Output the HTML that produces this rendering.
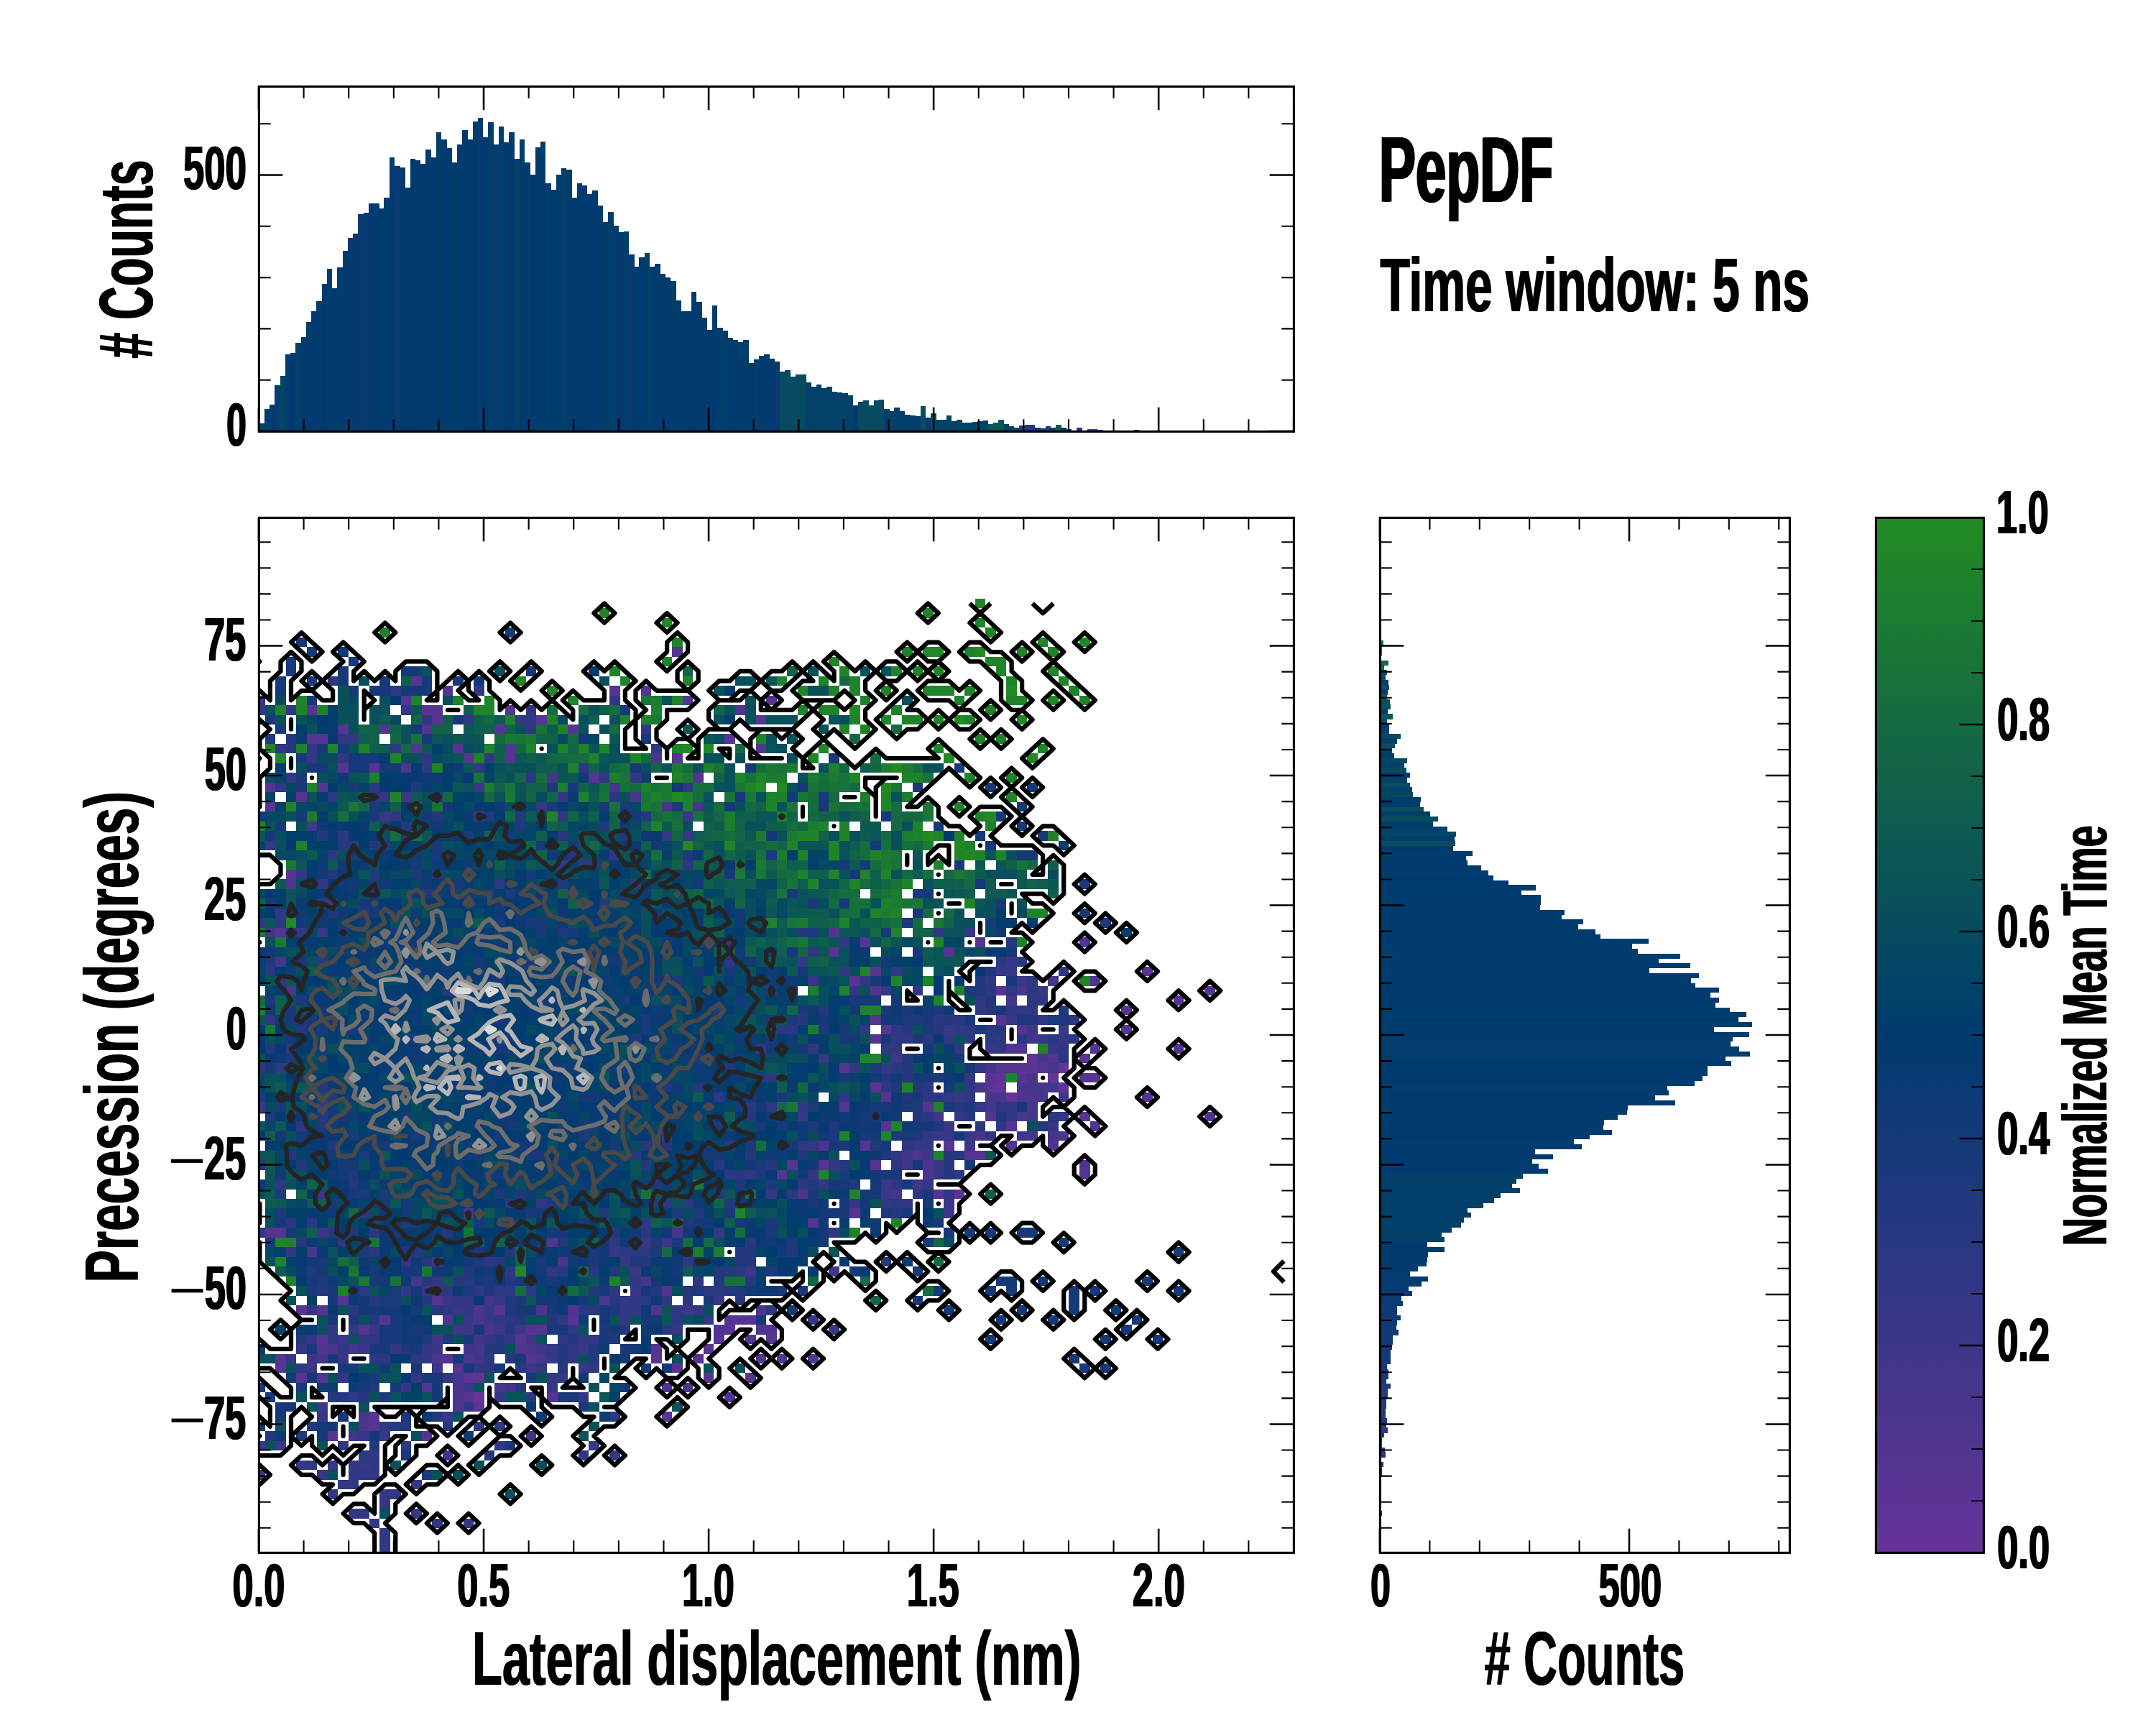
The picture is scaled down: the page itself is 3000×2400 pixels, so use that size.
<!DOCTYPE html><html><head><meta charset="utf-8"><title>PepDF</title><style>html,body{margin:0;padding:0;background:#fff}svg{display:block}</style></head><body><svg width="3000" height="2400" viewBox="0 0 3000 2400" font-family="Liberation Sans, sans-serif" font-weight="bold" fill="#000">
<rect width="3000" height="2400" fill="#fff"/>
<defs>
<clipPath id="cm"><rect x="360" y="720" width="1440" height="1440"/></clipPath>
<clipPath id="ct"><rect x="360" y="120" width="1440" height="480"/></clipPath>
<clipPath id="cr"><rect x="1920" y="720" width="570" height="1440"/></clipPath>
<linearGradient id="cbg" x1="0" y1="1" x2="0" y2="0"><stop offset="0" stop-color="#663399"/><stop offset="0.5" stop-color="#003b6f"/><stop offset="1" stop-color="#228b22"/></linearGradient>
</defs>
<g clip-path="url(#cm)"><g transform="translate(354.135,832.865) scale(14.53,13.47)" shape-rendering="crispEdges" stroke-width="1" fill="none">
<path stroke="#663399" d="M77 48.5h1M76 49.5h1M21 82.5h1"/>
<path stroke="#623397" d="M74 47.5h1M71 50.5h1M77 50.5h1M72 51.5h1M21 80.5h1"/>
<path stroke="#5d3495" d="M73 48.5h2M71 49.5h1M70 50.5h1M67 61.5h1M20 80.5h1"/>
<path stroke="#593494" d="M45 14.5h1M73 49.5h1M79 49.5h1M43 77.5h1M21 83.5h1M39 84.5h1"/>
<path stroke="#553492" d="M15 8.5h1M34 9.5h1M37 9.5h1M14 10.5h1M49 10.5h1M5 11.5h1M16 11.5h2M24 11.5h1M17 12.5h1M27 12.5h1M48 12.5h1M8 13.5h1M12 13.5h1M16 13.5h1M23 13.5h1M30 13.5h1M5 14.5h2M15 15.5h1M19 15.5h1M24 15.5h1M20 16.5h1M24 16.5h1M40 16.5h1M8 17.5h1M11 17.5h1M32 18.5h1M42 18.5h1M1 19.5h1M6 19.5h1M4 20.5h1M1 21.5h1M3 28.5h1M2 34.5h1M55 34.5h1M58 35.5h1M69 35.5h1M79 35.5h1M55 36.5h1M66 36.5h1M59 38.5h1M85 38.5h1M57 39.5h1M59 40.5h1M71 40.5h1M91 40.5h1M88 41.5h1M83 42.5h1M59 43.5h1M71 43.5h1M60 44.5h1M73 44.5h1M83 44.5h1M59 45.5h1M80 46.5h1M79 47.5h1M56 48.5h1M71 48.5h2M75 48.5h1M70 49.5h1M80 49.5h1M59 50.5h1M60 51.5h1M85 51.5h1M56 52.5h1M64 52.5h1M70 53.5h1M79 53.5h1M60 54.5h1M72 54.5h1M58 56.5h1M66 56.5h1M68 57.5h2M51 58.5h1M54 58.5h1M59 58.5h1M50 59.5h1M79 59.5h1M65 61.5h1M57 63.5h1M53 64.5h1M1 65.5h2M8 72.5h1M17 72.5h1M4 73.5h1M6 73.5h1M23 73.5h1M12 74.5h1M30 74.5h1M45 74.5h3M10 75.5h1M26 75.5h2M45 75.5h1M6 76.5h1M25 76.5h1M44 76.5h1M47 76.5h1M49 76.5h1M38 77.5h1M2 78.5h1M26 78.5h1M38 78.5h1M42 78.5h1M48 78.5h1M50 78.5h1M53 78.5h1M2 79.5h1M19 79.5h1M40 79.5h1M4 80.5h1M6 80.5h1M43 80.5h1M47 80.5h1M16 81.5h1M20 82.5h1M28 82.5h1M11 84.5h1M11 85.5h1M7 86.5h1M16 86.5h1"/>
<path stroke="#503590" d="M40 5.5h1M18 9.5h1M41 10.5h1M46 11.5h1M48 15.5h1M80 39.5h1M72 46.5h2M88 46.5h1M76 47.5h1M73 51.5h1M91 53.5h1M80 54.5h1M72 56.5h1M76 56.5h1M79 58.5h1M28 66.5h1M39 71.5h1M30 73.5h1M48 73.5h1M18 74.5h1M44 75.5h1M48 75.5h2M6 77.5h1M18 78.5h1M39 81.5h1M41 81.5h1M45 82.5h1"/>
<path stroke="#4c358e" d="M38 16.5h1M14 17.5h1M3 29.5h1M3 40.5h1M74 51.5h1M77 55.5h1M54 56.5h1M63 57.5h1M64 58.5h1M64 59.5h1M52 61.5h1M20 63.5h1M33 72.5h1M21 73.5h1M27 73.5h1M38 73.5h1M25 77.5h1M17 78.5h1M20 78.5h1M19 83.5h1M10 85.5h1"/>
<path stroke="#48358c" d="M39 21.5h1M73 40.5h1M75 47.5h1M74 49.5h1M73 50.5h1M75 50.5h1M70 51.5h2M73 53.5h1M29 68.5h1M21 74.5h1M22 75.5h1M7 77.5h1M26 77.5h1M27 78.5h1M19 81.5h1M23 81.5h1M19 82.5h1M10 84.5h1"/>
<path stroke="#43368b" d="M28 18.5h1M34 19.5h1M36 20.5h1M42 21.5h1M5 23.5h1M2 37.5h1M76 39.5h1M72 41.5h1M70 48.5h1M76 48.5h1M69 50.5h1M74 50.5h1M76 50.5h1M75 51.5h1M70 52.5h1M74 52.5h1M74 53.5h1M69 55.5h1M74 55.5h1M76 55.5h1M61 61.5h1M40 65.5h1M5 67.5h1M55 69.5h1M15 70.5h1M37 70.5h1M22 72.5h1M9 77.5h1M21 77.5h1M6 78.5h1M19 80.5h1"/>
<path stroke="#3f3689" d="M14 20.5h1M1 34.5h1M74 44.5h1M74 45.5h1M61 47.5h1M65 53.5h1M39 55.5h1M73 55.5h1M62 57.5h1M62 58.5h1M63 60.5h1M66 63.5h1M17 68.5h1M41 73.5h1M19 75.5h2M25 75.5h1M17 76.5h1M21 76.5h1M26 76.5h1M20 77.5h1M27 77.5h1M5 78.5h1M21 78.5h1M20 81.5h1M24 81.5h1M6 83.5h1M9 86.5h1M18 88.5h1"/>
<path stroke="#3b3687" d="M21 19.5h1M21 22.5h1M41 22.5h1M7 31.5h1M73 39.5h1M72 43.5h1M75 45.5h1M77 51.5h1M52 53.5h1M66 54.5h1M68 56.5h1M64 57.5h1M65 58.5h1M60 60.5h1M60 61.5h1M6 65.5h1M39 66.5h1M36 69.5h1M47 69.5h1M18 72.5h1M20 74.5h1M22 74.5h1M23 75.5h1M8 76.5h1M10 77.5h1M17 77.5h1M5 79.5h1M17 79.5h1M26 79.5h1M31 79.5h1M18 84.5h1M26 86.5h1M2 87.5h1"/>
<path stroke="#363785" d="M27 21.5h1M12 22.5h1M39 24.5h1M41 24.5h1M29 27.5h1M6 34.5h1M52 37.5h1M72 37.5h1M71 38.5h2M53 39.5h1M75 40.5h1M66 44.5h1M77 44.5h1M77 45.5h1M48 46.5h1M70 46.5h1M76 46.5h1M54 47.5h1M67 51.5h1M0 52.5h1M69 52.5h1M65 55.5h2M68 55.5h1M63 56.5h2M65 59.5h1M6 61.5h1M49 61.5h1M66 62.5h1M44 65.5h1M37 66.5h1M34 67.5h1M35 68.5h1M16 71.5h2M36 71.5h1M23 72.5h1M44 72.5h1M19 73.5h1M22 73.5h1M11 75.5h1M55 75.5h1M31 77.5h1M8 78.5h1M28 78.5h1M28 81.5h1M6 84.5h1M10 86.5h1M12 86.5h1M0 87.5h1M32 87.5h1M4 89.5h1M7 89.5h1M10 89.5h1M0 90.5h1M12 92.5h1M15 94.5h1M12 98.5h1"/>
<path stroke="#323784" d="M21 9.5h1M0 10.5h1M34 10.5h1M0 11.5h1M3 11.5h1M14 11.5h1M26 11.5h1M16 12.5h1M20 12.5h1M25 12.5h2M26 13.5h1M37 13.5h1M8 14.5h2M5 15.5h1M13 15.5h1M38 15.5h1M5 16.5h1M8 16.5h1M16 16.5h1M22 16.5h1M16 17.5h1M21 17.5h1M3 18.5h1M33 18.5h1M36 18.5h1M2 19.5h1M41 19.5h1M12 20.5h1M29 20.5h1M13 22.5h1M1 25.5h1M34 26.5h1M4 28.5h1M6 29.5h1M36 29.5h1M2 32.5h1M0 33.5h1M65 34.5h1M68 34.5h1M56 35.5h1M53 36.5h1M56 38.5h1M61 38.5h1M77 38.5h1M2 39.5h1M58 39.5h1M57 40.5h1M60 40.5h1M63 40.5h1M72 40.5h1M69 41.5h1M69 42.5h1M72 42.5h2M1 43.5h1M75 43.5h1M58 44.5h1M67 44.5h1M62 45.5h1M66 45.5h1M53 46.5h1M60 46.5h2M71 46.5h1M2 48.5h1M57 48.5h1M60 48.5h1M69 48.5h1M68 49.5h1M60 50.5h1M56 51.5h1M66 51.5h1M68 51.5h1M6 52.5h1M52 52.5h1M71 52.5h2M67 53.5h1M72 53.5h1M77 53.5h1M76 54.5h1M64 55.5h1M70 55.5h1M53 56.5h1M61 57.5h1M55 58.5h1M47 59.5h1M53 59.5h1M2 60.5h1M52 60.5h1M54 60.5h1M61 60.5h1M64 60.5h1M66 61.5h1M27 62.5h1M57 62.5h1M60 62.5h1M62 62.5h1M37 64.5h1M0 65.5h1M55 65.5h1M3 67.5h1M14 68.5h1M41 68.5h1M28 69.5h1M17 70.5h1M36 70.5h1M14 71.5h1M20 72.5h1M35 72.5h1M5 73.5h1M20 73.5h1M35 73.5h2M42 73.5h1M49 73.5h1M23 74.5h1M29 74.5h1M35 74.5h1M43 74.5h1M53 74.5h1M7 75.5h1M9 75.5h1M30 75.5h1M40 75.5h1M5 76.5h1M7 76.5h1M22 76.5h1M24 76.5h1M29 76.5h1M31 76.5h2M4 77.5h1M8 77.5h1M13 77.5h1M16 77.5h1M28 77.5h1M3 78.5h1M16 78.5h1M30 78.5h1M4 79.5h1M21 79.5h1M27 79.5h1M32 79.5h1M8 80.5h1M15 80.5h1M18 80.5h1M28 80.5h2M14 81.5h1M23 82.5h1M31 82.5h1M20 83.5h1M12 85.5h1M21 85.5h1M23 85.5h1M8 87.5h1M23 87.5h1M11 88.5h1M31 88.5h1M34 88.5h1M5 89.5h1M9 89.5h1M6 90.5h1M9 90.5h3M8 91.5h2M15 91.5h1M7 92.5h1M13 92.5h1M12 93.5h1M9 94.5h2M11 95.5h1M17 95.5h1M20 95.5h1M12 96.5h1M12 97.5h1M12 99.5h1"/>
<path stroke="#2e3782" d="M7 8.5h1M13 9.5h1M2 15.5h1M31 17.5h1M26 18.5h1M11 19.5h1M7 20.5h1M29 22.5h1M8 24.5h1M7 26.5h1M31 27.5h2M41 27.5h1M6 31.5h1M2 33.5h1M3 34.5h2M45 35.5h1M6 37.5h1M73 37.5h1M70 39.5h1M74 39.5h1M74 40.5h1M74 41.5h2M74 42.5h1M61 44.5h1M68 44.5h1M61 45.5h1M68 45.5h1M71 45.5h1M3 46.5h1M67 46.5h1M77 46.5h1M0 48.5h1M68 50.5h1M44 51.5h1M64 51.5h1M4 54.5h1M69 54.5h1M52 56.5h1M62 56.5h1M67 59.5h1M63 61.5h1M24 62.5h1M61 62.5h1M3 64.5h1M11 65.5h1M34 66.5h1M35 67.5h1M22 68.5h1M24 69.5h1M42 70.5h1M18 71.5h1M21 71.5h1M23 71.5h1M26 71.5h1M34 71.5h1M43 71.5h2M19 72.5h1M36 72.5h1M39 72.5h1M18 73.5h1M40 73.5h1M10 76.5h2M30 77.5h1M12 78.5h1M22 79.5h1M9 82.5h1M14 87.5h1M10 88.5h1M11 89.5h1"/>
<path stroke="#293880" d="M34 20.5h1M29 24.5h1M9 25.5h1M23 29.5h1M45 37.5h1M71 37.5h1M1 38.5h1M70 40.5h1M65 43.5h1M67 43.5h1M78 43.5h1M50 44.5h2M70 44.5h1M64 45.5h1M70 45.5h1M73 45.5h1M76 45.5h1M78 45.5h1M77 47.5h1M61 48.5h1M49 49.5h1M64 50.5h1M65 51.5h1M47 52.5h1M49 52.5h1M64 53.5h1M76 53.5h1M71 54.5h1M45 56.5h1M36 57.5h1M44 58.5h1M61 58.5h1M45 59.5h2M51 61.5h1M39 62.5h1M41 62.5h1M10 63.5h1M5 64.5h1M7 65.5h1M37 65.5h1M8 66.5h1M47 66.5h1M11 67.5h1M36 67.5h2M23 68.5h1M29 69.5h1M46 69.5h1M20 70.5h1M10 71.5h1M24 71.5h1M37 72.5h1M41 72.5h1M9 73.5h1M31 73.5h2M24 74.5h1M40 74.5h1M11 78.5h1M15 78.5h1M22 78.5h1M25 79.5h1M26 82.5h1M34 84.5h1M13 85.5h1"/>
<path stroke="#25387e" d="M3 14.5h1M3 15.5h1M11 20.5h1M25 22.5h1M37 22.5h1M14 23.5h1M33 23.5h1M6 24.5h1M8 25.5h1M11 25.5h2M30 26.5h1M11 28.5h1M17 28.5h1M29 29.5h1M16 30.5h1M22 30.5h1M35 30.5h1M33 31.5h1M10 32.5h1M52 34.5h1M72 35.5h1M18 40.5h1M49 40.5h1M54 42.5h1M70 42.5h1M52 43.5h1M66 43.5h1M4 44.5h1M62 44.5h1M65 44.5h1M60 49.5h1M62 49.5h1M6 50.5h1M63 50.5h1M67 52.5h1M6 53.5h1M47 53.5h1M68 53.5h1M75 54.5h1M37 56.5h1M39 56.5h1M3 57.5h1M47 57.5h1M66 57.5h2M37 58.5h1M49 58.5h1M56 58.5h1M66 58.5h1M66 59.5h1M44 61.5h1M38 62.5h1M61 63.5h1M18 65.5h1M34 65.5h1M4 66.5h1M15 67.5h1M46 67.5h1M16 68.5h1M60 68.5h1M32 69.5h1M44 69.5h2M16 70.5h1M19 70.5h1M24 70.5h1M44 70.5h1M47 70.5h1M6 71.5h1M41 71.5h1M45 71.5h1M11 72.5h1M16 72.5h1M34 72.5h1M46 72.5h1M17 73.5h1M11 74.5h1M24 75.5h1M39 75.5h1M23 76.5h1M30 76.5h1M22 77.5h2M29 77.5h1M24 78.5h1M29 78.5h1M32 78.5h1M25 81.5h1M7 82.5h2M10 82.5h1M14 85.5h1M18 85.5h1M22 88.5h1"/>
<path stroke="#21387c" d="M1 14.5h1M28 19.5h1M17 22.5h1M22 22.5h1M25 23.5h1M14 24.5h1M35 24.5h1M18 26.5h1M7 28.5h1M1 37.5h1M70 38.5h1M69 40.5h1M4 41.5h1M70 41.5h1M44 42.5h1M77 42.5h1M74 43.5h1M71 44.5h1M36 45.5h1M1 46.5h1M62 47.5h1M59 48.5h1M62 48.5h1M48 49.5h1M42 50.5h1M0 51.5h1M63 53.5h1M71 53.5h1M6 54.5h1M63 55.5h1M7 56.5h1M59 56.5h1M52 57.5h1M0 58.5h1M4 58.5h1M9 60.5h1M53 60.5h1M57 60.5h1M45 62.5h1M33 63.5h1M42 63.5h1M60 63.5h1M11 64.5h1M24 64.5h1M41 64.5h1M9 65.5h1M10 66.5h1M29 66.5h1M38 66.5h1M24 67.5h1M51 67.5h1M36 68.5h2M46 68.5h2M5 69.5h1M20 69.5h1M6 70.5h1M32 71.5h1M38 71.5h1M42 71.5h1M24 72.5h1M24 73.5h1M34 73.5h1M25 74.5h1M28 74.5h1M35 75.5h1M4 76.5h1M18 76.5h1M34 76.5h1M14 77.5h1M32 77.5h1M29 79.5h1M0 81.5h1M11 81.5h1M12 82.5h1M17 84.5h1M5 85.5h1M1 86.5h1M11 87.5h1"/>
<path stroke="#1c397b" d="M9 19.5h1M15 19.5h1M30 19.5h1M11 21.5h1M28 21.5h1M35 21.5h1M40 21.5h1M35 22.5h1M20 24.5h1M27 25.5h1M41 26.5h1M49 26.5h1M15 28.5h1M11 29.5h1M11 30.5h1M24 30.5h1M7 32.5h1M23 33.5h1M81 33.5h1M8 34.5h1M23 34.5h1M29 34.5h1M53 34.5h1M43 35.5h1M32 39.5h1M40 39.5h1M69 39.5h1M68 40.5h1M1 41.5h1M52 42.5h1M65 42.5h1M4 43.5h1M51 43.5h1M62 43.5h2M73 43.5h1M76 43.5h2M6 44.5h1M54 44.5h1M64 44.5h1M69 44.5h1M15 45.5h1M63 45.5h1M3 47.5h1M42 47.5h1M35 48.5h1M45 48.5h1M65 49.5h1M39 50.5h1M61 50.5h1M7 51.5h1M62 51.5h1M2 52.5h1M53 52.5h1M63 52.5h1M68 52.5h1M1 53.5h1M44 54.5h1M53 54.5h1M55 54.5h1M65 54.5h1M9 55.5h1M31 55.5h1M55 55.5h1M61 55.5h1M47 56.5h1M56 56.5h1M10 57.5h1M60 57.5h1M28 58.5h1M48 58.5h1M9 59.5h1M48 59.5h1M56 59.5h1M38 60.5h1M46 60.5h1M49 60.5h1M2 61.5h1M10 61.5h1M12 61.5h1M23 61.5h1M25 61.5h1M25 62.5h1M28 62.5h1M2 63.5h1M40 63.5h1M45 63.5h1M14 64.5h1M51 66.5h1M10 67.5h1M14 67.5h1M38 67.5h1M47 67.5h1M21 68.5h1M32 68.5h1M34 69.5h1M49 69.5h1M22 70.5h1M5 71.5h1M13 71.5h1M20 71.5h1M22 71.5h1M46 71.5h1M12 72.5h2M25 72.5h1M43 72.5h1M9 74.5h1M33 75.5h1M16 76.5h1M11 80.5h1M29 82.5h2M14 84.5h1M4 86.5h1"/>
<path stroke="#183979" d="M24 3.5h1M4 4.5h1M5 5.5h1M3 6.5h1M9 6.5h1M3 7.5h1M8 7.5h1M15 7.5h1M26 7.5h1M2 8.5h1M5 8.5h1M8 8.5h1M12 8.5h1M16 8.5h1M19 8.5h1M9 9.5h1M11 9.5h2M14 9.5h3M5 10.5h1M35 11.5h1M1 12.5h1M19 12.5h1M2 13.5h1M15 13.5h1M16 14.5h1M37 14.5h1M6 15.5h1M8 15.5h1M4 16.5h1M9 16.5h3M55 16.5h1M5 17.5h2M9 17.5h2M12 17.5h1M36 17.5h1M47 17.5h1M67 17.5h1M4 18.5h1M4 19.5h1M52 19.5h1M63 19.5h1M70 19.5h1M17 20.5h1M46 20.5h1M51 20.5h1M54 20.5h1M33 21.5h1M54 21.5h1M0 22.5h1M4 22.5h1M11 22.5h1M16 22.5h1M36 22.5h1M60 22.5h1M71 22.5h1M2 23.5h1M73 23.5h1M1 24.5h1M75 24.5h1M17 25.5h1M30 25.5h1M59 25.5h1M70 25.5h1M17 26.5h1M15 27.5h1M56 27.5h1M58 27.5h1M67 27.5h1M26 28.5h1M45 28.5h1M57 28.5h1M19 29.5h1M42 29.5h1M69 29.5h1M79 29.5h1M17 30.5h1M51 30.5h1M63 30.5h2M1 31.5h1M10 31.5h1M53 31.5h1M56 31.5h1M71 31.5h1M63 32.5h1M79 32.5h1M26 33.5h2M62 33.5h1M70 33.5h1M27 34.5h1M30 34.5h1M60 34.5h1M39 35.5h1M49 36.5h1M51 36.5h1M63 36.5h1M72 36.5h1M4 37.5h1M26 37.5h1M35 37.5h1M60 37.5h1M11 38.5h1M15 38.5h1M45 38.5h1M59 39.5h1M72 39.5h1M19 41.5h1M35 41.5h1M46 41.5h1M57 41.5h3M3 42.5h1M47 42.5h1M60 42.5h1M62 42.5h1M64 42.5h1M71 42.5h1M3 43.5h1M5 43.5h1M37 43.5h1M54 43.5h1M64 43.5h1M68 43.5h1M9 44.5h1M37 44.5h1M56 44.5h1M49 45.5h1M56 45.5h2M60 45.5h1M40 46.5h1M52 46.5h1M64 46.5h1M6 47.5h1M1 48.5h1M29 48.5h1M68 48.5h1M56 49.5h1M61 49.5h1M63 49.5h2M66 50.5h1M50 51.5h1M63 51.5h1M46 52.5h1M59 52.5h2M62 52.5h1M66 52.5h1M73 52.5h1M14 53.5h1M59 53.5h1M31 54.5h2M48 54.5h1M50 54.5h1M63 54.5h2M4 55.5h1M15 55.5h1M58 55.5h1M62 55.5h1M67 55.5h1M11 56.5h1M55 56.5h1M60 56.5h1M26 57.5h2M43 57.5h1M8 58.5h1M63 58.5h1M14 59.5h1M22 59.5h1M25 59.5h1M60 59.5h2M55 60.5h2M62 60.5h1M9 61.5h1M53 61.5h1M59 61.5h1M64 61.5h1M7 62.5h1M11 62.5h2M14 62.5h1M53 62.5h1M56 62.5h1M26 63.5h2M54 63.5h3M62 63.5h1M2 64.5h1M13 64.5h1M21 64.5h1M31 64.5h1M49 64.5h1M65 64.5h1M3 65.5h1M28 65.5h2M49 65.5h1M54 65.5h1M66 65.5h1M68 65.5h1M73 65.5h1M1 66.5h1M40 66.5h1M64 66.5h1M77 66.5h1M21 67.5h1M32 67.5h1M88 67.5h1M6 68.5h1M27 68.5h1M6 69.5h1M11 69.5h1M14 69.5h2M22 69.5h1M57 69.5h1M63 69.5h1M5 70.5h1M11 70.5h1M21 70.5h1M25 70.5h1M28 70.5h1M71 70.5h1M75 70.5h1M85 70.5h1M7 71.5h1M15 71.5h1M29 71.5h1M33 71.5h1M37 71.5h1M50 71.5h1M52 71.5h1M65 71.5h1M78 71.5h1M80 71.5h1M88 71.5h1M7 72.5h1M63 72.5h1M78 72.5h1M11 73.5h1M15 73.5h1M25 73.5h1M28 73.5h1M33 73.5h1M51 73.5h1M66 73.5h1M78 73.5h1M7 74.5h1M13 74.5h1M48 74.5h1M71 74.5h1M76 74.5h1M84 74.5h1M12 75.5h2M15 75.5h1M21 75.5h1M28 75.5h2M83 75.5h1M12 76.5h2M20 76.5h1M33 76.5h1M81 76.5h1M86 76.5h1M5 77.5h1M11 77.5h2M15 77.5h1M35 77.5h1M7 78.5h1M19 78.5h1M25 78.5h1M8 79.5h2M15 79.5h1M20 79.5h1M37 79.5h1M79 79.5h1M16 80.5h2M26 80.5h1M4 81.5h1M10 81.5h1M13 81.5h1M1 82.5h1M2 83.5h2M31 83.5h1M8 84.5h1M11 86.5h1M24 87.5h1M14 88.5h1M16 90.5h1"/>
<path stroke="#143977" d="M8 5.5h1M14 7.5h1M21 8.5h1M2 9.5h1M31 14.5h1M13 17.5h1M37 18.5h1M74 19.5h1M18 21.5h1M45 21.5h1M73 21.5h1M17 23.5h1M65 23.5h1M24 24.5h1M49 24.5h1M69 24.5h1M34 25.5h1M38 25.5h1M9 26.5h1M15 26.5h1M73 26.5h2M8 27.5h1M20 27.5h1M6 28.5h1M40 28.5h1M9 29.5h1M16 29.5h1M20 30.5h1M11 31.5h1M23 31.5h1M11 32.5h1M38 32.5h1M4 33.5h1M13 34.5h1M14 35.5h1M19 35.5h1M1 36.5h1M8 36.5h1M46 36.5h1M7 37.5h1M12 37.5h1M21 37.5h1M34 37.5h1M25 38.5h1M28 38.5h1M31 38.5h1M42 38.5h1M52 38.5h1M23 39.5h1M38 39.5h1M37 40.5h1M13 41.5h1M37 41.5h1M61 41.5h1M57 42.5h1M23 43.5h1M49 43.5h1M61 43.5h1M3 45.5h1M10 45.5h1M23 45.5h1M51 45.5h1M22 46.5h3M38 46.5h1M49 46.5h1M11 47.5h1M16 47.5h1M18 47.5h1M45 47.5h2M67 47.5h1M42 48.5h1M59 49.5h1M13 50.5h1M2 51.5h1M31 51.5h2M47 51.5h1M7 52.5h1M48 52.5h1M7 53.5h3M40 53.5h1M49 53.5h1M58 53.5h1M11 54.5h1M24 54.5h1M29 54.5h1M2 55.5h1M23 55.5h1M59 55.5h1M12 56.5h1M25 56.5h1M34 56.5h1M43 56.5h1M51 56.5h1M7 57.5h2M21 57.5h1M44 57.5h1M9 58.5h1M12 58.5h1M24 58.5h1M47 58.5h1M53 58.5h1M68 58.5h1M2 59.5h1M8 59.5h1M52 59.5h1M59 59.5h1M0 60.5h1M37 60.5h1M59 60.5h1M58 61.5h1M30 62.5h1M42 62.5h1M46 62.5h1M58 62.5h1M64 62.5h1M14 63.5h1M15 64.5h1M42 64.5h2M46 64.5h1M54 64.5h1M13 65.5h1M36 65.5h1M70 65.5h1M74 65.5h1M27 66.5h1M33 66.5h1M35 66.5h1M54 66.5h1M29 67.5h2M33 67.5h1M50 67.5h1M5 68.5h1M20 68.5h1M30 68.5h1M42 68.5h1M27 69.5h1M40 69.5h1M12 70.5h1M38 70.5h1M72 70.5h1M47 71.5h1M70 71.5h1M72 71.5h1M10 72.5h1M27 72.5h2M31 72.5h1M10 73.5h1M12 73.5h2M26 73.5h1M73 73.5h1M82 73.5h1M31 74.5h1M33 74.5h1M37 74.5h2M34 75.5h1M70 76.5h1M36 77.5h1M35 78.5h1M78 78.5h1M12 79.5h1M23 79.5h1M39 79.5h1M81 79.5h1M3 80.5h1M5 80.5h1M17 81.5h1M35 81.5h1M17 82.5h1M2 84.5h1M33 84.5h1M6 85.5h2M6 86.5h1"/>
<path stroke="#0f3a75" d="M19 17.5h1M8 18.5h1M16 18.5h2M31 18.5h1M40 19.5h1M23 21.5h1M6 23.5h1M35 23.5h1M18 24.5h1M35 25.5h1M12 26.5h1M28 26.5h1M42 26.5h1M6 27.5h1M17 27.5h1M8 29.5h1M12 29.5h1M18 29.5h1M15 30.5h1M18 30.5h1M30 30.5h1M37 30.5h1M27 31.5h1M4 32.5h1M8 32.5h1M13 32.5h1M15 32.5h1M23 32.5h1M25 32.5h1M46 32.5h1M6 33.5h1M10 33.5h1M14 33.5h1M29 33.5h1M32 33.5h1M46 33.5h1M71 34.5h1M8 35.5h1M15 35.5h1M21 35.5h1M23 35.5h1M0 37.5h1M18 37.5h1M32 37.5h2M47 37.5h1M3 38.5h1M16 38.5h1M18 38.5h1M21 38.5h1M49 38.5h1M30 39.5h1M33 39.5h1M39 39.5h1M49 39.5h1M51 39.5h1M16 40.5h1M34 40.5h1M27 41.5h2M1 42.5h1M6 42.5h2M13 42.5h1M20 42.5h1M38 42.5h1M53 42.5h1M61 42.5h1M7 43.5h1M10 43.5h1M15 43.5h1M44 43.5h1M60 43.5h1M27 45.5h1M38 45.5h1M46 45.5h2M6 46.5h1M21 46.5h1M50 46.5h1M66 46.5h1M2 47.5h1M15 47.5h1M31 47.5h1M41 47.5h1M30 48.5h1M34 48.5h1M22 49.5h1M43 49.5h1M66 49.5h1M19 50.5h1M22 50.5h1M38 50.5h1M40 50.5h1M22 51.5h1M29 51.5h1M37 51.5h1M45 51.5h2M61 51.5h1M29 52.5h1M33 52.5h1M61 52.5h1M17 53.5h3M23 53.5h1M33 53.5h1M42 53.5h1M56 53.5h1M61 53.5h1M7 54.5h1M17 54.5h1M35 54.5h1M52 54.5h1M58 54.5h1M62 54.5h1M6 55.5h1M16 55.5h1M52 55.5h1M54 55.5h1M17 56.5h1M20 56.5h1M26 56.5h1M5 57.5h1M20 57.5h1M25 57.5h1M41 57.5h1M49 57.5h2M15 58.5h1M19 58.5h1M34 58.5h1M7 59.5h1M23 59.5h1M10 60.5h1M29 60.5h1M31 60.5h1M36 60.5h1M39 60.5h1M21 61.5h1M26 61.5h1M28 61.5h1M33 61.5h1M35 61.5h1M56 61.5h1M54 62.5h1M7 63.5h1M58 63.5h1M59 64.5h1M17 65.5h1M39 65.5h1M41 65.5h1M5 66.5h1M25 66.5h1M49 66.5h1M10 68.5h1M12 68.5h1M15 68.5h1M33 68.5h1M40 68.5h1M17 69.5h2M21 69.5h1M7 70.5h1M14 70.5h1M23 70.5h1M26 70.5h2M29 70.5h1M33 70.5h1M9 71.5h1M38 72.5h1M37 73.5h1M14 74.5h1M5 75.5h1M14 75.5h1M16 75.5h1M37 75.5h1M14 76.5h2M33 77.5h1M10 80.5h1M6 81.5h2M9 81.5h1M2 86.5h1M20 86.5h1"/>
<path stroke="#0b3a73" d="M4 14.5h1M15 18.5h1M16 19.5h1M30 20.5h1M25 21.5h1M20 22.5h1M8 23.5h1M10 23.5h1M5 24.5h1M7 24.5h1M37 24.5h1M36 25.5h1M33 26.5h1M10 27.5h1M14 27.5h1M45 27.5h1M8 28.5h1M16 28.5h1M17 29.5h1M32 29.5h1M6 30.5h1M9 30.5h1M25 30.5h1M4 31.5h1M19 31.5h1M39 31.5h1M6 32.5h1M7 33.5h1M25 33.5h1M34 33.5h1M72 33.5h1M15 34.5h1M21 34.5h1M4 35.5h1M12 35.5h1M31 36.5h1M39 36.5h1M10 37.5h1M24 37.5h1M14 38.5h1M18 39.5h1M20 39.5h1M22 39.5h1M28 39.5h1M42 39.5h1M45 39.5h1M50 39.5h1M2 40.5h1M29 40.5h1M31 40.5h1M38 40.5h1M46 40.5h1M20 41.5h3M31 41.5h1M10 42.5h1M15 42.5h1M23 42.5h1M26 42.5h1M32 42.5h1M37 42.5h1M39 42.5h1M63 42.5h1M66 42.5h1M8 43.5h1M35 43.5h2M38 43.5h1M29 44.5h2M33 44.5h1M24 45.5h1M40 45.5h1M43 45.5h1M65 45.5h1M14 46.5h2M31 46.5h2M42 46.5h1M1 47.5h1M10 47.5h1M13 47.5h2M37 47.5h1M63 47.5h1M12 48.5h1M24 48.5h1M28 48.5h1M39 48.5h1M43 48.5h1M5 49.5h1M7 49.5h1M16 49.5h1M28 49.5h1M42 49.5h1M46 49.5h1M67 49.5h1M7 50.5h1M17 50.5h2M24 50.5h1M36 50.5h1M44 50.5h1M51 50.5h1M53 50.5h1M9 51.5h1M11 51.5h1M20 51.5h2M26 51.5h1M35 51.5h1M48 51.5h1M58 51.5h1M12 52.5h1M22 52.5h1M24 52.5h1M55 52.5h1M58 52.5h1M24 53.5h1M54 53.5h2M8 54.5h1M23 54.5h1M51 54.5h1M57 54.5h1M59 54.5h1M7 55.5h1M19 55.5h1M30 55.5h1M45 55.5h1M10 56.5h1M13 56.5h4M24 57.5h1M32 57.5h1M40 57.5h1M54 57.5h1M59 57.5h1M27 58.5h1M29 58.5h2M45 58.5h1M11 59.5h1M21 59.5h1M24 59.5h1M26 59.5h1M31 59.5h1M34 59.5h1M40 59.5h1M49 59.5h1M8 60.5h1M12 60.5h1M18 60.5h1M50 61.5h1M9 62.5h1M20 62.5h1M22 62.5h1M37 62.5h1M51 62.5h2M12 63.5h1M43 63.5h1M12 64.5h1M16 64.5h1M47 64.5h1M64 64.5h1M8 65.5h1M14 65.5h1M12 66.5h2M16 66.5h1M36 66.5h1M48 66.5h1M53 66.5h1M28 67.5h1M31 68.5h1M38 68.5h2M62 68.5h1M4 69.5h1M12 69.5h1M37 69.5h1M39 69.5h1M58 69.5h1M40 70.5h1M19 71.5h1M48 71.5h2M9 72.5h1M15 72.5h1M29 72.5h1M29 73.5h1M38 75.5h1M37 76.5h1M14 78.5h1M31 80.5h1"/>
<path stroke="#073a72" d="M6 12.5h1M7 13.5h1M7 14.5h1M14 18.5h1M20 18.5h1M12 19.5h1M14 19.5h1M21 21.5h1M29 21.5h1M13 23.5h1M21 23.5h1M9 24.5h1M19 24.5h1M38 24.5h1M3 25.5h1M14 25.5h1M13 26.5h1M24 26.5h1M18 27.5h1M34 27.5h1M20 29.5h1M1 30.5h1M8 30.5h1M27 30.5h1M33 30.5h1M13 31.5h1M21 31.5h1M24 31.5h1M29 31.5h1M24 32.5h1M29 32.5h1M32 32.5h1M44 32.5h2M18 33.5h2M38 33.5h1M42 33.5h1M74 33.5h1M16 34.5h1M36 34.5h1M38 34.5h1M40 34.5h1M5 35.5h1M13 35.5h1M24 35.5h1M30 35.5h1M40 35.5h1M0 36.5h1M10 36.5h2M14 36.5h1M17 36.5h1M21 36.5h1M29 36.5h1M34 36.5h1M37 36.5h1M57 36.5h2M70 36.5h1M14 37.5h2M30 37.5h2M38 37.5h1M41 37.5h1M7 38.5h3M13 38.5h1M17 38.5h1M34 38.5h1M36 38.5h1M69 38.5h1M14 39.5h2M21 39.5h1M36 39.5h1M6 40.5h1M11 40.5h1M19 40.5h1M51 40.5h1M65 40.5h1M5 41.5h2M12 41.5h1M14 41.5h1M41 41.5h1M43 41.5h2M56 41.5h1M12 42.5h1M27 42.5h1M33 42.5h1M42 42.5h1M45 42.5h1M6 43.5h1M11 43.5h1M18 43.5h1M20 43.5h1M24 43.5h1M39 43.5h1M55 43.5h1M5 44.5h1M7 44.5h2M12 44.5h1M15 44.5h1M0 45.5h1M4 45.5h2M7 45.5h1M11 45.5h1M16 45.5h1M22 45.5h1M29 45.5h1M37 45.5h1M2 46.5h1M16 46.5h1M18 46.5h1M20 46.5h1M36 46.5h1M12 47.5h1M23 47.5h1M28 47.5h1M11 48.5h1M22 48.5h2M52 48.5h1M55 48.5h1M6 49.5h1M10 49.5h2M13 49.5h1M17 49.5h1M29 49.5h1M45 49.5h1M51 49.5h1M12 50.5h1M20 50.5h2M25 50.5h1M27 50.5h2M34 50.5h2M37 50.5h1M5 51.5h1M8 51.5h1M16 51.5h1M24 51.5h1M33 51.5h1M38 51.5h1M20 52.5h1M27 52.5h1M31 52.5h2M34 52.5h1M38 52.5h1M40 52.5h1M43 52.5h1M4 53.5h1M10 53.5h1M12 53.5h1M21 53.5h1M25 53.5h1M30 53.5h1M32 53.5h1M34 53.5h1M36 53.5h1M39 53.5h1M44 53.5h1M57 53.5h1M60 53.5h1M21 54.5h1M28 54.5h1M33 54.5h2M54 54.5h1M56 54.5h1M0 55.5h1M12 55.5h1M14 55.5h1M22 55.5h1M33 55.5h1M37 55.5h1M47 55.5h1M5 56.5h2M8 56.5h1M22 56.5h3M30 56.5h2M50 56.5h1M14 57.5h2M18 57.5h1M37 57.5h1M42 57.5h1M46 57.5h1M57 57.5h2M11 58.5h1M16 58.5h1M58 58.5h1M5 59.5h1M17 59.5h2M20 59.5h1M27 59.5h1M29 59.5h1M38 59.5h1M15 60.5h1M23 60.5h1M32 60.5h1M47 60.5h1M8 61.5h1M46 61.5h1M23 62.5h1M36 62.5h1M5 63.5h1M18 63.5h1M24 63.5h2M28 63.5h1M52 63.5h1M12 65.5h1M23 65.5h1M47 65.5h2M59 65.5h1M14 66.5h1M22 66.5h1M26 66.5h1M46 66.5h1M50 66.5h1M6 67.5h1M12 67.5h1M17 67.5h1M22 67.5h1M27 67.5h1M40 67.5h1M52 67.5h1M4 68.5h1M13 68.5h1M18 68.5h1M51 68.5h2M10 69.5h1M13 69.5h1M26 69.5h1M50 69.5h1M4 70.5h1M39 70.5h1M28 71.5h1M21 72.5h1M7 73.5h1M15 74.5h1M13 78.5h1M34 78.5h1M14 80.5h1M16 84.5h1M27 84.5h1M0 85.5h1"/>
<path stroke="#023b70" d="M32 7.5h1M13 10.5h1M45 12.5h1M6 13.5h1M2 17.5h1M12 18.5h1M14 21.5h1M22 21.5h1M23 22.5h1M7 23.5h1M9 23.5h1M10 24.5h2M28 24.5h1M66 24.5h1M20 25.5h1M77 25.5h1M12 27.5h2M19 27.5h1M5 28.5h1M25 28.5h1M27 28.5h1M7 29.5h1M24 29.5h2M7 30.5h1M32 30.5h1M12 31.5h1M16 31.5h2M25 31.5h2M32 31.5h1M1 32.5h1M9 32.5h1M12 32.5h1M20 32.5h1M11 33.5h1M24 33.5h1M11 34.5h1M34 34.5h1M39 34.5h1M48 34.5h1M16 35.5h1M22 35.5h1M31 35.5h1M12 36.5h1M19 36.5h1M26 36.5h1M30 36.5h1M40 36.5h1M42 36.5h1M71 36.5h1M8 37.5h1M27 37.5h1M29 37.5h1M37 37.5h1M43 37.5h1M63 37.5h1M10 38.5h1M26 38.5h1M43 38.5h1M48 38.5h1M5 39.5h2M10 39.5h1M19 39.5h1M24 39.5h3M31 39.5h1M35 39.5h1M47 39.5h1M65 39.5h1M67 39.5h1M13 40.5h1M15 40.5h1M20 40.5h1M23 40.5h1M27 40.5h1M40 40.5h1M7 41.5h1M9 41.5h1M17 41.5h1M30 41.5h1M36 41.5h1M9 42.5h1M14 42.5h1M17 42.5h1M21 42.5h2M25 42.5h1M29 42.5h1M25 43.5h1M28 43.5h1M30 43.5h2M41 43.5h1M0 44.5h1M2 44.5h1M13 44.5h1M23 44.5h1M25 44.5h1M35 44.5h1M39 44.5h1M55 44.5h1M9 45.5h1M21 45.5h1M25 45.5h2M30 45.5h3M42 45.5h1M50 45.5h1M53 45.5h1M0 46.5h1M5 46.5h1M12 46.5h1M25 46.5h1M41 46.5h1M7 47.5h1M19 47.5h1M25 47.5h1M43 47.5h1M7 48.5h2M14 48.5h1M19 48.5h1M21 48.5h1M32 48.5h1M53 48.5h1M3 49.5h1M9 49.5h1M19 49.5h1M23 49.5h3M30 49.5h2M34 49.5h2M55 49.5h1M14 50.5h1M23 50.5h1M29 50.5h1M31 50.5h1M47 50.5h1M25 51.5h1M28 51.5h1M34 51.5h1M36 51.5h1M43 51.5h1M5 52.5h1M36 52.5h1M39 52.5h1M57 52.5h1M2 53.5h1M38 53.5h1M46 53.5h1M48 53.5h1M3 54.5h1M13 54.5h1M19 54.5h1M39 54.5h1M43 54.5h1M8 55.5h1M21 55.5h1M27 55.5h1M36 55.5h1M40 55.5h1M46 55.5h1M48 55.5h2M1 56.5h1M9 56.5h1M27 56.5h1M9 57.5h1M13 57.5h1M28 57.5h1M33 57.5h1M39 57.5h1M3 58.5h1M13 58.5h1M17 58.5h1M20 58.5h1M6 59.5h1M10 59.5h1M16 59.5h1M32 59.5h1M35 59.5h1M41 59.5h1M44 59.5h1M57 59.5h1M7 60.5h1M16 60.5h1M20 60.5h2M28 60.5h1M43 60.5h1M5 61.5h1M15 61.5h2M20 61.5h1M29 61.5h1M48 61.5h1M19 62.5h1M21 62.5h1M31 62.5h1M33 62.5h1M35 62.5h1M47 62.5h1M21 63.5h1M39 63.5h1M64 63.5h1M23 64.5h1M27 64.5h1M29 64.5h1M44 64.5h1M16 65.5h1M22 65.5h1M27 65.5h1M33 65.5h1M43 65.5h1M53 65.5h1M18 66.5h2M45 66.5h1M19 67.5h2M23 67.5h1M31 67.5h1M49 67.5h1M44 68.5h1M50 68.5h1M30 69.5h1M53 69.5h1M14 73.5h1M37 77.5h1M9 80.5h1M26 83.5h1"/>
<path stroke="#013d6d" d="M45 9.5h1M7 11.5h1M7 12.5h1M4 13.5h1M12 16.5h1M15 17.5h1M18 17.5h1M13 18.5h1M18 18.5h1M7 19.5h1M13 19.5h1M18 19.5h1M6 20.5h1M19 21.5h1M6 22.5h1M33 22.5h1M20 23.5h1M4 24.5h1M6 25.5h2M10 25.5h1M22 25.5h1M25 25.5h1M51 26.5h1M5 27.5h1M9 27.5h1M22 27.5h1M47 27.5h1M9 28.5h1M35 28.5h1M5 29.5h1M13 29.5h2M34 29.5h1M37 29.5h1M40 29.5h1M2 30.5h1M5 30.5h1M23 30.5h1M18 31.5h1M22 31.5h1M22 32.5h1M26 32.5h1M30 32.5h2M41 32.5h2M9 33.5h1M12 33.5h1M16 33.5h2M36 33.5h1M39 33.5h1M71 33.5h1M7 34.5h1M14 34.5h1M17 34.5h1M20 34.5h1M22 34.5h1M25 34.5h1M31 34.5h1M33 34.5h1M35 34.5h1M46 34.5h1M83 34.5h1M7 35.5h1M28 35.5h1M36 35.5h1M57 35.5h1M9 36.5h1M13 36.5h1M27 36.5h2M32 36.5h1M43 36.5h1M9 37.5h1M19 37.5h1M25 37.5h1M44 37.5h1M2 38.5h1M19 38.5h1M27 38.5h1M0 39.5h1M11 39.5h1M17 39.5h1M29 39.5h1M52 39.5h1M60 39.5h1M4 40.5h1M12 40.5h1M14 40.5h1M24 40.5h1M26 40.5h1M33 40.5h1M43 40.5h1M15 41.5h1M24 41.5h1M55 41.5h1M11 42.5h1M19 42.5h1M43 42.5h1M55 42.5h1M22 43.5h1M26 43.5h2M29 43.5h1M42 43.5h2M11 44.5h1M16 44.5h1M18 44.5h3M24 44.5h1M32 44.5h1M41 44.5h1M52 44.5h1M17 45.5h1M19 45.5h1M41 45.5h1M4 46.5h1M26 46.5h1M43 46.5h2M54 46.5h1M58 46.5h1M17 47.5h1M21 47.5h1M26 47.5h1M32 47.5h2M39 47.5h2M44 47.5h1M64 47.5h1M13 48.5h1M17 48.5h1M20 48.5h1M27 48.5h1M31 48.5h1M36 48.5h1M38 48.5h1M44 48.5h1M64 48.5h1M4 49.5h1M18 49.5h1M26 49.5h2M58 49.5h1M9 50.5h2M16 50.5h1M45 50.5h1M48 50.5h1M3 51.5h2M10 51.5h1M27 51.5h1M39 51.5h1M17 52.5h1M19 52.5h1M23 52.5h1M25 52.5h1M28 52.5h1M41 52.5h1M20 53.5h1M29 53.5h1M50 53.5h1M53 53.5h1M14 54.5h1M37 54.5h1M49 54.5h1M5 55.5h1M10 55.5h2M17 55.5h2M24 55.5h2M41 55.5h1M50 55.5h1M57 55.5h1M18 56.5h1M29 56.5h1M38 56.5h1M40 56.5h3M57 56.5h1M11 57.5h1M16 57.5h2M23 57.5h1M30 57.5h1M7 58.5h1M18 58.5h1M26 58.5h1M32 58.5h1M52 58.5h1M33 59.5h1M58 59.5h1M27 60.5h1M34 60.5h1M41 60.5h1M44 60.5h1M51 60.5h1M18 61.5h1M30 61.5h1M6 63.5h1M51 63.5h1M53 63.5h1M4 64.5h1M6 64.5h1M8 64.5h1M51 64.5h2M10 65.5h1M21 65.5h1M25 65.5h1M30 65.5h3M42 65.5h1M45 65.5h1M15 66.5h1M42 66.5h1M52 66.5h1M41 67.5h1M19 68.5h1M28 68.5h1M34 68.5h1M43 68.5h1M56 68.5h1M33 69.5h1M51 69.5h1M30 70.5h1M48 70.5h1M30 72.5h1M16 74.5h1M15 81.5h1"/>
<path stroke="#02406a" d="M17 15.5h1M22 17.5h1M1 20.5h1M3 20.5h1M20 20.5h1M2 21.5h1M31 21.5h1M14 22.5h1M19 22.5h1M22 23.5h1M27 23.5h1M3 24.5h1M17 24.5h1M21 24.5h1M5 25.5h1M15 25.5h1M24 25.5h1M28 25.5h1M11 26.5h1M29 26.5h1M39 26.5h1M35 27.5h2M53 27.5h1M12 28.5h1M21 28.5h2M34 28.5h1M38 28.5h1M22 29.5h1M28 29.5h1M30 29.5h2M2 31.5h1M5 31.5h1M8 31.5h1M36 31.5h1M45 31.5h1M0 32.5h1M5 32.5h1M34 32.5h1M48 32.5h1M71 32.5h1M15 33.5h1M9 34.5h2M24 34.5h1M26 34.5h1M28 34.5h1M45 34.5h1M3 35.5h1M6 35.5h1M9 35.5h1M17 35.5h2M20 35.5h1M27 35.5h1M32 35.5h2M44 35.5h1M46 35.5h1M5 36.5h1M20 36.5h1M24 36.5h1M33 36.5h1M35 36.5h2M38 36.5h1M3 37.5h1M13 37.5h1M16 37.5h2M22 37.5h1M36 37.5h1M46 37.5h1M57 37.5h2M61 37.5h2M20 38.5h1M22 38.5h3M37 38.5h2M50 38.5h1M4 39.5h1M8 39.5h1M34 39.5h1M37 39.5h1M17 40.5h1M21 40.5h1M28 40.5h1M30 40.5h1M35 40.5h2M42 40.5h1M50 40.5h1M18 41.5h1M23 41.5h1M25 41.5h1M32 41.5h1M34 41.5h1M49 41.5h3M24 42.5h1M28 42.5h1M34 42.5h2M13 43.5h2M19 43.5h1M34 43.5h1M53 43.5h1M21 44.5h2M34 44.5h1M36 44.5h1M38 44.5h1M44 44.5h1M46 44.5h1M14 45.5h1M20 45.5h1M33 45.5h3M48 45.5h1M54 45.5h1M9 46.5h2M13 46.5h1M27 46.5h1M34 46.5h1M46 46.5h2M20 47.5h1M29 47.5h1M36 47.5h1M48 47.5h1M53 47.5h1M16 48.5h1M46 48.5h1M51 48.5h1M20 49.5h1M36 49.5h1M39 49.5h1M52 49.5h1M8 50.5h1M11 50.5h1M30 50.5h1M32 50.5h1M43 50.5h1M49 50.5h1M1 51.5h1M13 51.5h2M49 51.5h1M11 52.5h1M14 52.5h1M16 52.5h1M18 52.5h1M26 52.5h1M42 52.5h1M44 52.5h1M54 52.5h1M11 53.5h1M13 53.5h1M27 53.5h1M10 54.5h1M12 54.5h1M20 54.5h1M22 54.5h1M27 54.5h1M30 54.5h1M40 54.5h1M20 55.5h1M26 55.5h1M28 55.5h1M38 55.5h1M44 55.5h1M2 56.5h1M4 56.5h1M33 56.5h1M35 56.5h1M46 56.5h1M38 57.5h1M51 57.5h1M14 58.5h1M21 58.5h1M25 58.5h1M33 58.5h1M40 58.5h4M4 60.5h1M33 60.5h1M11 61.5h1M22 61.5h1M42 61.5h1M55 61.5h1M26 62.5h1M43 62.5h1M48 62.5h2M3 63.5h2M13 63.5h1M19 63.5h1M29 63.5h1M36 63.5h1M10 64.5h1M30 64.5h1M32 64.5h1M56 64.5h1M58 64.5h1M15 65.5h1M19 65.5h1M35 65.5h1M51 65.5h1M7 66.5h1M2 67.5h1M4 67.5h1M8 67.5h1M3 68.5h1M26 68.5h1M8 69.5h1M23 69.5h1M48 69.5h1M5 72.5h1M2 75.5h1M4 75.5h1M0 77.5h1M34 82.5h1"/>
<path stroke="#044467" d="M5 12.5h1M32 14.5h1M2 18.5h1M22 18.5h1M10 19.5h1M17 19.5h1M19 20.5h1M21 20.5h1M5 21.5h1M7 21.5h1M12 21.5h1M10 22.5h1M16 23.5h1M18 23.5h1M23 23.5h2M31 23.5h1M25 24.5h1M0 25.5h1M21 25.5h1M23 25.5h1M39 25.5h1M6 26.5h1M10 26.5h1M19 26.5h2M26 26.5h1M53 26.5h2M21 27.5h1M25 27.5h1M30 27.5h1M37 27.5h1M20 28.5h1M32 28.5h1M42 28.5h1M10 29.5h1M28 30.5h1M43 30.5h1M35 31.5h1M48 31.5h1M36 32.5h1M5 33.5h1M8 33.5h1M28 33.5h1M33 33.5h1M40 33.5h2M12 34.5h1M18 34.5h1M41 34.5h1M11 35.5h1M25 35.5h1M29 35.5h1M35 35.5h1M67 35.5h1M18 36.5h1M25 36.5h1M61 36.5h1M20 37.5h1M28 37.5h1M32 38.5h1M41 38.5h1M9 39.5h1M12 39.5h1M27 39.5h1M41 39.5h1M1 40.5h1M10 40.5h1M25 40.5h1M39 40.5h1M44 40.5h1M55 40.5h1M61 40.5h1M10 41.5h1M16 41.5h1M26 41.5h1M29 41.5h1M45 41.5h1M64 41.5h1M36 42.5h1M50 42.5h1M2 43.5h1M12 43.5h1M17 43.5h1M21 43.5h1M56 43.5h1M58 43.5h1M27 44.5h2M31 44.5h1M42 44.5h2M45 44.5h1M12 45.5h2M28 45.5h1M39 45.5h1M45 45.5h1M8 46.5h1M11 46.5h1M19 46.5h1M29 46.5h1M33 46.5h1M39 46.5h1M51 46.5h1M4 47.5h1M9 47.5h1M22 47.5h1M24 47.5h1M47 47.5h1M55 47.5h3M66 47.5h1M15 48.5h1M25 48.5h2M41 48.5h1M66 48.5h1M8 49.5h1M15 49.5h1M21 49.5h1M41 49.5h1M57 49.5h1M0 50.5h1M15 50.5h1M33 50.5h1M58 50.5h1M15 51.5h1M17 51.5h1M19 51.5h1M23 51.5h1M40 51.5h2M13 52.5h1M21 52.5h1M30 52.5h1M35 52.5h1M45 52.5h1M22 53.5h1M31 53.5h1M41 53.5h1M5 54.5h1M15 54.5h1M25 54.5h1M41 54.5h1M29 55.5h1M32 55.5h1M34 55.5h1M43 55.5h1M19 56.5h1M21 56.5h1M32 56.5h1M49 56.5h1M4 57.5h1M6 57.5h1M45 57.5h1M48 57.5h1M2 58.5h1M5 58.5h1M35 58.5h1M38 58.5h1M46 58.5h1M13 59.5h1M19 59.5h1M30 59.5h1M14 60.5h1M17 60.5h1M22 60.5h1M24 60.5h1M26 60.5h1M35 60.5h1M45 60.5h1M48 60.5h1M7 61.5h1M13 61.5h1M24 61.5h1M31 61.5h1M39 61.5h1M10 62.5h1M29 62.5h1M8 63.5h1M30 63.5h1M34 64.5h1M48 64.5h1M38 65.5h1M9 66.5h1M30 66.5h1M1 67.5h1M43 67.5h1M48 67.5h1M11 68.5h1M49 68.5h1M43 69.5h1M27 71.5h1M14 82.5h2"/>
<path stroke="#054764" d="M17 16.5h1M19 18.5h1M3 19.5h1M8 19.5h1M4 21.5h1M20 21.5h1M26 21.5h1M36 21.5h1M1 22.5h1M15 22.5h1M18 22.5h1M26 23.5h1M30 23.5h1M26 24.5h1M13 25.5h1M19 25.5h1M3 26.5h1M16 26.5h1M22 26.5h2M25 26.5h1M55 27.5h1M13 28.5h1M19 28.5h1M24 28.5h1M28 28.5h1M31 28.5h1M39 28.5h1M41 28.5h1M15 29.5h1M21 29.5h1M26 29.5h1M35 29.5h1M38 29.5h1M41 29.5h1M49 29.5h1M0 30.5h1M19 30.5h1M21 30.5h1M26 30.5h1M34 30.5h1M44 30.5h1M47 30.5h1M14 31.5h1M20 31.5h1M28 31.5h1M37 31.5h1M50 31.5h1M17 32.5h3M21 32.5h1M27 32.5h1M33 32.5h1M40 32.5h1M50 32.5h1M35 33.5h1M5 34.5h1M47 34.5h1M70 34.5h1M26 35.5h1M34 35.5h1M37 35.5h1M41 35.5h1M66 35.5h1M2 36.5h1M23 36.5h1M41 36.5h1M68 36.5h1M11 37.5h1M0 38.5h1M6 38.5h1M33 38.5h1M46 38.5h1M60 38.5h1M63 38.5h1M13 39.5h1M16 39.5h1M44 39.5h1M46 39.5h1M48 39.5h1M54 39.5h1M62 39.5h2M5 40.5h1M8 40.5h1M22 40.5h1M45 40.5h1M48 40.5h1M8 41.5h1M11 41.5h1M33 41.5h1M40 41.5h1M42 41.5h1M47 41.5h1M16 42.5h1M18 42.5h1M30 42.5h2M40 42.5h1M46 42.5h1M16 43.5h1M32 43.5h2M45 43.5h1M10 44.5h1M17 44.5h1M26 44.5h1M47 44.5h1M2 45.5h1M6 45.5h1M8 45.5h1M17 46.5h1M28 46.5h1M57 46.5h1M8 47.5h1M30 47.5h1M34 47.5h2M65 47.5h1M5 48.5h2M37 48.5h1M40 48.5h1M12 49.5h1M32 49.5h1M37 49.5h1M40 49.5h1M44 49.5h1M47 49.5h1M3 50.5h1M41 50.5h1M46 50.5h1M54 50.5h1M12 51.5h1M18 51.5h1M30 51.5h1M53 51.5h1M57 51.5h1M9 52.5h1M37 52.5h1M16 53.5h1M37 53.5h1M43 53.5h1M51 53.5h1M1 54.5h1M9 54.5h1M26 54.5h1M38 54.5h1M3 56.5h1M44 56.5h1M2 57.5h1M22 57.5h1M29 57.5h1M31 57.5h1M34 57.5h1M53 57.5h1M6 58.5h1M31 58.5h1M50 58.5h1M28 59.5h1M37 59.5h1M39 59.5h1M43 59.5h1M19 60.5h1M30 60.5h1M40 60.5h1M17 61.5h1M41 61.5h1M43 61.5h1M4 62.5h1M8 62.5h1M15 62.5h2M32 62.5h1M15 63.5h1M23 63.5h1M38 63.5h1M50 63.5h1M9 64.5h1M17 64.5h1M25 64.5h1M35 64.5h2M6 66.5h1M9 67.5h1M13 67.5h1M16 67.5h1M18 67.5h1M24 68.5h1M45 68.5h1M38 69.5h1M42 69.5h1M8 70.5h1M12 71.5h1M33 80.5h1M34 81.5h1"/>
<path stroke="#074a60" d="M2 10.5h1M9 10.5h1M13 12.5h1M29 12.5h1M29 14.5h1M18 15.5h1M20 15.5h1M6 16.5h2M1 18.5h1M7 18.5h1M27 20.5h1M6 21.5h1M16 21.5h1M30 21.5h1M2 22.5h1M12 23.5h1M15 23.5h1M32 23.5h1M36 23.5h1M30 24.5h1M16 25.5h1M2 26.5h1M14 26.5h1M31 26.5h1M37 26.5h1M16 27.5h1M24 27.5h1M54 27.5h1M14 28.5h1M36 28.5h1M76 28.5h1M48 29.5h1M4 30.5h1M13 30.5h1M31 30.5h1M36 30.5h1M48 30.5h1M9 31.5h1M41 31.5h1M54 31.5h1M3 32.5h1M35 32.5h1M73 32.5h1M20 33.5h1M22 33.5h1M31 33.5h1M45 33.5h1M38 35.5h1M42 35.5h1M62 35.5h1M4 36.5h1M6 36.5h2M15 36.5h1M22 36.5h1M60 36.5h1M29 38.5h1M35 38.5h1M62 38.5h1M55 39.5h1M32 40.5h1M41 40.5h1M48 41.5h1M5 42.5h1M9 43.5h1M46 43.5h1M48 43.5h1M3 44.5h1M14 44.5h1M57 44.5h1M18 45.5h1M37 46.5h1M45 46.5h1M5 47.5h1M49 47.5h2M4 48.5h1M9 48.5h2M33 48.5h1M48 48.5h1M0 49.5h1M54 49.5h1M26 50.5h1M51 51.5h1M55 51.5h1M1 52.5h1M5 53.5h1M15 53.5h1M35 53.5h1M42 54.5h1M47 54.5h1M53 55.5h1M36 56.5h1M19 57.5h1M22 58.5h2M39 58.5h1M15 59.5h1M50 60.5h1M27 61.5h1M3 62.5h1M17 63.5h1M41 63.5h1M22 64.5h1M50 64.5h1M4 65.5h1M24 65.5h1M56 65.5h1M24 66.5h1M66 66.5h1M26 67.5h1M53 67.5h1M7 68.5h1M3 69.5h1M31 70.5h1M32 72.5h1M42 74.5h1"/>
<path stroke="#084e5d" d="M18 10.5h1M8 11.5h2M47 11.5h1M9 13.5h1M44 14.5h1M34 15.5h1M50 15.5h1M51 16.5h1M4 17.5h1M26 17.5h1M33 17.5h1M37 17.5h1M42 17.5h1M6 18.5h1M16 20.5h1M35 20.5h1M3 22.5h1M31 22.5h1M19 23.5h1M41 23.5h1M47 23.5h1M2 24.5h1M12 24.5h1M32 24.5h1M36 24.5h1M2 25.5h1M18 25.5h1M4 26.5h1M8 26.5h1M21 26.5h1M32 26.5h1M36 26.5h1M44 26.5h1M11 27.5h1M33 27.5h1M39 27.5h1M18 28.5h1M23 28.5h1M29 28.5h1M43 28.5h1M47 28.5h1M71 28.5h1M4 29.5h1M27 29.5h1M39 30.5h2M40 31.5h1M47 31.5h1M70 31.5h1M47 32.5h1M69 32.5h1M13 33.5h1M37 33.5h1M44 33.5h1M48 33.5h1M68 33.5h1M19 34.5h1M37 34.5h1M42 34.5h1M51 34.5h1M1 35.5h1M10 35.5h1M16 36.5h1M5 37.5h1M39 37.5h2M48 37.5h1M4 38.5h1M39 38.5h1M57 38.5h1M66 38.5h1M7 39.5h1M9 40.5h1M54 40.5h1M38 41.5h2M52 41.5h1M54 41.5h1M8 42.5h1M41 42.5h1M48 42.5h1M40 43.5h1M40 44.5h1M48 44.5h1M44 45.5h1M55 45.5h1M7 46.5h1M35 46.5h1M55 46.5h1M27 47.5h1M38 47.5h1M51 47.5h2M3 48.5h1M47 48.5h1M50 48.5h1M54 48.5h1M14 49.5h1M57 50.5h1M8 52.5h1M15 52.5h1M3 53.5h1M26 53.5h1M28 53.5h1M45 54.5h2M3 55.5h1M13 55.5h1M35 55.5h1M42 55.5h1M51 55.5h1M28 56.5h1M10 58.5h1M3 60.5h1M11 60.5h1M25 60.5h1M32 61.5h1M50 62.5h1M1 63.5h1M11 63.5h1M32 63.5h1M34 63.5h1M37 63.5h1M44 63.5h1M48 63.5h1M1 64.5h1M19 64.5h1M52 65.5h1M31 66.5h1M44 66.5h1M7 69.5h1M40 71.5h1M14 72.5h1M43 73.5h1M41 74.5h1M46 79.5h1M12 94.5h1"/>
<path stroke="#09515a" d="M16 7.5h1M23 7.5h1M53 7.5h1M58 7.5h1M60 7.5h1M10 8.5h1M33 8.5h1M46 8.5h2M8 9.5h1M44 9.5h1M53 9.5h2M8 10.5h1M12 10.5h1M39 10.5h1M47 10.5h1M62 10.5h1M1 11.5h1M11 11.5h2M32 11.5h1M45 11.5h1M2 12.5h1M4 12.5h1M8 12.5h2M11 12.5h1M31 12.5h1M34 12.5h1M44 12.5h1M47 12.5h1M49 12.5h3M55 12.5h2M5 13.5h1M14 13.5h1M25 13.5h1M31 13.5h1M33 13.5h1M54 13.5h1M14 14.5h1M18 14.5h1M20 14.5h1M49 14.5h1M51 14.5h1M9 15.5h1M21 15.5h1M28 15.5h1M49 15.5h1M14 16.5h2M18 16.5h1M34 16.5h2M43 16.5h2M46 16.5h1M7 17.5h1M23 17.5h1M25 17.5h1M29 17.5h1M39 17.5h1M45 17.5h1M54 17.5h1M64 17.5h2M9 18.5h1M24 18.5h1M45 18.5h1M52 18.5h1M20 19.5h1M44 19.5h2M51 19.5h1M5 20.5h1M9 20.5h1M23 20.5h1M25 20.5h1M43 20.5h1M48 20.5h1M61 20.5h1M24 21.5h1M32 21.5h1M46 21.5h1M50 21.5h1M7 22.5h1M9 22.5h1M27 22.5h1M56 22.5h1M4 23.5h1M48 23.5h1M62 23.5h1M23 24.5h1M33 24.5h2M50 24.5h1M55 24.5h1M57 24.5h1M61 24.5h1M33 25.5h1M40 25.5h1M44 25.5h1M56 25.5h1M61 25.5h1M47 26.5h1M56 26.5h1M70 26.5h1M72 26.5h1M27 27.5h1M44 27.5h1M63 27.5h1M30 28.5h1M33 28.5h1M56 28.5h1M61 28.5h1M70 28.5h1M72 28.5h1M54 29.5h2M64 29.5h1M10 30.5h1M14 30.5h1M52 30.5h1M15 31.5h1M52 31.5h1M59 31.5h1M64 31.5h1M73 31.5h1M14 32.5h1M16 32.5h1M28 32.5h1M37 32.5h1M39 32.5h1M55 32.5h1M58 32.5h1M67 32.5h1M70 32.5h1M30 33.5h1M47 33.5h1M67 33.5h1M32 34.5h1M43 34.5h1M49 34.5h1M54 34.5h1M58 34.5h1M66 34.5h2M59 35.5h1M63 35.5h1M3 36.5h1M48 36.5h1M56 36.5h1M67 36.5h1M69 36.5h1M42 37.5h1M51 37.5h1M55 37.5h2M59 37.5h1M12 38.5h1M30 38.5h1M40 38.5h1M44 38.5h1M53 38.5h1M65 38.5h1M1 39.5h1M56 39.5h1M47 40.5h1M58 40.5h1M3 41.5h1M68 41.5h1M56 42.5h1M57 43.5h1M63 44.5h1M1 45.5h1M52 45.5h1M58 45.5h1M67 45.5h1M30 46.5h1M56 46.5h1M65 46.5h1M0 47.5h1M60 47.5h1M18 48.5h1M58 48.5h1M63 48.5h1M67 48.5h1M1 49.5h2M1 50.5h1M55 50.5h1M67 50.5h1M52 51.5h1M59 51.5h1M4 52.5h1M10 52.5h1M16 54.5h1M18 54.5h1M74 54.5h1M55 57.5h1M36 58.5h1M57 58.5h1M4 59.5h1M12 59.5h1M36 59.5h1M42 59.5h1M51 59.5h1M55 59.5h1M1 60.5h1M13 60.5h1M0 61.5h1M14 61.5h1M19 61.5h1M54 61.5h1M17 62.5h2M34 62.5h1M40 62.5h1M59 62.5h1M31 63.5h1M49 63.5h1M65 63.5h1M18 64.5h1M26 65.5h1M50 65.5h1M17 66.5h1M7 67.5h1M1 68.5h1M19 69.5h1M35 69.5h1M4 71.5h1M11 71.5h1M3 72.5h1M8 73.5h1M16 73.5h1M6 74.5h1M10 74.5h1M19 74.5h1M26 74.5h2M34 74.5h1M36 74.5h1M6 75.5h1M17 75.5h2M31 75.5h1M9 76.5h1M19 76.5h1M27 76.5h1M40 76.5h1M24 77.5h1M0 78.5h2M31 78.5h1M40 78.5h1M3 79.5h1M10 79.5h2M13 79.5h1M34 79.5h1M43 79.5h1M7 80.5h1M12 80.5h2M22 80.5h1M27 80.5h1M21 81.5h1M32 81.5h1M4 82.5h1M11 82.5h1M13 82.5h1M16 82.5h1M24 82.5h2M5 83.5h1M10 83.5h1M32 83.5h1M40 83.5h1M19 84.5h1M2 85.5h1M9 85.5h1M32 85.5h1M15 86.5h1M1 87.5h1M6 87.5h1M13 89.5h1M21 89.5h1M27 89.5h1M7 90.5h1M17 90.5h1M19 90.5h1M24 92.5h1"/>
<path stroke="#0b5556" d="M49 8.5h1M15 11.5h1M41 13.5h1M17 14.5h1M21 14.5h1M43 14.5h1M32 15.5h1M19 16.5h1M33 16.5h1M20 17.5h1M24 17.5h1M10 18.5h1M29 18.5h1M19 19.5h1M25 19.5h1M32 19.5h1M8 20.5h1M43 21.5h1M48 22.5h2M1 23.5h1M16 24.5h1M59 24.5h1M43 25.5h1M52 25.5h3M35 26.5h1M4 27.5h1M71 27.5h1M10 28.5h1M33 29.5h1M44 29.5h1M3 30.5h1M12 30.5h1M49 30.5h1M66 30.5h1M72 30.5h1M3 31.5h1M38 31.5h1M44 31.5h1M51 31.5h1M65 31.5h1M69 31.5h1M43 32.5h1M49 32.5h1M1 33.5h1M57 33.5h1M56 34.5h2M55 35.5h1M61 35.5h1M54 36.5h1M65 36.5h1M23 37.5h1M50 37.5h1M65 37.5h3M47 38.5h1M54 38.5h1M3 39.5h1M7 40.5h1M4 42.5h1M0 43.5h1M47 43.5h1M50 43.5h1M49 48.5h1M33 49.5h1M53 49.5h1M56 50.5h1M6 51.5h1M3 52.5h1M0 54.5h1M36 54.5h1M0 57.5h2M35 57.5h1M1 59.5h1M3 59.5h1M34 61.5h1M36 61.5h1M40 61.5h1M45 61.5h1M13 62.5h1M35 63.5h1M7 64.5h1M26 64.5h1M28 64.5h1M39 64.5h1M55 67.5h1M9 70.5h1M32 70.5h1M26 72.5h1M39 73.5h1M39 74.5h1M31 86.5h1"/>
<path stroke="#0c5853" d="M20 13.5h1M19 14.5h1M34 14.5h1M16 15.5h1M25 16.5h1M27 16.5h1M23 18.5h1M30 18.5h1M8 21.5h1M39 23.5h1M58 23.5h2M0 24.5h1M31 24.5h1M47 24.5h1M31 25.5h1M5 26.5h1M40 26.5h1M63 26.5h1M7 27.5h1M38 27.5h1M57 27.5h1M69 27.5h1M39 29.5h1M73 29.5h1M76 29.5h1M38 30.5h1M45 30.5h1M53 30.5h1M67 30.5h1M31 31.5h1M34 31.5h1M51 32.5h2M21 33.5h1M50 34.5h1M47 35.5h1M49 35.5h1M64 37.5h1M51 38.5h1M55 38.5h1M43 39.5h1M53 41.5h1M49 42.5h1M38 49.5h1M50 49.5h1M4 50.5h2M2 54.5h1M12 57.5h1M70 57.5h1M1 58.5h1M6 60.5h1M1 61.5h1M38 61.5h1M2 62.5h1M16 63.5h1M22 63.5h1M21 66.5h1M2 69.5h1M41 69.5h1M18 70.5h1M35 70.5h1M31 71.5h1M33 82.5h1"/>
<path stroke="#0e5b50" d="M20 11.5h1M12 12.5h1M23 12.5h1M28 13.5h1M10 14.5h1M12 15.5h1M27 17.5h1M58 17.5h1M15 20.5h1M32 20.5h1M26 22.5h1M43 22.5h1M57 22.5h1M29 23.5h1M44 23.5h1M42 24.5h1M58 24.5h1M57 25.5h1M46 26.5h1M26 27.5h1M28 27.5h1M43 27.5h1M51 27.5h1M44 28.5h1M49 28.5h1M63 28.5h1M69 28.5h1M73 28.5h1M2 29.5h1M45 29.5h2M52 29.5h1M66 29.5h1M70 29.5h1M75 29.5h1M54 30.5h1M68 30.5h1M70 30.5h2M42 31.5h1M49 31.5h1M53 32.5h2M50 33.5h1M53 35.5h1M64 36.5h1M5 38.5h1M49 44.5h1M2 50.5h1M50 50.5h1M42 51.5h1M1 62.5h1M5 62.5h1M47 63.5h1M20 64.5h1M33 64.5h1"/>
<path stroke="#0f5f4d" d="M14 8.5h1M33 11.5h1M18 12.5h1M21 12.5h1M32 12.5h1M21 13.5h2M11 15.5h1M23 15.5h1M23 16.5h1M26 16.5h1M28 17.5h1M13 21.5h1M32 22.5h1M46 22.5h2M11 23.5h1M49 23.5h2M27 24.5h1M29 25.5h1M37 25.5h1M46 25.5h1M23 27.5h1M76 27.5h1M53 28.5h2M59 28.5h1M43 29.5h1M47 29.5h1M59 29.5h1M65 29.5h1M67 29.5h1M41 30.5h1M46 30.5h1M76 30.5h1M0 31.5h1M30 31.5h1M43 33.5h1M53 33.5h2M59 33.5h1M44 34.5h1M48 35.5h1M54 35.5h1M50 36.5h1M49 37.5h1M53 37.5h1M2 41.5h1M2 42.5h1M45 53.5h1M1 55.5h1M70 61.5h1M6 62.5h1M38 64.5h1M45 64.5h1M5 65.5h1M20 66.5h1M32 66.5h1M9 68.5h1"/>
<path stroke="#116249" d="M41 7.5h1M51 7.5h1M44 11.5h1M10 13.5h2M13 13.5h1M17 13.5h2M24 13.5h1M11 14.5h1M27 14.5h2M32 17.5h1M44 18.5h1M23 19.5h1M26 19.5h2M31 19.5h1M10 20.5h1M48 21.5h1M34 22.5h1M51 22.5h1M54 22.5h2M58 22.5h1M28 23.5h1M34 23.5h1M37 23.5h1M43 23.5h1M46 23.5h1M22 24.5h1M43 24.5h1M54 24.5h1M42 25.5h1M47 25.5h2M50 25.5h1M27 26.5h1M57 26.5h1M40 27.5h1M49 27.5h1M52 27.5h1M72 27.5h1M50 29.5h1M74 29.5h1M29 30.5h1M58 33.5h1M66 33.5h1M63 34.5h2M50 35.5h1M44 36.5h1M47 36.5h1M54 37.5h1M5 60.5h1M4 61.5h1M23 66.5h1"/>
<path stroke="#126646" d="M15 12.5h1M13 14.5h1M25 15.5h1M30 15.5h1M28 16.5h1M38 17.5h1M56 17.5h1M59 17.5h1M25 18.5h1M26 20.5h1M28 20.5h1M10 21.5h1M15 21.5h1M30 22.5h1M44 22.5h1M62 22.5h1M52 23.5h1M40 24.5h1M44 24.5h1M46 24.5h1M26 25.5h1M32 25.5h1M43 26.5h1M45 26.5h1M42 27.5h1M56 29.5h1M42 30.5h1M55 30.5h1M43 31.5h1M46 31.5h1M55 33.5h1M60 35.5h1M45 36.5h1M52 36.5h1M51 42.5h1M44 62.5h1M25 67.5h1M25 68.5h1M53 70.5h1M59 72.5h1"/>
<path stroke="#146943" d="M56 8.5h1M22 12.5h1M61 13.5h1M57 14.5h1M14 15.5h1M46 15.5h1M29 16.5h1M37 16.5h1M59 16.5h1M34 17.5h1M18 20.5h1M22 20.5h1M55 20.5h1M47 21.5h1M56 21.5h1M24 22.5h1M38 22.5h1M53 22.5h1M61 22.5h1M63 22.5h1M61 23.5h1M60 24.5h1M63 25.5h1M74 27.5h1M50 28.5h1M62 28.5h1M66 28.5h1M60 29.5h1M68 29.5h1M66 32.5h1M60 33.5h1M59 34.5h1M0 41.5h1M52 50.5h1M50 52.5h1M9 63.5h1M40 64.5h1M65 66.5h1M39 67.5h1M65 68.5h1M58 70.5h1"/>
<path stroke="#156c3f" d="M28 11.5h1M31 11.5h1M34 11.5h1M34 13.5h1M23 14.5h1M30 14.5h1M30 16.5h2M41 17.5h1M48 17.5h1M63 17.5h1M27 18.5h1M36 19.5h1M54 19.5h1M57 19.5h1M42 20.5h1M53 20.5h1M44 21.5h1M53 21.5h1M57 21.5h1M61 21.5h1M40 22.5h1M51 23.5h1M13 24.5h1M45 24.5h1M49 25.5h1M58 25.5h1M58 26.5h1M59 27.5h1M51 28.5h1M68 28.5h1M58 29.5h1M56 30.5h2M59 30.5h1M55 31.5h1M56 32.5h1M64 32.5h1M63 33.5h1M51 35.5h1M48 56.5h1M46 65.5h1M41 66.5h1M43 66.5h1M8 68.5h1M31 69.5h1M25 71.5h1M30 71.5h1M64 71.5h1"/>
<path stroke="#16703c" d="M35 17.5h1M54 18.5h1M64 18.5h1M33 19.5h1M35 19.5h1M42 19.5h2M58 21.5h1M8 22.5h1M40 23.5h1M60 25.5h1M62 25.5h1M38 26.5h1M48 26.5h1M46 27.5h1M50 27.5h1M37 28.5h1M64 28.5h1M57 31.5h2M57 32.5h1M61 33.5h1M47 61.5h1M45 70.5h1"/>
<path stroke="#187339" d="M27 13.5h1M15 14.5h1M44 17.5h1M50 17.5h1M21 18.5h1M35 18.5h1M47 18.5h1M56 18.5h1M24 19.5h1M38 19.5h1M53 19.5h1M55 19.5h2M33 20.5h1M45 20.5h1M17 21.5h1M34 21.5h1M38 21.5h1M55 21.5h1M39 22.5h1M42 22.5h1M15 24.5h1M61 27.5h1M73 27.5h1M51 29.5h1M61 29.5h1M50 30.5h1M60 30.5h1M62 31.5h1M51 33.5h1M37 61.5h1M20 65.5h1M13 70.5h1M46 70.5h1"/>
<path stroke="#197736" d="M37 10.5h1M25 14.5h1M49 17.5h1M46 19.5h1M61 19.5h1M37 20.5h1M47 20.5h1M52 20.5h1M9 21.5h1M51 21.5h1M64 21.5h1M64 22.5h1M61 26.5h1M48 28.5h1M67 28.5h1M65 33.5h1M52 35.5h1M1 44.5h1M51 52.5h1M11 66.5h1M9 69.5h1M16 69.5h1"/>
<path stroke="#1b7a32" d="M38 12.5h1M24 14.5h1M26 14.5h1M40 17.5h1M51 17.5h1M41 18.5h1M49 18.5h1M53 18.5h1M55 18.5h1M39 19.5h1M24 20.5h1M39 20.5h1M37 21.5h1M48 24.5h1M51 24.5h1M60 26.5h1M3 27.5h1M48 27.5h1M60 27.5h1M46 28.5h1M63 31.5h1M52 33.5h1M0 34.5h1M2 35.5h1M53 44.5h1M42 60.5h1M10 70.5h1"/>
<path stroke="#1c7d2f" d="M38 10.5h1M60 17.5h1M62 17.5h1M34 18.5h1M50 18.5h1M22 19.5h1M29 19.5h1M50 20.5h1M58 20.5h1M62 20.5h1M5 22.5h1M45 22.5h1M45 23.5h1M53 23.5h1M62 24.5h1M64 25.5h1M50 26.5h1M61 30.5h1M61 31.5h1M60 32.5h1M53 40.5h1M42 67.5h1M44 67.5h1"/>
<path stroke="#1e812c" d="M12 3.5h1M75 4.5h1M62 5.5h1M63 7.5h1M40 10.5h1M38 11.5h1M37 12.5h1M29 15.5h1M32 16.5h1M17 17.5h1M30 17.5h1M43 17.5h1M55 17.5h1M11 18.5h1M37 19.5h1M38 20.5h1M41 20.5h1M49 20.5h1M41 21.5h1M38 23.5h1M4 25.5h1M68 25.5h1M52 28.5h1M60 31.5h1M49 33.5h1M0 42.5h1M46 63.5h1M8 71.5h1"/>
<path stroke="#1f8429" d="M69 0.5h1M33 1.5h1M64 1.5h1M69 2.5h1M70 3.5h1M40 4.5h1M68 5.5h1M73 5.5h1M76 5.5h1M39 6.5h1M55 6.5h1M70 6.5h2M34 7.5h1M56 7.5h1M61 7.5h1M65 7.5h1M71 7.5h1M76 7.5h1M35 8.5h1M41 8.5h1M50 8.5h1M54 8.5h1M57 8.5h1M72 8.5h1M77 8.5h1M28 9.5h1M55 9.5h1M57 9.5h1M60 9.5h1M64 9.5h3M68 9.5h1M78 9.5h1M4 10.5h1M15 10.5h1M19 10.5h1M22 10.5h1M30 10.5h1M58 10.5h1M67 10.5h1M72 10.5h2M79 10.5h1M2 11.5h1M4 11.5h1M6 11.5h1M21 11.5h2M52 11.5h1M54 11.5h2M61 11.5h1M70 11.5h1M24 12.5h1M28 12.5h1M35 12.5h1M57 12.5h1M60 12.5h1M62 12.5h2M65 12.5h1M68 12.5h1M29 13.5h1M58 13.5h1M48 14.5h1M69 14.5h1M71 14.5h1M1 15.5h1M4 15.5h1M7 15.5h1M10 15.5h1M22 15.5h1M26 15.5h1M31 15.5h1M33 15.5h1M40 15.5h1M65 15.5h1M2 16.5h1M13 16.5h1M21 16.5h1M36 16.5h1M53 16.5h1M40 18.5h1M46 18.5h1M48 18.5h1M57 18.5h1M62 18.5h2M68 18.5h1M72 18.5h1M5 19.5h1M47 19.5h1M13 20.5h1M31 20.5h1M60 20.5h1M72 20.5h1M3 21.5h1M49 21.5h1M60 21.5h1M67 21.5h1M28 22.5h1M50 22.5h1M69 22.5h1M0 23.5h1M54 23.5h1M56 23.5h1M63 23.5h1M70 23.5h1M52 24.5h2M56 24.5h1M63 24.5h1M65 24.5h1M67 24.5h1M76 24.5h1M45 25.5h1M51 25.5h1M55 25.5h1M52 26.5h1M55 26.5h1M59 26.5h1M67 26.5h1M69 26.5h1M71 26.5h1M65 27.5h1M55 28.5h1M58 28.5h1M60 28.5h1M53 29.5h1M57 29.5h1M62 29.5h1M68 31.5h1M59 32.5h1M61 32.5h1M74 32.5h2M56 33.5h1M61 34.5h1M65 35.5h1M73 35.5h1M58 38.5h1M61 39.5h1M64 39.5h1M79 39.5h1M56 40.5h1M67 40.5h1M65 41.5h1M58 42.5h2M75 46.5h1M58 47.5h2M72 49.5h1M62 50.5h1M65 52.5h1M61 54.5h1M56 55.5h1M60 55.5h1M65 57.5h1M54 59.5h1M57 61.5h1M61 64.5h1M57 65.5h1M2 66.5h2M2 68.5h1M3 70.5h1M34 70.5h1"/>
<path stroke="#218825" d="M39 2.5h1M79 4.5h1M64 5.5h2M69 5.5h1M25 8.5h1M52 9.5h1M72 9.5h1M76 10.5h1M57 11.5h1M67 12.5h1M73 12.5h1M56 13.5h1M41 15.5h1M43 15.5h1M54 15.5h1M75 15.5h1M66 16.5h1M74 16.5h1M61 17.5h1M70 22.5h1M41 25.5h1M67 25.5h1M68 26.5h1M3 33.5h1M25 69.5h1"/>
<path stroke="#228b22" d="M48 19.5h1M50 19.5h1M60 19.5h1M40 20.5h1M64 24.5h1"/>
</g>
<g fill="none" stroke-width="6.25" stroke-linejoin="round" stroke-linecap="butt">
<path stroke="#000000" d="M826.4 853.1L840.9 839.6L855.4 853.1L840.9 866.5ZM1276.8 853.1L1291.3 839.6L1305.8 853.1L1291.3 866.5ZM1378.5 839.6L1364.0 853.1L1349.4 839.6M913.5 866.5L928.1 853.1L942.6 866.5L928.1 880.0ZM1349.4 866.5L1364.0 853.1L1378.5 866.5L1378.5 866.5L1393.0 880.0L1378.5 893.5L1364.0 880.0L1364.0 880.0ZM521.2 880.0L535.8 866.5L550.3 880.0L535.8 893.5ZM695.6 880.0L710.1 866.5L724.6 880.0L710.1 893.5ZM405.0 893.5L419.5 880.0L434.0 893.5L434.0 893.5L448.6 906.9L434.0 920.4L419.5 906.9L419.5 906.9ZM928.1 893.5L942.6 880.0L957.1 893.5L957.1 906.9L942.6 920.4L942.6 920.4L928.1 933.9L913.5 920.4L928.1 907.0L928.1 906.9ZM1436.6 893.5L1451.2 880.0L1465.7 893.5L1465.7 893.5L1480.2 906.9L1465.7 920.4L1451.2 906.9L1451.2 906.9ZM1494.7 893.5L1509.3 880.0L1523.8 893.5L1509.3 906.9ZM1247.7 906.9L1262.3 893.5L1276.8 906.9L1262.3 920.4ZM1276.8 906.9L1291.3 893.5L1305.8 893.5L1320.4 906.9L1305.8 920.4L1291.3 920.4ZM1334.9 906.9L1349.4 893.5L1364.0 893.5L1378.5 906.9L1378.5 907.0L1393.0 907.0L1407.6 920.4L1407.6 933.9L1407.6 933.9L1422.1 947.4L1422.1 960.8L1422.1 960.8L1436.6 974.3L1422.1 987.8L1407.6 987.8L1393.0 974.3L1393.0 960.8L1393.0 947.4L1393.0 947.4L1378.5 933.9L1378.5 933.9L1364.0 920.4L1364.0 920.4L1349.4 920.4ZM1407.6 906.9L1422.1 893.5L1436.6 906.9L1422.1 920.4ZM346.9 907.0L361.4 920.4L346.9 933.9M1146.0 920.4L1160.5 907.0L1175.1 920.4L1175.1 920.4L1189.6 933.9L1189.6 933.9L1189.6 933.9L1204.1 920.4L1218.7 933.9L1204.1 947.4L1204.1 947.4L1204.1 960.8L1204.1 960.8L1218.7 974.3L1204.1 987.8L1204.1 987.8L1204.1 1001.2L1204.1 1001.2L1218.7 1014.7L1204.1 1028.2L1204.1 1028.2L1189.6 1041.6L1175.1 1028.2L1175.1 1028.2L1160.6 1014.7L1160.5 1014.7L1160.5 1014.7L1146.0 1028.2L1131.5 1014.7L1146.0 1001.2L1146.0 1001.2L1146.0 1001.2L1131.5 987.8L1146.0 974.3L1160.5 974.3L1175.1 987.8L1175.1 987.8L1175.1 987.8L1189.6 974.3L1189.6 974.3L1189.6 974.3L1175.1 960.8L1175.1 960.8L1175.1 960.8L1160.5 974.3L1146.0 974.3L1131.5 974.3L1117.0 974.3L1102.4 960.8L1117.0 947.4L1131.5 947.4L1131.5 947.4L1131.5 947.4L1117.0 933.9L1131.5 920.4L1146.0 933.9L1146.0 933.9L1160.5 947.4L1160.5 947.4L1160.6 947.4L1160.6 933.9L1160.5 933.9ZM681.1 933.9L695.6 920.4L710.1 933.9L695.6 947.4ZM724.7 933.9L739.2 920.4L753.7 933.9L739.2 947.4L739.2 947.4L724.6 960.8L710.1 947.4L724.6 933.9ZM942.6 933.9L957.1 920.4L971.7 933.9L971.7 947.4L957.1 960.8L942.6 947.4ZM1087.9 933.9L1102.4 920.4L1117.0 933.9L1102.4 947.4L1102.4 947.4L1087.9 960.8L1073.4 960.8L1058.8 947.4L1073.4 933.9L1087.9 933.9ZM1218.7 933.9L1233.2 920.4L1247.7 920.4L1262.3 933.9L1247.7 947.4L1233.2 947.4ZM1262.3 933.9L1276.8 920.4L1291.3 933.9L1276.8 947.4ZM1291.3 933.9L1305.8 920.4L1320.4 933.9L1305.8 947.4ZM1451.2 933.9L1465.7 920.4L1480.2 933.9L1480.2 933.9L1494.7 947.4L1494.7 947.4L1509.3 960.8L1509.3 960.8L1523.8 974.3L1509.3 987.8L1494.7 974.3L1494.7 974.3L1480.2 960.8L1480.2 960.8L1465.7 947.4L1465.7 947.4ZM419.5 947.4L434.0 933.9L448.6 947.4L434.0 960.8ZM855.4 947.4L855.4 947.4L855.4 947.4L855.4 947.4ZM1015.3 947.4L1029.8 933.9L1044.3 933.9L1058.8 947.4L1044.3 960.8L1029.8 960.8L1029.8 960.8L1015.2 974.3L1000.7 974.3L986.2 960.8L1000.7 947.4L1015.2 947.4ZM506.7 960.8L506.7 960.8L506.7 974.3L506.7 987.8L506.7 1001.2L506.7 1001.2L506.7 1001.2L506.7 987.8L521.2 974.3L521.2 974.3L521.2 974.3L506.7 960.8ZM753.7 960.8L768.2 947.4L782.8 960.8L768.2 974.3ZM1218.7 960.8L1233.2 947.4L1247.7 960.8L1233.2 974.3ZM1276.8 960.8L1291.3 947.4L1305.8 947.4L1320.4 947.4L1334.9 960.8L1334.9 960.8L1334.9 960.8L1349.4 947.4L1364.0 960.8L1349.4 974.3L1349.4 974.3L1334.9 987.8L1320.4 974.3L1320.4 974.3L1305.8 974.3L1291.3 974.3ZM1029.8 974.3L1044.3 960.8L1058.8 974.3L1058.8 987.8L1058.8 987.8L1073.4 987.8L1087.9 987.8L1102.4 987.8L1102.4 987.8L1117.0 974.3L1131.5 987.8L1117.0 1001.2L1117.0 1001.2L1102.4 1014.7L1087.9 1014.7L1073.4 1014.7L1058.8 1014.7L1044.3 1014.7L1029.8 1001.2L1029.8 1001.2L1029.8 1001.2L1015.2 1014.7L1000.7 1014.7L986.2 1001.2L986.2 987.8L1000.7 974.3L1015.2 974.3L1029.8 974.3ZM1058.8 974.3L1073.4 960.8L1087.9 974.3L1073.4 987.8ZM1247.7 974.3L1262.3 960.8L1276.8 974.3L1262.3 987.8L1262.3 987.8L1262.3 987.8L1276.8 987.8L1291.3 1001.2L1276.8 1014.7L1262.3 1014.7L1262.3 1014.7L1247.7 1028.2L1233.2 1014.7L1233.2 1014.7L1218.7 1001.2L1233.2 987.8L1233.2 987.8L1247.7 974.3ZM1451.2 974.3L1465.7 960.8L1480.2 974.3L1465.7 987.8ZM346.9 974.3L346.9 974.3L361.4 960.8L375.9 974.3L375.9 974.3L375.9 974.3L375.9 960.8L375.9 947.4L390.5 933.9L390.5 933.9L390.5 920.4L405.0 907.0L419.5 920.4L419.5 933.9L405.0 947.4L405.0 947.4L405.0 960.8L405.0 974.3L405.0 974.3L405.0 974.3L419.5 960.8L434.0 960.8L448.6 974.3L448.6 974.3L463.1 974.3L463.1 974.3L463.1 960.8L463.1 960.8L448.6 947.4L463.1 933.9L463.1 933.9L477.6 920.4L477.6 920.4L477.6 920.4L463.1 906.9L477.6 893.5L492.2 906.9L492.2 907.0L506.7 920.4L492.2 933.9L492.2 933.9L492.2 947.4L492.2 947.4L492.2 947.4L506.7 933.9L521.2 947.4L521.2 947.4L521.2 947.4L535.8 933.9L550.3 947.4L550.3 947.4L550.3 947.4L550.3 933.9L564.8 920.4L579.3 920.4L593.9 920.4L608.4 933.9L608.4 947.4L608.4 960.8L593.9 974.3L593.9 974.3L593.9 974.3L608.4 974.3L608.4 974.3L608.4 960.8L622.9 947.4L622.9 947.4L637.5 933.9L652.0 947.4L637.5 960.8L637.5 960.8L637.5 960.8L652.0 974.3L652.0 974.3L666.5 974.3L666.5 974.3L666.5 974.3L652.0 960.8L652.0 947.4L666.5 933.9L681.1 947.4L681.1 960.8L681.1 960.8L695.6 974.3L695.6 987.8L695.6 987.8L695.6 987.8L710.1 974.3L724.6 987.8L724.6 987.8L724.7 987.8L739.2 974.3L753.7 987.8L753.7 987.8L753.7 987.8L768.2 974.3L782.8 987.8L782.8 987.8L797.3 1001.2L797.3 1001.2L797.3 1001.2L797.3 987.8L797.3 987.8L782.8 974.3L797.3 960.8L811.8 974.3L811.8 974.3L826.4 974.3L840.9 974.3L840.9 974.3L840.9 960.8L840.9 960.8L826.4 947.4L826.4 947.4L811.8 933.9L826.4 920.4L840.9 933.9L840.9 933.9L840.9 933.9L855.4 920.4L869.9 933.9L869.9 933.9L884.5 947.4L869.9 960.8L869.9 960.8L869.9 974.3L869.9 974.3L884.5 987.8L884.5 1001.2L869.9 1014.7L869.9 1014.7L869.9 1028.2L869.9 1041.7L869.9 1041.7L884.5 1041.7L899.0 1041.7L899.0 1041.7L899.0 1041.6L884.5 1028.2L884.5 1014.7L884.5 1001.2L899.0 987.8L899.0 987.8L899.0 987.8L884.5 974.3L884.5 960.8L899.0 947.4L913.5 960.8L913.5 960.8L928.1 960.8L942.6 960.8L957.1 960.8L971.7 974.3L957.1 987.8L942.6 987.8L928.1 987.8L928.1 987.8L928.1 1001.2L913.5 1014.7L913.5 1014.7L913.5 1028.2L913.5 1028.2L928.1 1041.7L928.1 1055.1L928.1 1055.1L928.1 1055.1L928.1 1041.7L942.6 1028.2L957.1 1028.2L971.7 1041.7L957.1 1055.1L957.1 1055.1L957.1 1055.1L971.7 1055.1L971.7 1055.1L971.7 1041.7L971.7 1028.2L986.2 1014.7L1000.7 1014.7L1015.2 1014.7L1029.8 1028.2L1029.8 1028.2L1044.3 1041.7L1044.3 1055.1L1044.3 1055.1L1058.8 1055.1L1073.4 1055.1L1087.9 1055.1L1087.9 1055.1L1087.9 1055.1L1073.4 1055.1L1058.8 1055.1L1044.3 1041.7L1044.3 1028.2L1058.8 1014.7L1073.4 1014.7L1087.9 1028.2L1087.9 1028.2L1087.9 1028.2L1102.4 1014.7L1117.0 1028.2L1102.4 1041.6L1102.4 1041.7L1102.4 1041.7L1117.0 1055.1L1117.0 1068.6L1117.0 1068.6L1131.5 1068.6L1131.5 1068.6L1131.5 1068.6L1117.0 1055.1L1131.5 1041.7L1131.5 1041.7L1146.0 1028.2L1160.5 1041.7L1160.5 1041.7L1175.1 1055.1L1175.1 1055.1L1189.6 1068.6L1189.6 1068.6L1189.6 1068.6L1204.1 1055.1L1204.1 1055.1L1218.7 1041.7L1233.2 1055.1L1233.2 1055.1L1247.7 1055.1L1262.3 1055.1L1276.8 1055.1L1291.3 1055.1L1305.8 1055.1L1305.9 1055.1L1305.8 1055.1L1291.3 1041.7L1305.8 1028.2L1320.4 1041.7L1320.4 1041.7L1334.9 1055.1L1334.9 1055.1L1349.4 1068.6L1349.4 1068.6L1364.0 1082.1L1349.4 1095.5L1334.9 1082.1L1334.9 1082.1L1320.4 1068.6L1320.4 1068.6L1320.4 1068.6L1305.8 1082.1L1305.8 1082.1L1291.3 1095.5L1291.3 1095.5L1276.8 1109.0L1276.8 1109.0L1262.3 1122.5L1262.3 1122.5L1262.3 1122.5L1276.8 1122.5L1276.8 1122.5L1291.3 1109.0L1305.8 1122.5L1305.8 1135.9L1305.8 1135.9L1320.4 1149.4L1320.4 1149.4L1334.9 1149.4L1349.4 1162.9L1349.4 1162.9L1349.4 1162.9L1364.0 1149.4L1364.0 1149.4L1364.0 1149.4L1349.4 1135.9L1364.0 1122.5L1378.5 1122.5L1393.0 1122.5L1407.6 1135.9L1393.0 1149.4L1393.0 1149.4L1378.5 1162.9L1378.5 1162.9L1378.5 1162.9L1393.0 1176.3L1393.0 1176.4L1407.6 1176.4L1422.1 1176.4L1436.6 1176.4L1451.1 1189.8L1451.1 1203.3L1436.6 1216.8L1436.6 1216.8L1436.6 1216.8L1451.2 1216.8L1451.2 1216.8L1451.2 1203.3L1465.7 1189.8L1480.2 1203.3L1480.2 1216.8L1480.2 1230.2L1480.2 1243.7L1465.7 1257.2L1451.2 1243.7L1451.2 1243.7L1436.6 1243.7L1422.1 1243.7L1422.1 1243.7L1422.1 1243.7L1436.6 1257.2L1436.6 1257.2L1451.2 1257.2L1465.7 1270.6L1451.2 1284.1L1451.1 1284.1L1436.6 1297.6L1422.1 1284.1L1422.1 1284.1L1422.1 1284.1L1407.6 1297.6L1407.6 1297.6L1407.6 1297.6L1422.1 1297.6L1436.6 1311.0L1422.1 1324.5L1422.1 1324.5L1422.1 1324.5L1436.6 1338.0L1422.1 1351.5L1422.1 1351.5L1422.1 1351.5L1436.6 1351.5L1451.1 1364.9L1451.2 1364.9L1451.2 1364.9L1465.7 1351.5L1465.7 1351.5L1480.2 1338.0L1494.7 1351.5L1480.2 1364.9L1480.2 1364.9L1465.7 1378.4L1465.7 1378.4L1465.7 1391.9L1451.2 1405.3L1451.1 1405.3L1451.2 1405.3L1465.7 1405.3L1465.7 1405.3L1480.2 1391.9L1494.7 1405.3L1494.7 1405.3L1509.3 1418.8L1494.7 1432.3L1494.7 1432.3L1494.7 1432.3L1509.3 1445.7L1494.7 1459.2L1494.7 1459.2L1494.7 1472.7L1494.7 1486.2L1480.2 1499.6L1480.2 1499.6L1480.2 1499.6L1494.7 1513.1L1494.7 1526.6L1480.2 1540.0L1465.7 1526.6L1465.7 1526.6L1465.7 1526.6L1451.2 1540.0L1451.1 1540.0L1451.1 1553.5L1451.2 1553.5L1451.2 1553.5L1465.7 1540.0L1480.2 1540.0L1494.7 1553.5L1480.2 1567.0L1480.2 1567.0L1480.2 1567.0L1494.7 1580.4L1480.2 1593.9L1480.2 1593.9L1465.7 1607.4L1451.2 1593.9L1451.2 1580.4L1451.2 1580.4L1451.1 1580.4L1436.6 1593.9L1422.1 1593.9L1422.1 1593.9L1407.6 1607.4L1393.0 1593.9L1407.6 1580.5L1407.6 1580.5L1407.6 1580.4L1393.0 1580.4L1393.0 1580.5L1378.5 1593.9L1364.0 1593.9L1364.0 1593.9L1364.0 1593.9L1378.5 1593.9L1393.0 1607.4L1378.5 1620.9L1364.0 1620.9L1364.0 1620.9L1349.4 1634.3L1349.4 1634.3L1334.9 1647.8L1320.4 1647.8L1305.8 1647.8L1305.8 1647.8L1305.8 1647.8L1320.4 1647.8L1334.9 1647.8L1349.4 1661.3L1334.9 1674.7L1334.9 1674.7L1334.9 1688.2L1320.4 1701.7L1320.4 1701.7L1320.4 1701.7L1334.9 1715.2L1334.9 1728.6L1320.4 1742.1L1305.8 1742.1L1291.3 1742.1L1276.8 1728.6L1291.3 1715.2L1305.8 1715.2L1305.9 1715.2L1305.8 1715.1L1291.3 1715.1L1276.8 1701.7L1276.8 1688.2L1276.8 1674.7L1276.8 1674.7L1276.8 1674.7L1276.8 1688.2L1262.3 1701.7L1262.3 1701.7L1247.7 1715.1L1233.2 1701.7L1233.2 1701.7L1233.2 1701.7L1233.2 1715.2L1218.7 1728.6L1204.1 1715.2L1204.1 1715.1L1204.1 1715.2L1189.6 1728.6L1175.1 1728.6L1160.5 1728.6L1160.5 1728.6L1160.5 1728.6L1175.1 1742.1L1175.1 1742.1L1189.6 1755.6L1189.6 1755.6L1204.1 1755.6L1218.7 1769.0L1218.7 1782.5L1204.1 1796.0L1189.6 1782.5L1189.6 1782.5L1175.1 1769.0L1175.1 1769.0L1175.1 1769.0L1160.5 1782.5L1146.0 1769.0L1160.5 1755.6L1160.6 1755.6L1160.5 1755.6L1146.0 1742.1L1146.0 1742.1L1146.0 1742.1L1131.5 1755.6L1131.5 1755.6L1131.5 1755.6L1146.0 1769.0L1146.0 1782.5L1131.5 1796.0L1131.5 1796.0L1117.0 1809.4L1102.4 1796.0L1117.0 1782.5L1117.0 1782.5L1117.0 1769.0L1117.0 1769.0L1117.0 1769.0L1102.4 1782.5L1087.9 1782.5L1073.4 1782.5L1073.4 1782.5L1073.4 1782.5L1087.9 1782.5L1102.4 1796.0L1087.9 1809.4L1073.4 1809.4L1058.8 1809.4L1044.3 1809.4L1044.3 1809.4L1029.8 1822.9L1015.3 1809.4L1015.2 1809.4L1015.2 1809.4L1000.7 1822.9L1000.7 1822.9L1000.7 1836.4L1000.7 1836.4L1000.7 1836.4L1015.2 1822.9L1029.8 1822.9L1044.3 1822.9L1044.3 1822.9L1058.8 1809.4L1073.4 1809.4L1087.9 1822.9L1073.4 1836.4L1073.4 1836.4L1073.4 1836.4L1087.9 1849.8L1087.9 1863.3L1073.4 1876.8L1058.8 1863.3L1058.8 1863.3L1058.8 1863.3L1044.3 1876.8L1029.8 1863.3L1044.3 1849.9L1044.3 1849.8L1044.3 1849.8L1029.8 1849.8L1029.8 1849.8L1015.2 1863.3L1015.2 1863.3L1000.7 1876.8L1000.7 1876.8L986.2 1890.3L986.2 1890.3L986.2 1890.3L1000.7 1903.7L1000.7 1917.2L986.2 1930.7L971.7 1917.2L971.7 1903.7L971.7 1903.7L957.1 1890.3L971.7 1876.8L971.7 1876.8L986.2 1863.3L986.2 1863.3L986.2 1849.8L986.2 1849.8L971.7 1849.8L957.1 1849.8L957.1 1849.8L957.1 1863.3L942.6 1876.8L928.1 1863.3L928.1 1863.3L913.5 1863.3L913.5 1863.3L913.5 1863.3L928.1 1876.8L928.1 1890.3L928.1 1890.3L928.1 1890.3L942.6 1876.8L957.1 1890.3L957.1 1903.7L942.6 1917.2L928.1 1917.2L913.5 1903.7L913.5 1903.7L913.5 1903.7L899.0 1917.2L884.5 1903.7L899.0 1890.3L899.0 1890.3L899.0 1890.3L884.5 1890.3L884.5 1890.3L869.9 1903.7L869.9 1903.7L855.4 1917.2L855.4 1917.2L855.4 1917.2L869.9 1917.2L884.5 1930.7L869.9 1944.1L869.9 1944.1L855.4 1957.6L840.9 1957.6L840.9 1957.6L840.9 1957.6L855.4 1957.6L869.9 1971.1L855.4 1984.5L840.9 1984.5L840.9 1984.6L826.4 1998.0L826.4 1998.0L826.4 1998.0L840.9 2011.5L826.4 2025.0L826.4 2025.0L811.8 2038.4L797.3 2025.0L811.8 2011.5L811.8 2011.5L811.8 2011.5L797.3 1998.0L811.8 1984.6L811.8 1984.6L826.4 1971.1L826.4 1971.1L826.4 1971.1L811.8 1971.1L797.3 1957.6L797.3 1957.6L782.8 1957.6L768.2 1957.6L753.7 1944.1L753.7 1930.7L753.7 1930.7L739.2 1930.7L739.2 1930.7L739.2 1930.7L753.7 1944.1L753.7 1957.6L753.7 1957.6L768.2 1971.1L753.7 1984.5L739.2 1971.1L739.2 1971.1L724.7 1957.6L724.6 1957.6L710.1 1957.6L695.6 1957.6L681.1 1944.1L681.1 1930.7L681.1 1930.7L681.1 1930.7L681.1 1944.1L681.1 1957.6L666.5 1971.1L652.0 1971.1L652.0 1971.1L637.5 1984.5L637.5 1984.6L622.9 1998.0L608.4 1984.6L608.4 1984.5L593.9 1984.5L579.4 1971.1L593.9 1957.6L608.4 1957.6L622.9 1957.6L622.9 1957.6L622.9 1944.1L622.9 1930.7L622.9 1930.7L622.9 1930.7L622.9 1944.1L608.4 1957.6L593.9 1957.6L579.3 1957.6L564.8 1957.6L550.3 1957.6L535.8 1957.6L521.2 1957.6L521.2 1957.6L521.2 1957.6L535.8 1971.1L535.8 1971.1L550.3 1971.1L550.3 1971.1L564.8 1957.6L579.3 1971.1L579.3 1984.6L579.3 1984.6L593.9 1984.6L608.4 1998.0L593.9 2011.5L579.3 2011.5L579.3 2011.5L579.3 2025.0L564.8 2038.4L564.8 2038.4L550.3 2051.9L535.8 2038.4L550.3 2025.0L550.3 2025.0L550.3 2011.5L564.8 1998.0L564.8 1998.0L564.8 1998.0L550.3 1998.0L550.3 1998.0L535.8 2011.5L535.8 2011.5L535.8 2025.0L535.8 2038.4L535.8 2051.9L521.2 2065.4L506.7 2065.4L506.7 2065.4L492.2 2078.8L477.6 2078.8L477.6 2078.8L463.1 2092.3L448.6 2078.8L463.1 2065.4L463.1 2065.4L463.1 2065.4L448.6 2065.4L434.1 2051.9L434.0 2051.9L419.5 2051.9L405.0 2038.4L419.5 2025.0L434.0 2025.0L448.6 2038.4L448.6 2038.4L448.6 2038.4L463.1 2025.0L477.6 2038.4L477.6 2051.9L477.6 2051.9L477.6 2051.9L477.6 2038.4L492.2 2025.0L492.2 2025.0L506.7 2011.5L506.7 2011.5L506.7 2011.5L492.2 2011.5L492.2 2011.5L477.6 2025.0L463.1 2011.5L463.1 2011.5L463.1 2011.5L448.6 2025.0L434.1 2011.5L434.1 1998.0L434.0 1998.0L434.0 1998.0L419.5 2011.5L405.0 1998.0L419.5 1984.6L419.5 1984.6L434.0 1971.1L434.1 1971.1L434.0 1971.1L419.5 1957.6L419.5 1957.6L419.5 1957.6L405.0 1971.1L405.0 1971.1L405.0 1984.6L405.0 1998.0L405.0 2011.5L390.5 2025.0L375.9 2025.0L361.4 2025.0L346.9 2011.5L361.4 1998.0L361.4 1998.0L361.4 1998.0L346.9 1984.6L361.4 1971.1L375.9 1984.6L375.9 1984.6L375.9 1984.6L375.9 1971.1L375.9 1957.6L375.9 1957.6L361.4 1944.1L361.4 1944.1L361.4 1944.1L346.9 1957.6M550.3 987.8L550.3 987.8L550.3 987.8L550.3 987.8ZM622.9 987.8L622.9 987.8L622.9 987.8L637.5 987.8L637.5 987.8L637.5 987.8ZM1364.0 987.8L1378.5 974.3L1393.0 987.8L1378.5 1001.2ZM405.0 1001.2L405.0 1001.2L405.0 1014.7L405.0 1014.7L405.0 1014.7L405.0 1001.2ZM564.8 1001.2L564.8 1001.2L564.8 1001.2L564.8 1001.2ZM840.9 1001.2L840.9 1001.2L840.9 1001.2L840.9 1001.2ZM1247.7 1001.2L1247.7 1001.2L1247.7 1001.2L1247.7 1001.2ZM1291.3 1001.2L1305.8 987.8L1320.4 1001.2L1305.8 1014.7ZM1320.4 1001.2L1334.9 987.8L1349.4 987.8L1364.0 1001.2L1349.4 1014.7L1334.9 1014.7ZM1407.6 1001.2L1422.1 987.8L1436.6 1001.2L1422.1 1014.7ZM637.5 1014.7L637.5 1014.7L637.5 1014.7L637.5 1014.7ZM826.4 1014.7L826.4 1014.7L826.4 1014.7L826.4 1014.7ZM942.6 1014.7L957.1 1001.2L971.7 1014.7L957.1 1028.2ZM1189.6 1014.7L1189.6 1014.7L1189.6 1014.7L1189.6 1014.7ZM390.5 1028.2L390.5 1028.2L390.5 1028.2L390.5 1028.2ZM535.8 1028.2L535.8 1028.2L535.8 1028.2L535.8 1028.2ZM681.1 1028.2L681.1 1028.2L681.1 1028.2L681.1 1028.2ZM840.9 1028.2L840.9 1028.2L840.9 1028.2L840.9 1028.2ZM1349.4 1028.2L1364.0 1014.7L1378.5 1028.2L1364.0 1041.6ZM1378.5 1028.2L1393.0 1014.7L1407.6 1028.2L1393.0 1041.6ZM753.7 1041.6L753.7 1041.7L753.7 1041.7L753.7 1041.7ZM1000.7 1041.6L1000.7 1041.7L1000.7 1041.7L1015.2 1055.1L1015.2 1055.1L1015.3 1055.1L1015.3 1041.7L1015.2 1041.6ZM1436.6 1041.7L1451.2 1028.2L1465.7 1041.7L1451.2 1055.1L1451.1 1055.1L1436.6 1068.6L1422.1 1055.1L1436.6 1041.7ZM346.9 1041.7L361.4 1055.1L346.9 1068.6M405.0 1055.1L405.0 1055.1L405.0 1068.6L405.0 1068.6L405.0 1068.6L405.0 1055.1ZM1146.0 1055.1L1146.0 1055.1L1146.0 1055.1L1146.0 1055.1ZM1029.8 1068.6L1029.8 1068.6L1029.8 1068.6L1029.8 1068.6ZM434.0 1082.1L434.0 1082.1L434.0 1082.1L434.1 1082.1ZM913.5 1082.1L913.5 1082.1L913.5 1082.1L928.1 1082.1L928.1 1082.1L928.1 1082.1ZM986.2 1082.1L986.2 1082.1L986.2 1082.1L986.2 1082.1ZM1102.4 1082.1L1102.4 1082.1L1102.4 1082.1L1102.4 1082.1ZM1204.1 1082.1L1204.1 1082.1L1204.1 1095.5L1204.1 1095.5L1218.7 1109.0L1218.7 1122.5L1218.7 1135.9L1218.7 1135.9L1218.7 1135.9L1218.7 1122.5L1218.7 1109.0L1218.7 1095.5L1233.2 1082.1L1247.7 1082.1L1247.7 1082.1L1247.7 1082.1L1233.2 1082.1L1218.7 1082.1ZM1393.0 1082.1L1407.6 1068.6L1422.1 1082.1L1407.6 1095.5ZM1073.4 1095.5L1073.4 1095.5L1073.4 1095.5L1073.4 1095.5ZM1262.3 1095.5L1262.3 1095.5L1262.3 1095.5L1262.3 1095.5ZM1364.0 1095.5L1378.5 1082.1L1393.0 1095.5L1378.5 1109.0ZM1422.1 1095.5L1436.6 1082.1L1451.1 1095.5L1436.6 1109.0ZM390.5 1109.0L390.5 1109.0L390.5 1109.0L390.5 1109.0ZM1000.7 1109.0L1000.7 1109.0L1000.7 1109.0L1000.7 1109.0ZM1175.1 1109.0L1175.1 1109.0L1175.1 1109.0L1189.6 1109.0L1189.6 1109.0L1189.6 1109.0ZM1393.0 1109.0L1407.6 1095.5L1422.1 1109.0L1422.1 1109.0L1436.6 1122.5L1422.1 1135.9L1407.6 1122.5L1407.6 1122.5ZM1117.0 1122.5L1117.0 1122.5L1117.0 1135.9L1117.0 1135.9L1117.0 1135.9L1117.0 1122.5ZM1320.4 1122.5L1334.9 1109.0L1349.4 1122.5L1334.9 1135.9ZM346.9 1122.5L361.4 1122.5L361.4 1122.5L361.4 1109.0L361.4 1095.5L361.4 1082.1L375.9 1068.6L375.9 1068.6L375.9 1055.1L375.9 1055.1L361.4 1041.7L361.4 1028.2L375.9 1014.7L375.9 1014.7L375.9 1014.7L361.4 1001.2L361.4 1001.2L346.9 1001.2M405.0 1149.4L405.0 1149.4L405.0 1149.4L405.0 1149.4ZM971.7 1149.4L971.7 1149.4L971.7 1149.4L971.7 1149.4ZM1160.5 1149.4L1160.5 1149.4L1160.5 1149.4L1160.6 1149.4ZM1189.6 1149.4L1189.6 1149.4L1189.6 1149.4L1189.6 1149.4ZM1233.2 1149.4L1233.2 1149.4L1233.2 1149.4L1233.2 1149.4ZM1291.3 1149.4L1291.3 1149.4L1291.3 1149.4L1291.3 1149.4ZM1407.6 1149.4L1422.1 1135.9L1436.6 1149.4L1422.1 1162.9ZM1436.6 1162.9L1451.2 1149.4L1465.7 1149.4L1480.2 1162.9L1480.2 1162.9L1494.7 1176.3L1480.2 1189.8L1465.7 1176.3L1465.7 1176.3L1451.2 1176.3ZM1305.8 1176.3L1305.8 1176.4L1291.3 1189.8L1291.3 1189.8L1291.3 1203.3L1291.3 1203.3L1291.3 1203.3L1305.8 1189.8L1320.4 1203.3L1320.4 1203.3L1320.4 1203.3L1320.4 1189.8L1320.4 1176.3L1320.4 1176.3ZM1364.0 1176.3L1364.0 1176.3L1364.0 1176.4L1364.0 1176.3ZM1262.3 1189.8L1262.3 1189.8L1262.3 1203.3L1262.3 1203.3L1262.3 1203.3L1262.3 1189.8ZM1349.4 1203.3L1349.4 1203.3L1349.4 1203.3L1349.4 1203.3ZM1378.5 1203.3L1378.5 1203.3L1378.5 1203.3L1378.5 1203.3ZM1305.8 1216.8L1305.8 1216.8L1305.8 1216.8L1305.9 1216.8ZM1276.8 1230.2L1276.8 1230.2L1276.8 1230.2L1276.8 1230.2ZM1393.0 1230.2L1393.0 1230.2L1393.0 1230.2L1407.6 1230.2L1407.6 1230.2L1407.6 1230.2ZM1494.7 1230.2L1509.3 1216.8L1523.8 1230.2L1509.3 1243.7ZM1204.1 1243.7L1204.1 1243.7L1204.1 1243.7L1204.1 1243.7ZM1262.3 1243.7L1262.3 1243.7L1262.3 1243.7L1262.3 1243.7ZM1305.8 1243.7L1305.8 1243.7L1305.8 1243.7L1305.9 1243.7ZM1364.0 1243.7L1364.0 1243.7L1364.0 1243.7L1364.0 1243.7ZM1320.4 1257.2L1320.4 1257.2L1320.4 1257.2L1334.9 1257.2L1334.9 1257.2L1334.9 1257.2ZM1407.6 1257.2L1407.6 1257.2L1407.6 1270.6L1407.6 1270.6L1407.6 1270.6L1407.6 1257.2ZM346.9 1257.2L346.9 1257.2L346.9 1243.7L361.4 1230.2L375.9 1230.2L375.9 1230.2L390.5 1216.8L390.5 1216.8L390.5 1203.3L390.5 1203.3L375.9 1189.8L375.9 1189.8L361.4 1189.8L346.9 1176.4L346.9 1176.3M1262.3 1270.6L1262.3 1270.6L1262.3 1270.6L1262.3 1270.6ZM1305.8 1270.6L1305.8 1270.6L1305.8 1270.6L1305.9 1270.6ZM1349.4 1270.6L1349.4 1270.6L1349.4 1270.6L1349.4 1270.6ZM1494.7 1270.6L1509.3 1257.2L1523.8 1270.6L1509.3 1284.1ZM1291.3 1284.1L1291.3 1284.1L1291.3 1284.1L1291.3 1284.1ZM1364.0 1284.1L1364.0 1284.1L1364.0 1297.6L1364.0 1297.6L1364.0 1297.6L1364.0 1284.1ZM1523.8 1284.1L1538.3 1270.6L1552.9 1284.1L1538.3 1297.6ZM1262.3 1297.6L1262.3 1297.6L1262.3 1297.6L1262.3 1297.6ZM1552.9 1297.6L1567.4 1284.1L1581.9 1297.6L1567.4 1311.0ZM346.9 1297.6L346.9 1297.6ZM361.4 1311.0L361.4 1311.1L361.4 1311.1L361.4 1311.0ZM1291.3 1311.0L1291.3 1311.1L1291.3 1311.1L1291.3 1311.1ZM1349.4 1311.0L1349.4 1311.0L1349.4 1311.1L1349.4 1311.1ZM1378.5 1311.0L1378.5 1311.1L1378.5 1311.1L1393.0 1311.1L1393.0 1311.1L1393.0 1311.0ZM1494.7 1311.0L1509.3 1297.6L1523.8 1311.0L1509.3 1324.5ZM1218.7 1324.5L1218.7 1324.5L1218.7 1324.5L1218.7 1324.5ZM1262.3 1324.5L1262.3 1324.5L1262.3 1324.5L1262.3 1324.5ZM1349.4 1338.0L1349.4 1338.0L1334.9 1351.5L1334.9 1351.5L1334.9 1351.5L1349.4 1364.9L1349.4 1364.9L1349.4 1364.9L1349.4 1351.5L1364.0 1338.0L1378.5 1338.0L1378.5 1338.0L1378.5 1338.0L1364.0 1338.0ZM1291.3 1351.5L1291.3 1351.5L1291.3 1351.5L1291.3 1351.5ZM1581.9 1351.5L1596.4 1338.0L1611.0 1351.5L1596.4 1364.9ZM1320.4 1364.9L1320.4 1364.9L1320.4 1378.4L1320.4 1391.9L1320.4 1391.9L1334.9 1405.3L1334.9 1405.3L1349.4 1405.3L1349.4 1405.3L1349.4 1405.3L1334.9 1391.9L1334.9 1391.9L1320.4 1378.4L1320.4 1364.9ZM1393.0 1364.9L1393.0 1364.9L1393.0 1364.9L1393.0 1364.9ZM1494.7 1364.9L1509.3 1351.5L1523.8 1351.5L1538.3 1364.9L1523.8 1378.4L1509.3 1378.4ZM346.9 1364.9L346.9 1364.9ZM361.4 1378.4L361.4 1378.4L361.4 1378.4L361.4 1378.4ZM1117.0 1378.4L1117.0 1378.4L1117.0 1378.4L1117.0 1378.4ZM1262.3 1378.4L1262.3 1378.4L1262.3 1391.9L1262.3 1391.9L1276.8 1391.9L1276.8 1391.9L1276.8 1391.9L1262.3 1378.4ZM1291.3 1378.4L1291.3 1378.4L1291.3 1378.4L1291.3 1378.4ZM1669.1 1378.4L1683.6 1364.9L1698.2 1378.4L1683.6 1391.9ZM1233.2 1391.9L1233.2 1391.9L1233.2 1391.9L1233.2 1391.9ZM1393.0 1391.9L1393.0 1391.9L1393.0 1391.9L1393.0 1391.9ZM1422.1 1391.9L1422.1 1391.9L1422.1 1391.9L1422.1 1391.9ZM1625.5 1391.9L1640.0 1378.4L1654.6 1391.9L1640.0 1405.3ZM1552.9 1405.3L1567.4 1391.9L1581.9 1405.3L1567.4 1418.8ZM346.9 1405.3L346.9 1405.3ZM1364.0 1418.8L1364.0 1418.8L1364.0 1418.8L1378.5 1418.8L1378.5 1418.8L1378.5 1418.8ZM1218.7 1432.3L1218.7 1432.3L1218.7 1432.3L1218.7 1432.3ZM1407.6 1432.3L1407.6 1432.3L1407.6 1445.7L1407.6 1445.8L1407.6 1445.7L1407.6 1432.3ZM1451.2 1432.3L1451.1 1432.3L1451.2 1432.3L1465.7 1432.3L1465.7 1432.3L1465.7 1432.3ZM1552.9 1432.3L1567.4 1418.8L1581.9 1432.3L1567.4 1445.7ZM1364.0 1445.7L1364.0 1445.7L1349.4 1459.2L1349.4 1459.2L1349.4 1472.7L1349.4 1472.7L1364.0 1472.7L1378.5 1472.7L1393.0 1472.7L1407.6 1472.7L1422.1 1472.7L1422.1 1472.7L1422.1 1472.7L1407.6 1472.7L1393.0 1472.7L1378.5 1472.7L1364.0 1459.2L1364.0 1445.8ZM1218.7 1459.2L1218.7 1459.2L1218.7 1459.2L1218.7 1459.2ZM1262.3 1459.2L1262.3 1459.2L1262.3 1459.2L1276.8 1459.2L1276.8 1459.2L1276.8 1459.2ZM1436.6 1459.2L1436.6 1459.2L1436.6 1459.2L1436.6 1459.2ZM1509.3 1459.2L1523.8 1445.8L1538.3 1459.2L1523.8 1472.7L1523.8 1472.7L1509.3 1486.2L1494.7 1472.7L1509.3 1459.2ZM1625.5 1459.2L1640.0 1445.8L1654.6 1459.2L1640.0 1472.7ZM1305.8 1486.2L1305.8 1486.2L1305.8 1486.2L1305.9 1486.2ZM1364.0 1499.6L1364.0 1499.6L1364.0 1499.6L1364.0 1499.6ZM1451.2 1499.6L1451.1 1499.6L1451.2 1499.6L1451.2 1499.6ZM1494.7 1499.6L1509.3 1486.2L1523.8 1486.2L1538.3 1499.6L1523.8 1513.1L1509.3 1513.1ZM346.9 1499.6L346.9 1499.6ZM1305.8 1513.1L1305.8 1513.1L1305.8 1513.1L1305.9 1513.1ZM1407.6 1513.1L1407.6 1513.1L1407.6 1513.1L1407.6 1513.1ZM1146.0 1526.6L1146.0 1526.6L1146.0 1526.6L1146.0 1526.6ZM1364.0 1526.6L1364.0 1526.6L1364.0 1526.6L1364.0 1526.6ZM1581.9 1526.6L1596.4 1513.1L1611.0 1526.6L1596.4 1540.0ZM361.4 1553.5L361.4 1553.5L361.4 1553.5L361.4 1553.5ZM1262.3 1553.5L1262.3 1553.5L1262.3 1553.5L1262.3 1553.5ZM1320.4 1553.5L1320.4 1553.5L1320.4 1553.5L1320.4 1553.5ZM1364.0 1553.5L1364.0 1553.5L1364.0 1553.5L1364.0 1553.5ZM1494.7 1553.5L1509.3 1540.0L1523.8 1553.5L1523.8 1553.5L1538.3 1567.0L1523.8 1580.4L1509.3 1567.0L1509.3 1567.0ZM1669.1 1553.5L1683.6 1540.0L1698.2 1553.5L1683.6 1567.0ZM1334.9 1567.0L1334.9 1567.0L1334.9 1567.0L1349.4 1567.0L1349.4 1567.0L1349.4 1567.0ZM1378.5 1567.0L1378.5 1567.0L1378.5 1567.0L1378.5 1567.0ZM1422.1 1567.0L1422.1 1567.0L1422.1 1567.0L1422.1 1567.0ZM346.9 1567.0L346.9 1567.0ZM361.4 1593.9L361.4 1593.9L361.4 1593.9L361.4 1593.9ZM1247.7 1593.9L1247.7 1593.9L1247.7 1593.9L1247.7 1593.9ZM1305.8 1593.9L1305.8 1593.9L1305.8 1593.9L1305.9 1593.9ZM1334.9 1593.9L1334.9 1593.9L1334.9 1593.9L1334.9 1593.9ZM1175.1 1607.4L1175.1 1607.4L1175.1 1607.4L1175.1 1607.4ZM1233.2 1620.9L1233.2 1620.9L1233.2 1620.9L1233.2 1620.9ZM1334.9 1620.9L1334.9 1620.9L1334.9 1620.9L1334.9 1620.9ZM1494.7 1620.9L1509.3 1607.4L1523.8 1620.9L1523.8 1634.3L1509.3 1647.8L1494.7 1634.3ZM346.9 1620.9L346.9 1620.9L346.9 1607.4L346.9 1607.4M361.4 1634.3L361.4 1634.3L361.4 1634.3L361.4 1634.3ZM1262.3 1634.3L1262.3 1634.3L1262.3 1634.3L1276.8 1634.3L1276.8 1634.3L1276.8 1634.3ZM1204.1 1647.8L1204.1 1647.8L1204.1 1647.8L1204.1 1647.8ZM346.9 1647.8L346.9 1647.8ZM405.0 1661.3L405.0 1661.3L405.0 1661.3L405.0 1661.3ZM1262.3 1661.3L1262.3 1661.3L1262.3 1661.3L1262.3 1661.3ZM1364.0 1661.3L1378.5 1647.8L1393.0 1661.3L1378.5 1674.7ZM361.4 1674.7L361.4 1674.7L361.4 1688.2L361.4 1701.7L361.4 1701.7L361.4 1701.7L361.4 1688.2L361.4 1674.7ZM1160.5 1674.7L1160.5 1674.7L1160.5 1674.7L1160.6 1674.7ZM1305.8 1674.7L1305.8 1674.7L1305.8 1674.7L1305.9 1674.7ZM1218.7 1688.2L1218.7 1688.2L1218.7 1688.2L1218.7 1688.2ZM1160.5 1701.7L1160.5 1701.7L1160.5 1701.7L1160.6 1701.7ZM1189.6 1701.7L1189.6 1701.7L1189.6 1701.7L1189.6 1701.7ZM1334.9 1715.2L1349.4 1701.7L1364.0 1715.2L1349.4 1728.6ZM1364.0 1715.2L1378.5 1701.7L1393.0 1715.2L1378.5 1728.6ZM1407.6 1715.2L1422.1 1701.7L1436.6 1701.7L1451.1 1715.2L1436.6 1728.6L1422.1 1728.6ZM1465.7 1728.6L1480.2 1715.2L1494.7 1728.6L1480.2 1742.1ZM1015.2 1742.1L1015.2 1742.1L1015.2 1742.1L1015.3 1742.1ZM1625.5 1742.1L1640.0 1728.6L1654.6 1742.1L1640.0 1755.6ZM1058.8 1755.6L1058.8 1755.6L1058.8 1755.6L1058.8 1755.6ZM1218.7 1755.6L1233.2 1742.1L1247.7 1755.6L1233.2 1769.0ZM1247.7 1755.6L1262.3 1742.1L1276.8 1755.6L1276.8 1755.6L1291.3 1769.0L1276.8 1782.5L1262.3 1769.0L1262.3 1769.0ZM1291.3 1755.6L1305.8 1742.1L1320.4 1755.6L1305.8 1769.0ZM957.1 1782.5L957.1 1782.5L957.1 1782.5L957.1 1782.5ZM986.2 1782.5L986.2 1782.5L986.2 1782.5L986.2 1782.5ZM1378.5 1782.5L1393.0 1769.0L1407.6 1769.0L1422.1 1782.5L1422.1 1796.0L1407.6 1809.4L1393.0 1796.0L1393.0 1796.0L1393.0 1796.0L1378.5 1809.4L1364.0 1796.0L1378.5 1782.5ZM1436.6 1782.5L1451.2 1769.0L1465.7 1782.5L1451.2 1796.0ZM1581.9 1782.5L1596.4 1769.0L1611.0 1782.5L1596.4 1796.0ZM869.9 1796.0L869.9 1796.0L869.9 1796.0L870.0 1796.0ZM1276.8 1796.0L1291.3 1782.5L1305.8 1782.5L1320.4 1796.0L1305.8 1809.4L1291.3 1809.4L1291.3 1809.4L1276.8 1822.9L1262.3 1809.4L1276.8 1796.0ZM1480.2 1796.0L1494.7 1782.5L1509.3 1796.0L1509.3 1809.4L1509.3 1822.9L1494.7 1836.4L1480.2 1822.9L1480.2 1809.4ZM1509.3 1796.0L1523.8 1782.5L1538.3 1796.0L1523.8 1809.4ZM1625.5 1796.0L1640.0 1782.5L1654.6 1796.0L1640.0 1809.4ZM419.5 1809.4L419.5 1809.4L419.5 1809.4L419.5 1809.4ZM448.6 1809.4L448.6 1809.4L448.6 1809.4L448.6 1809.4ZM942.6 1809.4L942.6 1809.4L942.6 1809.4L942.6 1809.4ZM971.7 1809.4L971.7 1809.4L971.7 1809.4L971.7 1809.4ZM1204.1 1809.4L1218.7 1796.0L1233.2 1809.4L1218.7 1822.9ZM1087.9 1822.9L1102.4 1809.4L1117.0 1822.9L1102.4 1836.4ZM1305.9 1822.9L1320.4 1809.4L1334.9 1822.9L1320.4 1836.4ZM1407.6 1822.9L1422.1 1809.4L1436.6 1822.9L1422.1 1836.4ZM1538.3 1822.9L1552.9 1809.4L1567.4 1822.9L1552.9 1836.4ZM477.6 1836.4L477.6 1836.4L477.6 1849.8L477.6 1849.9L477.6 1849.8L477.6 1836.4ZM608.4 1836.4L608.4 1836.4L608.4 1836.4L608.4 1836.4ZM826.4 1836.4L826.4 1836.4L826.4 1849.8L826.4 1849.9L826.4 1849.8L826.4 1836.4ZM1117.0 1836.4L1131.5 1822.9L1146.0 1836.4L1131.5 1849.8ZM1378.5 1836.4L1393.0 1822.9L1407.6 1836.4L1393.0 1849.8ZM1451.2 1836.4L1465.7 1822.9L1480.2 1836.4L1465.7 1849.8ZM1567.4 1836.4L1581.9 1822.9L1596.4 1836.4L1581.9 1849.8L1581.9 1849.8L1567.4 1863.3L1552.9 1849.8L1567.4 1836.4ZM375.9 1849.8L390.5 1836.4L405.0 1849.8L390.5 1863.3ZM884.5 1849.8L884.5 1849.8L869.9 1863.3L869.9 1863.3L869.9 1863.3L884.5 1863.3L884.5 1863.3L884.5 1849.8ZM1146.0 1849.8L1160.5 1836.4L1175.1 1849.8L1160.5 1863.3ZM768.2 1863.3L768.2 1863.3L768.2 1863.3L768.2 1863.3ZM1364.0 1863.3L1378.5 1849.9L1393.0 1863.3L1378.5 1876.8ZM1523.8 1863.3L1538.3 1849.9L1552.9 1863.3L1538.3 1876.8ZM1596.5 1863.3L1611.0 1849.9L1625.5 1863.3L1611.0 1876.8ZM622.9 1876.8L622.9 1876.8L622.9 1876.8L637.5 1876.8L637.5 1876.8L637.5 1876.8ZM855.4 1876.8L855.4 1876.8L855.4 1876.8L855.4 1876.8ZM346.9 1876.8L346.9 1876.8L361.4 1863.3L375.9 1876.8L375.9 1876.8L390.5 1876.8L405.0 1876.8L405.0 1876.8L405.0 1863.3L405.0 1849.8L419.5 1836.4L434.0 1836.4L434.1 1836.4L434.0 1836.4L419.5 1836.4L405.0 1822.9L405.0 1822.9L390.5 1809.4L405.0 1796.0L405.0 1796.0L405.0 1796.0L390.5 1782.5L390.5 1782.5L375.9 1769.0L375.9 1769.0L361.4 1755.6L361.4 1742.1L361.4 1728.6L361.4 1728.6L361.4 1728.6L346.9 1742.1M419.5 1890.3L419.5 1890.3L419.5 1890.3L419.5 1890.3ZM492.2 1890.3L492.2 1890.3L492.2 1890.3L506.7 1890.3L506.7 1890.3L506.7 1890.3ZM695.6 1890.3L695.6 1890.3L695.6 1890.3L695.6 1890.3ZM840.9 1890.3L840.9 1890.3L840.9 1903.7L840.9 1903.7L840.9 1903.7L840.9 1890.3ZM1044.3 1890.3L1058.8 1876.8L1073.4 1890.3L1058.8 1903.7ZM1073.4 1890.3L1087.9 1876.8L1102.4 1890.3L1087.9 1903.7ZM1117.0 1890.3L1131.5 1876.8L1146.0 1890.3L1131.5 1903.7ZM1480.2 1890.3L1494.7 1876.8L1509.3 1890.3L1509.3 1890.3L1523.8 1903.7L1509.3 1917.2L1494.7 1903.7L1494.7 1903.7ZM448.6 1903.7L448.6 1903.7L448.6 1903.7L463.1 1903.7L463.1 1903.7L463.1 1903.7ZM564.8 1903.7L564.8 1903.7L564.8 1903.7L564.8 1903.7ZM593.9 1903.7L593.9 1903.7L593.9 1903.7L593.9 1903.7ZM622.9 1903.7L622.9 1903.7L622.9 1903.7L622.9 1903.7ZM710.1 1903.7L710.1 1903.7L695.6 1917.2L695.6 1917.2L695.6 1917.2L710.1 1917.2L724.6 1917.2L724.7 1917.2L724.6 1917.2L710.1 1903.7ZM768.2 1903.7L768.2 1903.7L768.2 1903.7L768.2 1903.7ZM797.3 1903.7L797.3 1903.7L797.3 1917.2L782.8 1930.7L782.8 1930.7L782.8 1930.7L797.3 1930.7L811.8 1930.7L811.8 1930.7L811.8 1930.7L797.3 1917.2L797.3 1903.7ZM1015.3 1903.7L1029.8 1890.3L1044.3 1903.7L1044.3 1903.7L1058.8 1917.2L1044.3 1930.7L1029.8 1917.2L1029.8 1917.2ZM1523.8 1903.7L1538.3 1890.3L1552.9 1903.7L1538.3 1917.2ZM826.4 1917.2L826.4 1917.2L826.4 1917.2L826.4 1917.2ZM434.0 1930.7L434.0 1930.7L434.0 1944.1L434.0 1944.1L448.6 1944.1L448.6 1944.1L448.6 1944.1L434.1 1930.7ZM477.6 1930.7L477.6 1930.7L477.6 1930.7L477.6 1930.7ZM535.8 1930.7L535.8 1930.7L535.8 1930.7L535.8 1930.7ZM840.9 1930.7L840.9 1930.7L840.9 1930.7L840.9 1930.7ZM913.5 1930.7L928.1 1917.2L942.6 1930.7L928.1 1944.1ZM942.6 1930.7L957.1 1917.2L971.7 1930.7L957.1 1944.1ZM346.9 1930.7L346.9 1930.7L361.4 1917.2L375.9 1930.7L375.9 1930.7L390.5 1944.1L390.5 1944.1L405.0 1944.1L405.0 1944.1L405.0 1930.7L405.0 1930.7L390.5 1917.2L390.5 1917.2L375.9 1903.7L375.9 1903.7L361.4 1903.7L346.9 1903.7M826.4 1944.1L826.4 1944.1L826.4 1944.1L826.4 1944.1ZM1000.7 1944.1L1015.2 1930.7L1029.8 1944.1L1015.2 1957.6ZM463.1 1957.6L463.1 1957.6L463.1 1971.1L463.1 1971.1L463.1 1971.1L477.6 1957.6L492.2 1971.1L492.2 1971.1L492.2 1971.1L492.2 1957.6L492.2 1957.6L477.6 1957.6ZM928.1 1957.6L942.6 1944.1L957.1 1957.6L942.6 1971.1L942.6 1971.1L928.1 1984.5L913.5 1971.1L928.1 1957.6ZM477.6 1984.5L477.6 1984.6L477.6 1998.0L477.6 1998.0L477.6 1998.0L477.6 1984.6ZM652.0 1984.6L666.5 1971.1L681.1 1984.6L666.5 1998.0L666.5 1998.0L652.0 2011.5L637.5 1998.0L652.0 1984.6ZM681.1 1984.6L695.6 1971.1L710.1 1984.6L695.6 1998.0ZM724.7 1998.0L739.2 1984.6L753.7 1998.0L739.2 2011.5ZM681.1 2011.5L695.6 1998.0L710.1 1998.0L724.6 2011.5L710.1 2025.0L695.6 2025.0L695.6 2025.0L681.1 2038.4L681.1 2038.4L666.5 2051.9L652.0 2038.4L666.5 2025.0L666.5 2025.0L681.1 2011.5ZM608.4 2025.0L622.9 2011.5L637.5 2025.0L622.9 2038.4ZM840.9 2025.0L855.4 2011.5L869.9 2025.0L855.4 2038.4ZM739.2 2038.4L753.7 2025.0L768.2 2038.4L753.7 2051.9ZM346.9 2051.9L361.4 2038.4L375.9 2051.9L361.4 2065.4ZM579.4 2051.9L593.9 2038.4L608.4 2038.4L622.9 2051.9L608.4 2065.4L593.9 2065.4L593.9 2065.4L579.3 2078.8L564.8 2065.4L579.3 2051.9ZM622.9 2051.9L637.5 2038.4L652.0 2051.9L637.5 2065.4ZM695.6 2078.8L710.1 2065.4L724.6 2078.8L710.1 2092.3ZM564.8 2105.8L579.3 2092.3L593.9 2105.8L579.3 2119.2ZM593.9 2119.2L608.4 2105.8L622.9 2119.2L608.4 2132.7ZM637.5 2119.2L652.0 2105.8L666.5 2119.2L652.0 2132.7ZM521.2 2173.1L521.2 2159.7L521.2 2146.2L521.2 2132.7L521.2 2132.7L506.7 2119.2L506.7 2119.2L492.2 2119.2L477.6 2105.8L492.2 2092.3L506.7 2092.3L521.2 2105.8L521.2 2105.8L521.2 2105.8L521.2 2092.3L521.2 2078.8L535.8 2065.4L550.3 2065.4L564.8 2078.8L550.3 2092.3L550.3 2092.3L550.3 2105.8L535.8 2119.2L535.8 2119.2L535.8 2119.3L550.3 2132.7L550.3 2146.2L550.3 2159.7L550.3 2173.1"/>
<path stroke="#242424" d="M500.9 1109.0L506.7 1105.6L521.2 1106.8L524.1 1109.0L521.2 1110.7L506.7 1114.4ZM598.7 1109.0L608.4 1105.2L611.6 1109.0L608.4 1114.4ZM569.7 1122.5L579.3 1117.1L585.8 1122.5L579.3 1133.2ZM715.0 1122.5L724.6 1118.0L728.8 1122.5L724.6 1125.5ZM664.5 1135.9L666.5 1133.2L673.8 1135.9L666.5 1139.3ZM750.8 1135.9L753.7 1129.2L756.1 1135.9L753.7 1149.4ZM862.7 1135.9L869.9 1129.2L875.8 1135.9L869.9 1142.7ZM1085.8 1135.9L1087.9 1134.3L1090.3 1135.9L1087.9 1137.9ZM575.7 1149.4L579.3 1142.7L593.9 1149.4L579.3 1162.9ZM690.7 1149.4L695.6 1144.0L705.3 1149.4L702.0 1162.9L710.1 1171.3L724.6 1169.6L729.5 1176.3L724.6 1179.7L710.1 1189.8L695.6 1185.3L693.2 1189.8L695.6 1194.3L710.1 1189.8L724.6 1194.9L731.9 1189.8L739.2 1181.7L744.6 1189.8L753.7 1198.2L759.9 1203.3L768.2 1210.0L775.5 1203.3L782.8 1189.8L782.8 1189.8L797.3 1178.6L807.7 1189.8L797.3 1198.2L791.1 1203.3L782.8 1211.0L776.5 1216.8L782.8 1221.8L793.7 1216.8L797.3 1213.4L811.8 1206.3L826.4 1207.8L827.8 1203.3L826.4 1189.8L826.4 1189.8L811.8 1176.3L811.8 1176.3L808.2 1162.9L811.8 1159.5L826.4 1159.0L831.2 1162.9L840.9 1173.7L848.2 1176.3L855.4 1180.8L861.2 1189.8L869.9 1203.3L869.9 1203.3L884.5 1203.3L899.0 1216.8L884.5 1230.2L884.5 1230.2L870.0 1241.0L866.3 1243.7L869.9 1245.0L884.5 1248.2L889.3 1243.7L899.0 1230.2L899.0 1230.2L913.5 1223.5L915.6 1216.8L928.1 1210.5L942.6 1216.8L928.1 1226.9L918.4 1230.2L928.1 1235.6L942.6 1231.6L953.5 1243.7L957.1 1257.2L942.6 1262.9L935.3 1257.2L928.1 1250.4L913.5 1257.2L899.0 1252.7L894.2 1257.2L899.0 1258.7L910.6 1270.6L913.5 1284.1L913.5 1284.1L913.5 1284.1L928.1 1270.6L942.6 1279.6L947.4 1284.1L942.6 1293.1L928.1 1297.6L928.1 1297.6L928.1 1297.6L942.6 1302.1L957.1 1297.6L965.4 1311.1L971.7 1314.4L974.4 1311.1L986.2 1298.5L999.7 1311.1L1000.7 1324.5L1000.7 1338.0L1000.7 1351.5L1000.7 1351.5L1000.7 1351.5L1000.7 1338.0L1015.2 1324.5L1024.9 1338.0L1029.8 1339.5L1040.3 1351.5L1044.3 1364.9L1040.7 1378.4L1044.3 1380.3L1055.2 1391.9L1044.3 1405.3L1044.3 1405.3L1036.0 1418.8L1029.8 1428.9L1024.9 1432.3L1029.8 1434.5L1034.6 1432.3L1044.3 1427.8L1049.2 1432.3L1044.3 1437.7L1038.9 1445.8L1044.3 1459.2L1044.3 1459.2L1058.8 1459.2L1061.7 1472.7L1058.8 1486.2L1044.3 1478.1L1029.8 1472.7L1029.8 1472.7L1029.8 1472.7L1015.2 1476.1L1010.4 1472.7L1000.7 1468.8L998.8 1472.7L1000.7 1479.4L1006.5 1486.2L1000.7 1490.0L994.1 1499.6L1000.7 1505.8L1007.3 1499.6L1015.2 1490.7L1029.8 1492.9L1044.3 1496.3L1058.8 1499.6L1050.5 1513.1L1044.3 1526.6L1029.8 1522.1L1015.2 1513.1L1015.2 1513.1L1015.2 1513.1L1015.2 1526.6L1015.2 1526.6L1029.8 1529.9L1037.0 1540.0L1037.0 1553.5L1029.8 1556.9L1018.9 1567.0L1029.8 1573.7L1044.3 1577.8L1049.2 1580.4L1044.3 1583.1L1029.8 1588.5L1020.1 1593.9L1015.2 1597.3L1000.7 1599.3L993.5 1593.9L986.2 1589.4L978.9 1593.9L971.7 1607.4L971.7 1607.4L957.1 1611.2L942.6 1607.4L942.6 1607.4L942.6 1607.4L942.6 1607.4L948.0 1620.9L942.6 1634.3L942.6 1634.3L928.1 1646.1L913.5 1634.3L928.1 1622.5L931.7 1620.9L928.1 1619.4L913.5 1620.9L913.5 1620.9L913.5 1634.3L906.3 1647.8L899.0 1653.2L889.3 1647.8L884.5 1644.4L881.6 1647.8L884.5 1661.3L884.5 1661.3L891.7 1674.7L884.5 1678.1L877.2 1674.7L870.0 1670.3L862.7 1661.3L855.4 1655.9L840.9 1656.8L839.6 1661.3L826.4 1674.7L813.2 1661.3L811.8 1658.6L808.2 1661.3L797.3 1674.7L797.3 1674.7L797.3 1674.7L811.8 1674.7L816.7 1688.2L826.4 1697.2L840.9 1697.2L844.5 1701.7L850.6 1715.2L840.9 1725.9L837.3 1728.6L826.4 1734.4L817.6 1728.6L826.4 1718.5L829.3 1715.2L826.4 1708.4L811.8 1706.2L797.3 1705.0L782.8 1709.4L775.5 1701.7L773.1 1688.2L768.2 1681.5L758.6 1688.2L756.6 1701.7L753.7 1704.4L739.2 1708.4L731.9 1701.7L724.7 1699.0L723.4 1701.7L710.1 1712.3L701.4 1715.2L695.6 1719.0L688.3 1728.6L684.7 1742.1L681.1 1744.8L666.5 1747.0L652.0 1745.5L647.2 1742.1L652.0 1735.4L666.5 1731.3L669.0 1728.6L666.5 1721.9L652.0 1724.1L637.5 1728.6L622.9 1728.6L608.4 1719.6L604.3 1728.6L593.9 1737.0L579.3 1730.5L569.7 1742.1L564.8 1752.2L557.6 1742.1L550.3 1728.6L550.3 1728.6L543.0 1715.2L535.8 1708.4L521.2 1706.2L511.5 1701.7L521.2 1694.9L535.8 1694.9L543.0 1688.2L535.8 1681.5L528.5 1674.7L521.2 1670.3L518.3 1674.7L506.7 1685.5L501.9 1688.2L492.2 1694.2L486.1 1701.7L483.5 1715.2L477.6 1721.9L468.0 1715.2L469.2 1701.7L470.4 1688.2L477.6 1679.2L483.5 1674.7L477.6 1665.8L474.0 1661.3L463.1 1653.2L454.4 1661.3L458.3 1674.7L448.6 1683.7L438.9 1674.7L438.9 1661.3L448.6 1647.8L448.6 1647.8L448.6 1647.8L434.0 1634.3L434.0 1634.3L434.0 1634.3L419.5 1641.1L409.8 1634.3L405.0 1629.8L399.2 1620.9L399.2 1607.4L397.7 1593.9L405.0 1590.6L419.5 1593.9L419.5 1593.9L419.5 1593.9L434.0 1582.1L448.6 1580.5L448.6 1580.5L448.6 1580.5L434.0 1573.7L426.8 1567.0L423.2 1553.5L419.5 1546.8L408.6 1540.0L406.6 1526.6L409.8 1513.1L414.7 1499.6L419.5 1490.7L421.6 1486.2L419.5 1481.7L414.7 1472.7L405.0 1459.2L419.5 1450.2L424.4 1445.8L419.5 1440.4L405.0 1439.0L394.1 1432.3L390.5 1418.8L395.3 1405.3L405.0 1391.9L405.0 1391.9L405.0 1391.9L396.3 1378.4L390.5 1373.0L385.0 1364.9L390.5 1358.2L405.0 1359.5L414.7 1364.9L419.5 1378.4L419.5 1378.4L419.5 1378.4L422.4 1364.9L428.2 1351.5L419.5 1344.1L407.4 1338.0L419.5 1326.8L422.4 1324.5L419.5 1317.8L415.9 1311.1L419.5 1308.4L431.1 1297.6L434.0 1290.8L437.7 1284.1L446.2 1270.6L448.6 1257.2L463.1 1263.9L468.3 1257.2L463.1 1251.6L454.6 1243.7L463.1 1231.9L464.9 1230.2L477.6 1219.8L487.3 1216.8L484.9 1203.3L484.9 1189.8L492.2 1176.3L500.9 1189.8L506.7 1193.7L521.2 1203.3L521.2 1203.3L521.2 1203.3L524.9 1189.8L535.8 1176.3L535.8 1176.3L535.8 1176.3L527.0 1162.9L535.8 1149.4L550.3 1153.9L564.8 1159.5L579.3 1162.9L564.8 1169.6L560.0 1176.3L550.3 1189.8L550.3 1189.8L550.3 1189.8L564.8 1193.2L572.1 1189.8L579.3 1183.1L593.9 1176.3L593.9 1176.3L608.4 1162.9L622.9 1162.9L622.9 1162.9L637.5 1158.4L640.4 1162.9L652.0 1171.9L666.5 1167.4L681.1 1167.4L684.0 1162.9ZM849.2 1162.9L855.4 1157.1L869.9 1154.8L875.4 1162.9L875.8 1176.3L869.9 1181.7L860.3 1176.3L855.4 1173.0ZM761.0 1176.3L768.2 1169.6L775.5 1176.3L768.2 1179.7ZM622.9 1185.3L616.7 1189.8L622.9 1203.3L622.9 1203.3L622.9 1203.3L631.7 1189.8ZM666.5 1183.1L660.7 1189.8L666.5 1203.3L666.5 1203.3L666.5 1203.3L670.7 1189.8ZM878.7 1189.8L884.5 1184.4L894.2 1189.8L884.5 1203.3ZM983.3 1203.3L986.2 1198.8L1000.7 1193.2L1005.6 1203.3L1000.7 1211.4L991.0 1216.8L986.2 1221.2L982.6 1216.8ZM1027.7 1203.3L1029.8 1199.9L1033.4 1203.3L1029.8 1205.2ZM608.4 1212.3L604.8 1216.8L608.4 1219.0L610.8 1216.8ZM637.5 1216.8L637.5 1216.8L637.5 1216.8L637.5 1216.8ZM855.4 1211.0L850.6 1216.8L855.4 1220.4L860.3 1216.8ZM419.5 1230.2L434.0 1223.5L439.9 1230.2L434.0 1234.7ZM521.2 1230.2L521.2 1230.2L506.7 1243.7L506.7 1243.7L506.7 1243.7L521.2 1246.1L526.1 1243.7L521.2 1230.2ZM753.7 1230.2L753.7 1230.2L753.7 1230.2L768.2 1234.1L772.4 1230.2L768.2 1225.7ZM431.1 1257.2L434.0 1254.5L448.6 1257.2L434.0 1259.4ZM957.1 1257.2L971.7 1248.2L986.2 1257.2L986.2 1270.6L986.2 1270.6L986.2 1270.6L1000.7 1262.6L1008.0 1270.6L1015.2 1284.1L1000.7 1292.2L986.2 1294.2L971.7 1290.8L968.8 1284.1L964.4 1270.6ZM400.8 1270.6L405.0 1257.2L412.3 1270.6L405.0 1274.5ZM521.2 1270.6L521.2 1270.6L521.2 1270.6L521.2 1270.6ZM1041.4 1284.1L1044.3 1279.6L1058.8 1277.4L1066.1 1284.1L1058.8 1297.6L1044.3 1288.6ZM400.8 1297.6L405.0 1293.7L409.8 1297.6L405.0 1303.0ZM448.6 1297.6L448.6 1297.6L448.6 1297.6L448.6 1297.6ZM477.6 1296.1L474.7 1297.6L477.6 1299.3L480.1 1297.6ZM1005.6 1311.1L1015.2 1304.3L1022.5 1311.1L1015.2 1324.5ZM1066.1 1324.5L1073.4 1320.0L1077.0 1324.5L1075.8 1338.0L1073.4 1344.7L1066.1 1338.0ZM1044.3 1364.9L1058.8 1359.2L1067.6 1364.9L1058.8 1370.0ZM1083.1 1364.9L1087.9 1360.4L1090.0 1364.9L1087.9 1367.6ZM1000.7 1368.3L997.4 1378.4L1000.7 1384.2L1009.4 1378.4ZM1070.9 1378.4L1073.4 1373.9L1076.3 1378.4L1073.4 1385.1ZM1097.6 1378.4L1102.4 1375.0L1105.3 1378.4L1102.4 1391.9ZM971.7 1389.2L970.2 1391.9L971.7 1405.3L971.7 1405.3L971.7 1405.3L976.5 1391.9ZM1029.8 1391.9L1029.8 1391.9L1029.8 1391.9L1029.8 1391.9ZM419.5 1405.3L419.5 1405.3L412.3 1418.8L419.5 1422.2L421.6 1418.8L434.0 1408.7L436.0 1405.3L434.0 1402.9ZM1015.2 1405.3L1015.2 1405.3L1015.2 1405.3L1015.2 1405.3ZM1073.4 1418.8L1087.9 1415.4L1091.5 1418.8L1087.9 1421.1ZM1068.5 1432.3L1073.4 1418.8L1077.5 1432.3L1073.4 1445.8ZM986.2 1452.5L983.3 1459.2L986.2 1461.0L990.3 1459.2ZM1080.6 1459.2L1087.9 1453.4L1094.1 1459.2L1087.9 1467.3ZM398.8 1486.2L405.0 1480.4L415.9 1486.2L405.0 1491.9ZM1083.1 1499.6L1087.9 1496.9L1092.7 1499.6L1087.9 1501.6ZM986.2 1511.2L981.3 1513.1L986.2 1516.5L988.3 1513.1ZM386.3 1526.6L390.5 1519.8L400.1 1526.6L390.5 1532.0ZM477.6 1540.0L477.6 1540.0L477.6 1540.0L477.6 1540.0ZM401.4 1553.5L405.0 1546.8L408.6 1553.5L405.0 1560.2ZM986.2 1553.5L986.2 1553.5L986.2 1553.5L991.0 1567.0L1000.7 1580.5L1000.7 1580.5L1000.7 1580.5L1010.4 1567.0L1000.7 1553.5L1000.7 1553.5ZM1073.4 1553.5L1087.9 1546.8L1091.5 1553.5L1087.9 1556.9ZM1216.6 1553.5L1218.7 1550.1L1220.7 1553.5L1218.7 1555.4ZM928.1 1564.5L926.5 1567.0L926.7 1580.5L928.1 1587.2L931.7 1580.5L937.8 1567.0ZM957.1 1591.7L955.5 1593.9L957.1 1598.4L962.0 1593.9ZM1084.3 1593.9L1087.9 1588.5L1095.2 1593.9L1087.9 1597.3ZM434.0 1607.4L434.0 1607.4L434.0 1607.4L444.9 1620.9L448.6 1627.6L455.8 1620.9L451.8 1607.4L448.6 1602.9ZM506.7 1607.4L506.7 1607.4L506.7 1607.4L506.7 1607.4ZM419.5 1620.9L419.5 1620.9L419.5 1620.9L419.5 1620.9ZM966.2 1620.9L971.7 1607.4L978.9 1620.9L986.2 1631.0L993.5 1634.3L986.2 1638.8L971.7 1645.1L964.4 1647.8L960.8 1661.3L957.1 1665.8L942.6 1664.0L928.1 1661.3L942.6 1657.9L953.5 1647.8L942.6 1634.3L957.1 1630.5ZM463.1 1634.3L463.1 1634.3L463.1 1634.3L463.1 1634.3ZM995.9 1647.8L1000.7 1641.1L1003.6 1647.8L1000.7 1654.5L998.6 1661.3L986.2 1672.8L978.9 1661.3L986.2 1651.2ZM535.8 1661.3L535.8 1661.3L535.8 1661.3L535.8 1661.3ZM637.5 1661.3L637.5 1661.3L637.5 1661.3L637.5 1661.3ZM909.9 1661.3L913.5 1656.8L928.1 1661.3L918.4 1674.7L923.2 1688.2L913.5 1692.1L906.3 1688.2L906.3 1674.7ZM1029.8 1661.3L1044.3 1657.9L1046.4 1661.3L1044.3 1674.7L1044.3 1674.7L1029.8 1678.1L1026.1 1674.7L1029.8 1661.3ZM564.8 1674.7L564.8 1674.7L564.8 1674.7L564.8 1674.7ZM710.1 1674.7L710.1 1674.7L710.1 1674.7L724.6 1680.5L730.9 1674.7L724.6 1670.3ZM622.9 1685.5L612.0 1688.2L608.4 1701.7L593.9 1699.0L579.3 1701.7L564.8 1696.3L550.3 1697.2L545.4 1701.7L550.3 1706.2L560.0 1715.2L564.8 1721.9L579.3 1725.3L593.9 1715.2L593.9 1715.2L608.4 1701.7L622.9 1707.1L637.5 1710.7L647.2 1701.7L637.5 1697.8L628.4 1688.2ZM652.0 1687.0L649.6 1688.2L652.0 1694.9L653.2 1688.2ZM877.2 1701.7L884.5 1694.9L890.7 1701.7L884.5 1706.7ZM939.0 1701.7L942.6 1698.3L947.4 1701.7L942.6 1703.4ZM969.6 1715.2L971.7 1708.4L975.3 1715.2L971.7 1718.5ZM483.5 1728.6L492.2 1721.9L506.7 1725.3L514.0 1728.6L506.7 1730.9L494.6 1742.1L492.2 1744.3L488.5 1742.1ZM704.7 1728.6L710.1 1721.9L718.8 1728.6L710.1 1734.4ZM729.5 1728.6L739.2 1717.8L753.7 1725.9L756.1 1728.6L753.7 1742.1L739.2 1735.4ZM877.2 1728.6L884.5 1723.6L890.7 1728.6L884.5 1736.7ZM721.7 1742.1L724.6 1737.6L727.6 1742.1L724.6 1755.6ZM797.3 1742.1L811.8 1735.4L816.7 1742.1L811.8 1746.6ZM947.4 1742.1L957.1 1737.6L961.3 1742.1L957.1 1745.9ZM530.3 1755.6L535.8 1751.1L540.6 1755.6L535.8 1762.3ZM606.3 1755.6L608.4 1752.2L615.7 1755.6L608.4 1758.3ZM969.2 1755.6L971.7 1753.3L986.2 1755.6L971.7 1758.3ZM692.7 1769.0L695.6 1762.3L697.4 1769.0L695.6 1782.5ZM808.2 1769.0L811.8 1766.3L813.9 1769.0L811.8 1771.3ZM731.9 1782.5L739.2 1775.8L744.0 1782.5L739.2 1786.3ZM487.3 1796.0L492.2 1793.3L494.2 1796.0L492.2 1798.2ZM593.9 1796.0L608.4 1792.1L612.0 1796.0L608.4 1799.8ZM778.6 1796.0L782.8 1790.6L786.4 1796.0L782.8 1799.8Z"/>
<path stroke="#494949" d="M679.4 1203.3L681.1 1199.9L683.1 1203.3L681.1 1205.0ZM839.4 1203.3L840.9 1201.6L843.8 1203.3L840.9 1207.8ZM646.4 1216.8L652.0 1209.3L659.3 1216.8L652.0 1225.2ZM615.7 1230.2L622.9 1223.5L629.2 1230.2L630.2 1243.7L637.5 1248.8L646.2 1243.7L652.0 1238.3L666.5 1242.0L681.1 1243.7L681.1 1257.2L681.1 1257.2L681.1 1257.2L695.6 1250.4L702.9 1257.2L710.1 1258.4L724.6 1270.6L724.6 1270.6L724.6 1270.6L739.2 1261.7L750.8 1257.2L739.2 1246.4L724.6 1243.7L739.2 1230.2L753.7 1241.0L759.5 1243.7L756.6 1257.2L762.4 1270.6L768.2 1275.1L782.8 1279.6L797.3 1284.1L797.3 1284.1L797.3 1284.1L811.8 1275.1L820.8 1284.1L826.4 1293.7L840.9 1288.0L855.4 1287.5L857.5 1284.1L869.9 1276.8L877.9 1284.1L870.0 1293.1L862.7 1297.6L867.0 1311.1L862.7 1324.5L869.9 1338.0L867.9 1351.5L869.9 1353.7L871.8 1351.5L884.5 1342.9L892.8 1338.0L890.3 1324.5L884.5 1320.0L872.9 1311.1L884.5 1302.1L899.0 1309.4L901.1 1311.1L906.3 1324.5L907.7 1338.0L907.1 1351.5L906.9 1364.9L911.9 1378.4L913.5 1381.8L917.2 1378.4L925.6 1364.9L928.1 1358.2L931.7 1364.9L942.6 1371.7L948.8 1378.4L957.1 1389.2L958.6 1391.9L958.7 1405.3L957.1 1408.7L954.7 1405.3L942.6 1400.2L937.0 1405.3L939.0 1418.8L928.1 1426.2L919.0 1432.3L925.4 1445.8L913.5 1459.2L913.5 1459.2L913.5 1459.2L916.4 1472.7L928.1 1478.7L939.7 1472.7L942.6 1468.2L948.4 1459.2L957.1 1454.7L965.8 1445.8L957.1 1439.5L947.0 1432.3L957.1 1422.9L971.7 1418.8L971.7 1418.8L986.2 1409.8L988.0 1405.3L1000.7 1396.8L1007.5 1405.3L1000.7 1413.9L991.0 1418.8L986.2 1425.5L976.5 1432.3L977.5 1445.8L971.7 1459.2L971.7 1459.2L965.4 1472.7L957.1 1486.2L942.6 1486.2L942.6 1486.2L932.2 1499.6L928.1 1503.5L916.0 1513.1L928.1 1526.6L913.5 1540.0L913.5 1540.0L913.5 1540.0L928.1 1551.8L942.6 1553.5L928.1 1554.7L920.0 1567.0L916.2 1580.5L915.4 1593.9L928.1 1607.4L913.5 1613.2L903.9 1607.4L910.6 1593.9L909.4 1580.4L901.9 1567.0L899.0 1563.1L894.9 1567.0L884.5 1576.6L876.4 1567.0L884.5 1558.6L889.9 1553.5L884.5 1549.5L871.8 1540.0L869.9 1539.1L868.8 1540.0L865.1 1553.5L866.5 1567.0L867.0 1580.5L869.9 1593.9L869.9 1593.9L876.2 1607.4L870.0 1612.4L862.7 1607.4L855.4 1602.9L840.9 1604.0L838.8 1607.4L840.9 1610.1L855.4 1620.9L840.9 1634.3L840.9 1634.3L826.4 1647.8L824.5 1634.3L821.5 1620.9L811.8 1611.9L797.3 1620.9L797.3 1620.9L797.3 1620.9L803.4 1634.3L797.3 1645.6L785.2 1634.3L782.8 1632.4L771.9 1620.9L775.5 1607.4L768.2 1596.6L759.9 1607.4L765.6 1620.9L766.2 1634.3L753.7 1644.4L746.4 1647.8L739.2 1653.2L735.5 1647.8L730.1 1634.3L724.6 1630.3L720.3 1634.3L710.1 1647.8L702.9 1634.3L705.3 1620.9L695.6 1618.6L692.9 1620.9L681.1 1631.9L677.8 1634.3L681.1 1643.3L688.3 1647.8L681.1 1651.2L672.3 1661.3L666.5 1664.6L660.7 1661.3L662.9 1647.8L652.0 1641.1L645.8 1634.3L637.5 1625.3L631.0 1634.3L631.2 1647.8L622.9 1656.8L608.4 1654.5L601.1 1647.8L593.9 1643.3L579.3 1647.8L579.3 1647.8L572.1 1661.3L564.8 1664.0L550.3 1664.6L547.4 1661.3L541.6 1647.8L550.3 1643.3L564.8 1642.4L572.1 1634.3L564.8 1627.0L550.3 1626.2L535.8 1627.6L531.6 1620.9L530.9 1607.4L521.2 1593.9L521.2 1580.5L521.2 1580.5L521.2 1580.5L506.7 1587.6L498.2 1593.9L492.2 1607.4L492.2 1607.4L477.6 1609.1L470.4 1607.4L469.6 1593.9L477.6 1584.3L481.8 1580.4L477.6 1571.5L463.1 1574.7L454.8 1567.0L463.1 1558.0L468.9 1553.5L477.6 1549.8L486.6 1540.0L477.6 1528.1L463.1 1533.8L453.4 1540.0L448.6 1548.1L443.1 1540.0L434.0 1535.2L419.5 1526.6L434.0 1513.1L445.9 1526.6L448.6 1532.0L451.8 1526.6L463.1 1517.1L477.6 1519.8L479.7 1513.1L477.6 1510.4L463.1 1499.6L463.1 1499.6L463.1 1499.6L448.6 1504.1L434.0 1513.1L425.0 1499.6L434.0 1488.4L438.9 1486.2L434.0 1480.8L429.2 1472.7L434.0 1466.9L438.5 1459.2L438.9 1445.8L434.0 1435.0L431.6 1432.3L434.0 1427.8L448.6 1418.8L463.1 1432.3L463.1 1432.3L463.1 1432.3L467.6 1418.8L463.1 1415.0L448.6 1418.8L443.7 1405.3L434.0 1393.1L432.0 1391.9L434.0 1385.1L438.9 1378.4L448.6 1374.6L452.7 1378.4L463.1 1388.0L473.5 1378.4L464.4 1364.9L463.1 1363.0L448.6 1358.8L439.9 1351.5L448.6 1343.4L463.1 1338.0L463.1 1338.0L475.6 1324.5L477.6 1317.8L492.2 1313.5L506.7 1321.5L512.1 1311.1L512.5 1297.6L521.2 1293.1L535.8 1284.1L535.8 1284.1L535.8 1284.1L530.2 1270.6L535.8 1264.5L544.8 1270.6L550.3 1280.7L555.7 1270.6L564.8 1264.5L571.5 1257.2L568.5 1243.7L579.3 1237.9L588.1 1243.7L589.5 1257.2L593.9 1262.9L608.4 1259.1L615.7 1257.2L608.4 1248.2L603.6 1243.7L608.4 1240.3ZM707.2 1230.2L710.1 1226.9L717.4 1230.2L710.1 1232.5ZM793.1 1243.7L797.3 1234.7L802.1 1243.7L797.3 1249.1ZM839.1 1243.7L840.9 1241.5L843.3 1243.7L840.9 1248.2ZM940.2 1243.7L942.6 1242.4L943.8 1243.7L942.6 1245.9ZM476.6 1257.2L477.6 1255.5L479.5 1257.2L477.6 1259.1ZM519.2 1257.2L521.2 1255.9L523.3 1257.2L521.2 1258.7ZM652.0 1249.1L646.6 1257.2L652.0 1260.8L658.2 1257.2ZM804.6 1257.2L811.8 1251.4L822.7 1257.2L811.8 1262.9ZM850.6 1257.2L855.4 1254.9L869.9 1255.8L872.0 1257.2L869.9 1259.4L855.4 1259.1ZM503.8 1270.6L506.7 1268.7L508.3 1270.6L513.3 1284.1L506.7 1293.7L492.2 1291.8L477.6 1284.1L492.2 1277.4ZM833.6 1270.6L840.9 1261.7L846.7 1270.6L840.9 1279.6ZM579.3 1280.7L578.1 1284.1L579.3 1286.8L581.8 1284.1ZM753.7 1284.1L753.7 1284.1L753.7 1284.1L753.7 1284.1ZM811.8 1297.6L811.8 1297.6L811.8 1297.6L811.8 1297.6ZM797.3 1309.1L792.5 1311.1L797.3 1312.5L800.9 1311.1ZM840.9 1306.0L834.7 1311.1L840.9 1315.1L847.1 1311.1ZM981.6 1311.1L986.2 1306.2L991.4 1311.1L986.2 1317.8ZM442.4 1324.5L448.6 1320.0L453.4 1324.5L448.6 1330.3ZM521.2 1324.5L521.2 1324.5L521.2 1324.5L521.2 1324.5ZM579.3 1321.2L578.0 1324.5L579.3 1326.1L580.6 1324.5ZM739.2 1320.0L738.4 1324.5L739.2 1325.6L746.4 1324.5ZM826.4 1315.9L820.0 1324.5L824.9 1338.0L826.4 1351.5L826.4 1351.5L826.4 1351.5L829.0 1338.0L833.6 1324.5ZM922.3 1324.5L928.1 1311.1L933.9 1324.5L928.1 1333.5ZM964.4 1324.5L971.7 1323.4L974.1 1324.5L971.7 1326.8ZM492.2 1333.8L483.9 1338.0L492.2 1342.5L498.6 1338.0ZM477.6 1351.5L477.6 1351.5L477.6 1351.5L477.6 1351.5ZM492.2 1358.6L486.2 1364.9L492.2 1372.8L498.2 1364.9ZM884.5 1360.9L879.0 1364.9L884.5 1373.0L889.3 1364.9ZM981.3 1378.4L986.2 1375.0L988.4 1378.4L986.2 1381.8ZM928.1 1386.5L922.3 1391.9L928.1 1394.6L931.0 1391.9ZM463.1 1459.2L463.1 1459.2L463.1 1459.2L463.1 1459.2ZM448.6 1471.3L444.9 1472.7L448.6 1475.4L452.2 1472.7ZM977.1 1472.7L986.2 1468.2L991.0 1472.7L986.2 1480.2ZM884.5 1486.2L884.5 1486.2L884.5 1486.2L884.5 1486.2ZM913.5 1486.2L913.5 1486.2L913.5 1486.2L913.5 1486.2ZM884.5 1511.2L883.0 1513.1L883.4 1526.6L884.5 1528.3L899.0 1526.6L899.0 1526.6L899.0 1526.6L888.1 1513.1ZM938.2 1540.0L942.6 1534.3L953.5 1540.0L942.6 1553.5ZM981.3 1540.0L986.2 1536.2L991.0 1540.0L986.2 1542.7ZM432.8 1553.5L434.0 1551.3L438.9 1553.5L434.0 1555.2ZM967.5 1553.5L971.7 1549.0L974.6 1553.5L971.7 1558.0ZM550.3 1580.5L550.3 1580.5L550.3 1580.5L564.8 1580.5L564.8 1580.5L564.8 1580.5ZM797.3 1580.5L797.3 1580.5L797.3 1580.5L797.3 1580.5ZM622.9 1593.1L621.6 1593.9L622.9 1607.4L622.9 1607.4L622.9 1607.4L624.2 1593.9ZM826.4 1583.1L816.7 1593.9L826.4 1599.3L834.7 1593.9ZM739.2 1607.4L739.2 1607.4L739.2 1607.4L739.2 1607.4ZM608.4 1631.0L603.6 1634.3L608.4 1641.1L612.6 1634.3ZM589.0 1661.3L593.9 1656.8L598.7 1661.3L608.4 1665.8L622.9 1665.8L634.6 1674.7L622.9 1678.3L608.4 1679.6L598.7 1674.7L593.9 1665.8ZM761.0 1661.3L768.2 1658.6L782.8 1651.2L788.2 1661.3L786.7 1674.7L782.8 1680.5L777.9 1674.7L768.2 1663.2ZM823.7 1661.3L826.4 1647.8L829.0 1661.3L826.4 1664.0ZM642.3 1674.7L652.0 1669.4L655.6 1674.7L652.0 1677.2ZM662.9 1688.2L666.5 1683.7L671.4 1688.2L666.5 1694.0ZM693.5 1701.7L695.6 1697.2L710.1 1695.9L713.8 1701.7L710.1 1704.6L695.6 1703.6Z"/>
<path stroke="#6d6d6d" d="M601.1 1270.6L608.4 1266.8L614.2 1270.6L618.1 1284.1L620.0 1297.6L608.4 1305.9L602.4 1311.1L608.4 1316.2L622.9 1314.4L637.5 1318.4L644.2 1311.1L652.0 1301.6L662.9 1297.6L666.5 1294.2L672.8 1284.1L681.1 1278.7L686.9 1284.1L695.6 1294.2L710.1 1292.2L719.8 1297.6L724.6 1300.9L729.5 1311.1L732.3 1324.5L739.2 1333.8L753.7 1329.5L764.6 1338.0L753.7 1348.8L739.2 1345.7L735.8 1351.5L739.2 1357.2L753.7 1359.5L768.2 1358.2L774.1 1351.5L782.8 1338.0L782.8 1338.0L782.8 1338.0L776.5 1324.5L782.8 1320.0L797.3 1324.5L797.3 1324.5L797.3 1324.5L811.8 1322.3L812.7 1324.5L819.1 1338.0L814.7 1351.5L826.4 1357.1L836.3 1364.9L833.6 1378.4L840.9 1385.1L848.8 1391.9L855.4 1401.5L858.6 1405.3L855.4 1410.7L845.7 1405.3L840.9 1403.4L826.4 1404.4L825.6 1405.3L826.4 1407.0L840.9 1418.8L840.9 1418.8L852.5 1432.3L840.9 1441.3L837.7 1445.8L840.9 1448.7L855.4 1445.8L857.5 1459.2L859.1 1472.7L855.4 1476.1L840.9 1486.2L840.9 1486.2L836.7 1499.6L840.9 1506.4L845.7 1513.1L855.4 1519.8L867.0 1513.1L862.7 1499.6L860.9 1486.2L870.0 1477.7L875.5 1486.2L880.3 1499.6L871.4 1513.1L875.1 1526.6L869.9 1531.4L859.9 1540.0L855.4 1545.4L848.2 1540.0L840.9 1532.3L833.6 1540.0L840.9 1550.8L843.0 1553.5L840.9 1560.2L826.4 1565.5L819.1 1567.0L811.8 1568.9L797.3 1572.8L787.6 1567.0L782.8 1560.2L768.2 1560.2L753.7 1558.0L739.2 1565.4L736.0 1567.0L739.2 1569.1L749.8 1580.5L746.4 1593.9L739.2 1598.4L727.6 1607.4L724.6 1616.4L710.1 1610.4L695.6 1609.6L692.4 1607.4L695.6 1603.5L710.1 1600.7L719.8 1593.9L710.1 1591.2L702.4 1580.5L695.6 1571.0L684.7 1567.0L681.1 1563.6L666.5 1560.2L663.6 1567.0L666.5 1569.2L675.6 1580.5L681.1 1585.5L688.3 1593.9L681.1 1599.5L666.5 1602.9L652.0 1599.7L642.3 1607.4L637.5 1610.8L634.6 1607.4L633.8 1593.9L637.5 1585.8L652.0 1580.5L652.0 1580.5L652.0 1580.5L637.5 1576.6L634.2 1580.5L622.9 1586.3L611.1 1593.9L608.4 1602.9L603.6 1607.4L602.6 1620.9L593.9 1626.6L589.0 1620.9L579.3 1609.3L575.7 1607.4L579.3 1600.7L593.9 1593.9L593.9 1593.9L595.2 1580.5L593.9 1578.2L579.3 1571.5L576.1 1567.0L564.8 1555.2L560.2 1567.0L550.3 1575.8L535.8 1573.7L521.2 1569.7L514.0 1567.0L521.2 1553.5L521.2 1553.5L535.8 1545.7L540.9 1540.0L535.8 1530.4L521.2 1540.0L506.7 1536.1L492.2 1526.6L495.4 1513.1L492.2 1511.2L481.3 1499.6L490.4 1486.2L486.4 1472.7L477.6 1463.7L473.7 1459.2L477.6 1449.1L492.2 1450.2L506.7 1450.2L508.3 1445.8L506.7 1442.4L501.3 1432.3L506.7 1427.8L516.4 1418.8L518.0 1405.3L506.7 1399.1L497.5 1405.3L500.0 1418.8L492.2 1426.7L480.1 1432.3L477.6 1439.0L476.0 1432.3L476.5 1418.8L463.1 1407.3L457.3 1405.3L463.1 1402.0L477.6 1394.6L479.5 1391.9L492.2 1382.4L506.7 1382.9L521.2 1382.9L522.3 1378.4L521.2 1376.2L506.7 1369.4L505.0 1364.9L492.2 1351.5L506.7 1346.1L509.9 1351.5L521.2 1359.3L535.8 1354.6L550.3 1351.5L550.3 1351.5L558.6 1338.0L554.6 1324.5L550.3 1314.9L543.0 1311.1L550.3 1306.6L554.8 1297.6L560.5 1284.1L564.8 1277.4L568.5 1284.1L574.9 1297.6L564.8 1308.6L557.6 1311.1L564.8 1313.0L572.7 1324.5L579.3 1332.4L585.4 1324.5L582.6 1311.1L593.9 1300.6L596.8 1297.6L602.6 1284.1ZM706.5 1270.6L710.1 1268.2L713.0 1270.6L710.1 1276.0ZM649.9 1284.1L652.0 1270.6L655.6 1284.1L652.0 1287.5ZM531.6 1297.6L535.8 1294.9L540.6 1297.6L535.8 1304.3ZM518.2 1311.1L521.2 1305.1L530.9 1311.1L521.2 1315.5ZM666.5 1302.1L663.3 1311.1L666.5 1313.7L681.1 1315.5L695.6 1321.2L710.1 1324.5L710.1 1324.5L710.1 1324.5L710.1 1311.1L710.1 1311.1L695.6 1303.0L681.1 1304.3ZM490.4 1324.5L492.2 1323.3L494.2 1324.5L492.2 1325.6ZM652.0 1324.5L652.0 1324.5L652.0 1324.5L652.0 1324.5ZM526.7 1338.0L535.8 1324.5L543.8 1338.0L535.8 1346.4ZM724.6 1335.7L721.4 1338.0L724.6 1340.2L729.5 1338.0ZM839.6 1338.0L840.9 1331.3L843.3 1338.0L840.9 1341.4ZM579.3 1349.8L578.2 1351.5L579.3 1352.3L582.3 1351.5ZM666.5 1350.0L661.7 1351.5L666.5 1353.7L668.0 1351.5ZM797.3 1344.7L788.2 1351.5L782.8 1364.9L782.8 1364.9L782.8 1364.9L790.8 1378.4L797.3 1385.1L801.8 1378.4L804.6 1364.9L807.7 1351.5ZM475.0 1364.9L477.6 1362.2L479.3 1364.9L477.6 1368.3ZM593.9 1359.2L591.6 1364.9L593.9 1368.0L596.3 1364.9ZM652.0 1360.4L651.0 1364.9L652.0 1365.4L654.4 1364.9ZM753.7 1378.4L753.7 1378.4L753.7 1378.4L753.7 1378.4ZM896.1 1391.9L899.0 1378.4L901.4 1391.9L899.0 1398.6ZM550.3 1403.7L544.5 1405.3L550.3 1407.8L552.9 1405.3ZM860.3 1418.8L869.9 1412.6L880.8 1418.8L869.9 1426.9ZM855.4 1445.8L870.0 1443.1L871.8 1445.8L869.9 1447.7ZM906.3 1445.8L913.5 1443.5L914.9 1445.8L913.5 1447.2ZM447.5 1459.2L448.6 1445.8L450.2 1459.2L448.6 1460.6ZM797.3 1455.9L796.0 1459.2L797.3 1461.3L799.9 1459.2ZM875.4 1459.2L884.5 1451.3L896.6 1459.2L890.7 1472.7L884.5 1476.4L877.2 1472.7ZM608.4 1486.2L608.4 1486.2L608.4 1486.2L608.4 1486.2ZM432.2 1499.6L434.0 1497.4L437.3 1499.6L434.0 1502.3ZM909.2 1499.6L913.5 1496.0L918.4 1499.6L913.5 1503.7ZM535.8 1513.1L535.8 1513.1L535.8 1513.1L550.3 1515.5L560.0 1513.1L550.3 1511.5ZM432.4 1526.6L434.0 1525.1L435.4 1526.6L434.0 1527.5ZM564.8 1515.0L559.0 1526.6L564.8 1534.7L569.4 1526.6ZM593.9 1553.5L593.9 1553.5L593.9 1553.5L593.9 1553.5ZM724.6 1553.5L724.6 1553.5L724.6 1553.5L724.6 1553.5ZM622.9 1565.3L621.3 1567.0L622.9 1568.7L625.4 1567.0ZM843.3 1567.0L855.4 1560.9L859.7 1567.0L855.4 1574.5ZM765.3 1580.5L768.2 1573.7L782.8 1573.7L786.7 1580.5L782.8 1586.2L768.2 1582.1ZM545.4 1593.9L550.3 1592.4L564.8 1593.9L550.3 1596.6ZM794.4 1593.9L797.3 1592.4L799.4 1593.9L797.3 1598.4ZM673.8 1620.9L681.1 1619.2L682.4 1620.9L681.1 1622.1ZM746.4 1620.9L753.7 1618.6L755.0 1620.9L753.7 1625.3Z"/>
<path stroke="#929292" d="M563.7 1297.6L564.8 1295.3L565.9 1297.6L564.8 1298.8ZM561.4 1324.5L564.8 1320.7L567.5 1324.5L564.8 1330.5ZM590.2 1324.5L593.9 1313.0L608.4 1324.5L593.9 1332.6ZM608.4 1324.5L622.9 1321.2L631.2 1324.5L628.8 1338.0L622.9 1341.0L618.8 1338.0ZM721.7 1324.5L724.6 1320.7L726.2 1324.5L724.6 1326.8ZM691.4 1338.0L695.6 1335.0L705.3 1338.0L710.1 1339.7L724.6 1349.2L726.9 1351.5L732.7 1364.9L739.2 1371.7L744.0 1378.4L739.2 1383.8L730.9 1378.4L724.6 1373.3L710.1 1372.3L706.3 1378.4L710.1 1384.0L724.6 1384.2L730.5 1391.9L739.2 1400.0L750.8 1405.3L753.7 1406.7L768.2 1405.3L768.2 1405.3L768.2 1405.3L753.7 1400.9L750.1 1391.9L753.7 1389.2L764.3 1378.4L768.2 1373.9L775.5 1378.4L778.3 1391.9L782.8 1402.6L797.3 1399.6L811.8 1393.2L813.9 1391.9L811.8 1385.1L810.7 1378.4L811.8 1376.5L816.7 1378.4L826.4 1381.8L837.3 1391.9L826.4 1397.3L819.1 1405.3L811.8 1413.4L805.1 1418.8L811.8 1424.2L826.4 1423.3L831.2 1432.3L826.4 1441.3L823.9 1445.8L826.4 1452.5L833.6 1459.2L826.4 1463.7L811.8 1466.0L810.5 1459.2L801.5 1445.8L802.5 1432.3L797.3 1426.7L790.0 1432.3L782.8 1437.9L774.3 1445.8L782.8 1450.7L790.7 1459.2L797.3 1469.6L808.2 1472.7L802.1 1486.2L811.8 1490.0L823.9 1499.6L816.7 1513.1L811.8 1516.1L797.3 1513.1L797.3 1513.1L794.4 1499.6L782.8 1488.9L768.2 1486.2L768.2 1486.2L759.8 1472.7L768.2 1464.8L772.5 1459.2L768.2 1452.5L753.7 1455.0L748.1 1459.2L746.4 1472.7L739.2 1486.2L724.6 1482.1L710.1 1480.5L706.8 1486.2L710.1 1492.3L724.6 1489.0L739.2 1486.2L753.7 1490.9L765.5 1499.6L764.4 1513.1L768.2 1518.0L777.5 1526.6L768.2 1537.0L762.4 1540.0L753.7 1544.1L747.5 1540.0L744.6 1526.6L739.2 1518.5L724.6 1522.4L710.1 1519.8L699.2 1526.6L710.1 1533.3L715.6 1540.0L710.1 1548.1L695.6 1553.5L685.0 1540.0L690.7 1526.6L681.1 1522.1L678.2 1526.6L666.5 1534.3L652.0 1538.7L644.7 1540.0L642.3 1553.5L637.5 1556.9L630.2 1553.5L622.9 1549.0L608.4 1547.7L598.7 1540.0L608.4 1529.3L610.5 1526.6L608.4 1524.9L593.9 1525.3L591.5 1526.6L579.3 1533.3L575.5 1526.6L579.3 1519.1L583.5 1513.1L579.3 1502.3L576.4 1499.6L572.1 1486.2L564.8 1472.7L564.8 1472.7L564.8 1472.7L550.3 1486.2L535.8 1472.7L550.3 1459.2L550.3 1459.2L553.6 1445.8L550.3 1443.2L540.8 1432.3L535.8 1423.7L529.3 1418.8L535.8 1412.8L550.3 1417.6L563.5 1405.3L564.8 1402.6L570.1 1391.9L564.8 1385.9L559.0 1391.9L550.3 1396.9L535.8 1391.9L535.8 1391.9L531.3 1378.4L529.9 1364.9L535.8 1362.9L550.3 1362.2L564.8 1364.9L564.8 1364.9L564.8 1364.9L564.8 1364.9L560.0 1351.5L564.8 1345.5L569.3 1351.5L579.3 1358.6L585.5 1364.9L593.9 1376.3L602.8 1364.9L608.4 1356.4L619.7 1364.9L622.9 1373.9L626.6 1364.9L637.5 1354.8L643.3 1364.9L652.0 1369.4L666.5 1375.0L673.8 1364.9L679.6 1351.5L681.1 1349.2L684.7 1351.5L695.6 1358.2L699.9 1351.5L695.6 1343.4ZM746.4 1338.0L753.7 1335.2L757.3 1338.0L753.7 1341.6ZM806.0 1338.0L811.8 1335.0L813.3 1338.0L811.8 1341.4ZM821.5 1364.9L826.4 1362.8L829.1 1364.9L826.4 1373.0ZM637.5 1389.9L632.6 1391.9L634.6 1405.3L637.5 1409.8L642.3 1405.3L643.7 1391.9ZM695.6 1401.1L689.0 1405.3L695.6 1409.1L702.2 1405.3ZM608.4 1416.1L604.1 1418.8L608.4 1423.9L611.0 1418.8ZM782.8 1407.3L778.4 1418.8L782.8 1426.2L789.5 1418.8ZM564.8 1423.3L562.9 1432.3L564.8 1434.5L567.7 1432.3ZM622.9 1427.8L614.5 1432.3L622.9 1439.0L629.7 1432.3ZM579.3 1444.3L578.0 1445.8L579.3 1448.0L593.9 1448.9L597.0 1445.7L593.9 1442.1ZM637.5 1443.1L634.2 1445.8L637.5 1447.7L640.7 1445.8ZM695.6 1444.7L693.8 1445.8L695.6 1449.1L696.4 1445.8ZM724.6 1445.8L724.6 1445.8L724.6 1445.8L724.6 1445.8ZM608.4 1458.1L607.1 1459.2L608.4 1461.5L622.9 1461.1L625.0 1459.2L622.9 1456.2ZM882.7 1459.2L884.5 1457.6L886.9 1459.2L884.5 1463.1ZM515.4 1472.7L521.2 1465.0L535.8 1472.7L521.2 1480.4ZM637.5 1470.0L634.6 1472.7L637.5 1482.8L641.8 1472.7ZM608.4 1477.9L601.6 1486.2L593.9 1496.3L583.0 1499.6L593.9 1502.7L608.4 1506.4L615.2 1499.6L622.9 1489.8L633.8 1486.2L622.9 1483.5ZM652.0 1481.3L640.4 1486.2L645.6 1499.6L637.5 1513.1L637.5 1513.1L637.5 1513.1L652.0 1513.1L666.5 1514.6L669.4 1513.1L666.5 1511.8L658.4 1499.6L660.3 1486.2ZM488.5 1499.6L492.2 1494.7L498.6 1499.6L492.2 1503.5ZM541.8 1499.6L550.3 1486.2L559.5 1499.6L550.3 1505.2ZM695.6 1513.1L695.6 1513.1L695.6 1513.1L695.6 1513.1ZM501.9 1526.6L506.7 1515.8L513.2 1526.6L506.7 1529.7ZM548.2 1526.6L550.3 1525.3L551.3 1526.6L553.2 1540.0L550.3 1542.7L549.3 1540.0ZM732.4 1553.5L739.2 1544.9L746.4 1553.5L739.2 1559.1ZM542.5 1567.0L550.3 1558.4L554.9 1567.0L550.3 1571.1ZM605.8 1580.5L608.4 1567.0L618.1 1580.5L608.4 1583.8ZM734.8 1580.5L739.2 1577.3L742.1 1580.5L739.2 1586.2ZM660.1 1593.9L666.5 1586.2L674.8 1593.9L666.5 1596.9Z"/>
<path stroke="#b6b6b6" d="M628.9 1378.4L637.5 1367.2L652.0 1373.4L660.5 1378.4L666.5 1387.8L671.9 1378.4L681.1 1368.9L695.6 1371.1L700.2 1378.4L706.5 1391.9L695.6 1394.4L681.1 1400.0L666.5 1397.6L660.3 1391.9L652.0 1388.0L637.5 1384.8ZM766.2 1391.9L768.2 1389.6L769.4 1391.9L768.2 1393.4ZM596.8 1405.3L608.4 1400.4L622.9 1394.6L628.8 1405.3L637.5 1418.8L622.9 1422.7L617.8 1418.8L608.4 1408.9ZM809.4 1405.3L811.8 1404.0L812.6 1405.3L811.8 1406.2ZM687.5 1418.8L695.6 1415.1L710.1 1412.1L715.0 1418.8L710.1 1425.5L705.3 1432.3L710.1 1435.0L717.4 1445.8L724.6 1455.5L739.2 1459.2L724.6 1469.3L713.8 1459.2L710.1 1457.7L703.3 1445.8L695.6 1436.4L681.1 1444.7L679.4 1445.8L681.1 1448.4L687.5 1459.2L681.1 1466.9L673.8 1459.2L666.5 1454.7L653.6 1445.8L666.5 1437.5L670.8 1432.3L681.1 1422.2ZM751.3 1418.8L753.7 1417.5L768.2 1413.0L772.6 1418.8L768.2 1425.5L753.7 1421.1ZM546.7 1432.3L550.3 1426.7L555.1 1432.3L550.3 1436.5ZM810.8 1432.3L811.8 1431.4L813.9 1432.3L811.8 1435.6ZM562.6 1445.8L564.8 1443.5L567.5 1445.8L564.8 1449.1ZM605.3 1445.8L608.4 1439.0L619.3 1445.8L608.4 1449.1ZM748.3 1445.8L753.7 1440.7L761.0 1445.8L753.7 1448.3ZM588.1 1459.2L593.9 1457.1L596.5 1459.2L593.9 1462.6ZM633.3 1459.2L637.5 1455.4L643.9 1459.2L637.5 1462.8ZM779.4 1459.2L782.8 1456.4L785.4 1459.2L782.8 1465.2ZM614.6 1472.7L622.9 1468.8L626.8 1472.7L622.9 1476.3ZM591.8 1486.2L593.9 1484.2L594.7 1486.2L593.9 1487.3ZM676.9 1486.2L681.1 1480.8L695.6 1478.1L701.5 1486.2L695.6 1494.2L681.1 1490.7ZM622.9 1499.6L637.5 1497.9L638.4 1499.6L637.5 1501.1ZM665.6 1499.6L666.5 1497.4L669.4 1499.6L666.5 1501.0ZM715.9 1499.6L724.6 1496.7L730.9 1499.6L729.5 1513.1L724.6 1515.6L719.2 1513.1ZM745.6 1499.6L753.7 1496.3L758.3 1499.6L756.6 1513.1L753.7 1519.8L748.9 1513.1ZM804.6 1499.6L811.8 1495.1L817.5 1499.6L811.8 1506.9ZM591.8 1513.1L593.9 1511.0L603.6 1513.1L593.9 1515.5ZM611.3 1513.1L622.9 1499.6L627.8 1513.1L622.9 1522.1ZM649.9 1526.6L652.0 1525.1L666.5 1526.6L652.0 1527.9Z"/>
<path stroke="#dbdbdb" d="M635.8 1378.4L637.5 1376.2L652.0 1377.4L653.7 1378.4L652.0 1380.3L637.5 1379.7ZM678.0 1378.4L681.1 1375.2L690.7 1378.4L681.1 1384.4ZM677.6 1432.3L681.1 1428.9L688.3 1432.3L681.1 1436.4ZM693.5 1486.2L695.6 1485.3L696.3 1486.2L695.6 1487.1Z"/>
<path stroke="#ffffff" d=""/>
<path stroke="#000" d="M1436.6 839.6L1451.2 853.1L1465.7 839.6"/>
<path stroke="#000" d="M1786.5 1754.5L1772 1769L1786.5 1783.7"/>
</g></g>
<g clip-path="url(#ct)" shape-rendering="crispEdges">
<rect x="360.60" y="589.25" width="7.54" height="10.75" fill="#054863"/>
<rect x="367.85" y="568.81" width="7.54" height="31.19" fill="#003c6e"/>
<rect x="375.09" y="562.81" width="7.54" height="37.19" fill="#013b6f"/>
<rect x="382.34" y="536.38" width="7.54" height="63.62" fill="#0a3a73"/>
<rect x="389.58" y="522.98" width="7.54" height="77.02" fill="#054664"/>
<rect x="396.83" y="493.02" width="7.54" height="106.98" fill="#043b71"/>
<rect x="404.07" y="491.26" width="7.54" height="108.74" fill="#003b6f"/>
<rect x="411.32" y="477.16" width="7.54" height="122.84" fill="#023f6b"/>
<rect x="418.56" y="469.05" width="7.54" height="130.95" fill="#023b70"/>
<rect x="425.81" y="448.26" width="7.54" height="151.74" fill="#033b70"/>
<rect x="433.05" y="433.10" width="7.54" height="166.90" fill="#013d6d"/>
<rect x="440.30" y="419.00" width="7.54" height="181.00" fill="#003c6e"/>
<rect x="447.54" y="395.38" width="7.54" height="204.62" fill="#003b6f"/>
<rect x="454.79" y="374.23" width="7.54" height="225.77" fill="#043b71"/>
<rect x="462.03" y="400.67" width="7.54" height="199.33" fill="#003b6f"/>
<rect x="469.28" y="372.12" width="7.54" height="227.88" fill="#013d6d"/>
<rect x="476.52" y="349.21" width="7.54" height="250.79" fill="#053b71"/>
<rect x="483.77" y="330.88" width="7.54" height="269.12" fill="#023b70"/>
<rect x="491.01" y="324.89" width="7.54" height="275.11" fill="#083a72"/>
<rect x="498.25" y="298.45" width="7.54" height="301.55" fill="#053b71"/>
<rect x="505.50" y="296.33" width="7.54" height="303.67" fill="#083a72"/>
<rect x="512.75" y="283.29" width="7.54" height="316.71" fill="#013b6f"/>
<rect x="519.99" y="283.29" width="7.54" height="316.71" fill="#053b71"/>
<rect x="527.24" y="290.34" width="7.54" height="309.66" fill="#003c6e"/>
<rect x="534.48" y="275.19" width="7.54" height="324.81" fill="#003c6f"/>
<rect x="541.73" y="219.14" width="7.54" height="380.86" fill="#013b6f"/>
<rect x="548.97" y="231.12" width="7.54" height="368.88" fill="#0a3a73"/>
<rect x="556.22" y="233.24" width="7.54" height="366.76" fill="#023b70"/>
<rect x="563.46" y="261.09" width="7.54" height="338.91" fill="#003b6f"/>
<rect x="570.71" y="220.90" width="7.54" height="379.10" fill="#003b6f"/>
<rect x="577.95" y="222.66" width="7.54" height="377.34" fill="#063b72"/>
<rect x="585.20" y="227.60" width="7.54" height="372.40" fill="#023b70"/>
<rect x="592.44" y="208.21" width="7.54" height="391.79" fill="#043b71"/>
<rect x="599.69" y="219.14" width="7.54" height="380.86" fill="#033b70"/>
<rect x="606.93" y="183.89" width="7.54" height="416.11" fill="#013e6c"/>
<rect x="614.18" y="194.11" width="7.54" height="405.89" fill="#033b70"/>
<rect x="621.42" y="205.75" width="7.54" height="394.25" fill="#003b6f"/>
<rect x="628.66" y="225.84" width="7.54" height="374.16" fill="#013e6c"/>
<rect x="635.91" y="201.16" width="7.54" height="398.84" fill="#023b70"/>
<rect x="643.15" y="181.07" width="7.54" height="418.93" fill="#003b6f"/>
<rect x="650.40" y="194.47" width="7.54" height="405.53" fill="#003b6f"/>
<rect x="657.64" y="169.09" width="7.54" height="430.91" fill="#003b6f"/>
<rect x="664.89" y="164.15" width="7.54" height="435.85" fill="#053b71"/>
<rect x="672.13" y="190.94" width="7.54" height="409.06" fill="#003b6f"/>
<rect x="679.38" y="169.79" width="7.54" height="430.21" fill="#023f6b"/>
<rect x="686.62" y="200.81" width="7.54" height="399.19" fill="#063b72"/>
<rect x="693.87" y="175.78" width="7.54" height="424.22" fill="#013e6c"/>
<rect x="701.12" y="197.64" width="7.54" height="402.36" fill="#003b6f"/>
<rect x="708.36" y="183.89" width="7.54" height="416.11" fill="#033b70"/>
<rect x="715.61" y="220.90" width="7.54" height="379.10" fill="#034169"/>
<rect x="722.85" y="194.11" width="7.54" height="405.89" fill="#013d6d"/>
<rect x="730.10" y="225.84" width="7.54" height="374.16" fill="#053b71"/>
<rect x="737.34" y="243.46" width="7.54" height="356.54" fill="#003b6f"/>
<rect x="744.59" y="205.04" width="7.54" height="394.96" fill="#013d6d"/>
<rect x="751.83" y="196.93" width="7.54" height="403.07" fill="#013b6f"/>
<rect x="759.08" y="255.09" width="7.54" height="344.91" fill="#013d6d"/>
<rect x="766.32" y="263.91" width="7.54" height="336.09" fill="#003b6f"/>
<rect x="773.57" y="242.76" width="7.54" height="357.24" fill="#013d6d"/>
<rect x="780.81" y="233.94" width="7.54" height="366.06" fill="#02406b"/>
<rect x="788.06" y="236.41" width="7.54" height="363.59" fill="#033b70"/>
<rect x="795.30" y="274.83" width="7.54" height="325.17" fill="#003c6e"/>
<rect x="802.55" y="255.09" width="7.54" height="344.91" fill="#023b70"/>
<rect x="809.79" y="257.91" width="7.54" height="342.09" fill="#003b6f"/>
<rect x="817.04" y="269.90" width="7.54" height="330.10" fill="#053b71"/>
<rect x="824.28" y="264.96" width="7.54" height="335.04" fill="#023b70"/>
<rect x="831.53" y="286.11" width="7.54" height="313.89" fill="#013b6f"/>
<rect x="838.77" y="309.02" width="7.54" height="290.98" fill="#013e6c"/>
<rect x="846.02" y="294.92" width="7.54" height="305.08" fill="#023f6b"/>
<rect x="853.26" y="313.96" width="7.54" height="286.04" fill="#053b71"/>
<rect x="860.51" y="322.77" width="7.54" height="277.23" fill="#033b70"/>
<rect x="867.75" y="322.07" width="7.54" height="277.93" fill="#013d6d"/>
<rect x="875.00" y="353.79" width="7.54" height="246.21" fill="#083a72"/>
<rect x="882.24" y="370.71" width="7.54" height="229.29" fill="#023b70"/>
<rect x="889.49" y="358.02" width="7.54" height="241.98" fill="#003b6f"/>
<rect x="896.73" y="352.03" width="7.54" height="247.97" fill="#023f6b"/>
<rect x="903.98" y="370.71" width="7.54" height="229.29" fill="#013d6d"/>
<rect x="911.22" y="367.18" width="7.54" height="232.82" fill="#013b70"/>
<rect x="918.47" y="380.93" width="7.54" height="219.07" fill="#023b70"/>
<rect x="925.71" y="386.22" width="7.54" height="213.78" fill="#013b6f"/>
<rect x="932.96" y="390.80" width="7.54" height="209.20" fill="#02406a"/>
<rect x="940.20" y="418.29" width="7.54" height="181.71" fill="#023b70"/>
<rect x="947.45" y="433.10" width="7.54" height="166.90" fill="#013b70"/>
<rect x="954.69" y="433.10" width="7.54" height="166.90" fill="#003c6e"/>
<rect x="961.94" y="405.96" width="7.54" height="194.04" fill="#003b6f"/>
<rect x="969.18" y="420.06" width="7.54" height="179.94" fill="#013b6f"/>
<rect x="976.43" y="441.91" width="7.54" height="158.09" fill="#053b71"/>
<rect x="983.67" y="458.83" width="7.54" height="141.17" fill="#003b6f"/>
<rect x="990.92" y="424.99" width="7.54" height="175.01" fill="#023b70"/>
<rect x="998.16" y="456.01" width="7.54" height="143.99" fill="#023f6b"/>
<rect x="1005.41" y="460.24" width="7.54" height="139.76" fill="#013d6d"/>
<rect x="1012.65" y="470.11" width="7.54" height="129.89" fill="#003b6f"/>
<rect x="1019.89" y="472.93" width="7.54" height="127.07" fill="#013d6d"/>
<rect x="1027.14" y="475.75" width="7.54" height="124.25" fill="#013b70"/>
<rect x="1034.38" y="472.93" width="7.54" height="127.07" fill="#013e6c"/>
<rect x="1041.63" y="505.36" width="7.54" height="94.64" fill="#003b6f"/>
<rect x="1048.88" y="500.07" width="7.54" height="99.93" fill="#013d6d"/>
<rect x="1056.12" y="495.49" width="7.54" height="104.51" fill="#053b71"/>
<rect x="1063.37" y="493.02" width="7.54" height="106.98" fill="#003c6e"/>
<rect x="1070.61" y="499.01" width="7.54" height="100.99" fill="#073a72"/>
<rect x="1077.86" y="502.52" width="7.54" height="97.48" fill="#083a72"/>
<rect x="1085.10" y="517.28" width="7.54" height="82.72" fill="#074b60"/>
<rect x="1092.35" y="515.22" width="7.54" height="84.78" fill="#074b60"/>
<rect x="1099.59" y="524.15" width="7.54" height="75.85" fill="#074b60"/>
<rect x="1106.84" y="521.40" width="7.54" height="78.60" fill="#074b60"/>
<rect x="1114.08" y="521.40" width="7.54" height="78.60" fill="#074b60"/>
<rect x="1121.33" y="531.70" width="7.54" height="68.30" fill="#034169"/>
<rect x="1128.57" y="537.88" width="7.54" height="62.12" fill="#034169"/>
<rect x="1135.82" y="535.47" width="7.54" height="64.53" fill="#034169"/>
<rect x="1143.06" y="540.28" width="7.54" height="59.72" fill="#034169"/>
<rect x="1150.31" y="537.53" width="7.54" height="62.47" fill="#034169"/>
<rect x="1157.55" y="545.43" width="7.54" height="54.57" fill="#034169"/>
<rect x="1164.80" y="546.46" width="7.54" height="53.54" fill="#034169"/>
<rect x="1172.04" y="547.49" width="7.54" height="52.51" fill="#034169"/>
<rect x="1179.29" y="549.55" width="7.54" height="50.45" fill="#034169"/>
<rect x="1186.53" y="564.30" width="7.54" height="35.70" fill="#003b6f"/>
<rect x="1193.78" y="559.16" width="7.54" height="40.84" fill="#074b60"/>
<rect x="1201.02" y="557.44" width="7.54" height="42.56" fill="#074b60"/>
<rect x="1208.26" y="564.30" width="7.54" height="35.70" fill="#074b60"/>
<rect x="1215.51" y="557.44" width="7.54" height="42.56" fill="#074b60"/>
<rect x="1222.76" y="555.72" width="7.54" height="44.28" fill="#074b60"/>
<rect x="1230.00" y="569.45" width="7.54" height="30.55" fill="#02406a"/>
<rect x="1237.24" y="572.20" width="7.54" height="27.80" fill="#02406a"/>
<rect x="1244.49" y="567.39" width="7.54" height="32.61" fill="#02406a"/>
<rect x="1251.74" y="572.20" width="7.54" height="27.80" fill="#02406a"/>
<rect x="1258.98" y="577.35" width="7.54" height="22.65" fill="#02406a"/>
<rect x="1266.22" y="578.38" width="7.54" height="21.62" fill="#02406a"/>
<rect x="1273.47" y="579.06" width="7.54" height="20.94" fill="#02406a"/>
<rect x="1280.72" y="565.33" width="7.54" height="34.67" fill="#084e5d"/>
<rect x="1287.96" y="581.47" width="7.54" height="18.53" fill="#073a72"/>
<rect x="1295.20" y="575.29" width="7.54" height="24.71" fill="#084e5d"/>
<rect x="1302.45" y="583.52" width="7.54" height="16.48" fill="#034367"/>
<rect x="1309.70" y="583.52" width="7.54" height="16.48" fill="#034367"/>
<rect x="1316.94" y="578.38" width="7.54" height="21.62" fill="#034367"/>
<rect x="1324.18" y="586.27" width="7.54" height="13.73" fill="#034367"/>
<rect x="1331.43" y="583.52" width="7.54" height="16.48" fill="#034367"/>
<rect x="1338.68" y="588.33" width="7.54" height="11.67" fill="#034367"/>
<rect x="1345.92" y="588.33" width="7.54" height="11.67" fill="#034367"/>
<rect x="1353.16" y="586.61" width="7.54" height="13.39" fill="#034367"/>
<rect x="1360.41" y="585.58" width="7.54" height="14.42" fill="#034367"/>
<rect x="1367.66" y="584.55" width="7.54" height="15.45" fill="#034367"/>
<rect x="1374.90" y="590.39" width="7.54" height="9.61" fill="#0b5556"/>
<rect x="1382.14" y="587.64" width="7.54" height="12.36" fill="#0b5556"/>
<rect x="1389.39" y="583.52" width="7.54" height="16.48" fill="#0b5556"/>
<rect x="1396.64" y="590.39" width="7.54" height="9.61" fill="#034367"/>
<rect x="1403.88" y="593.48" width="7.54" height="6.52" fill="#034367"/>
<rect x="1411.12" y="594.51" width="7.54" height="5.49" fill="#034367"/>
<rect x="1418.37" y="592.11" width="7.54" height="7.89" fill="#1f397c"/>
<rect x="1425.62" y="591.42" width="7.54" height="8.58" fill="#1f397c"/>
<rect x="1432.86" y="591.42" width="7.54" height="8.58" fill="#1f397c"/>
<rect x="1440.11" y="594.51" width="7.54" height="5.49" fill="#0a3a73"/>
<rect x="1447.35" y="596.22" width="7.54" height="3.78" fill="#0a3a73"/>
<rect x="1454.60" y="593.48" width="7.54" height="6.52" fill="#1f397c"/>
<rect x="1461.84" y="594.51" width="7.54" height="5.49" fill="#1f397c"/>
<rect x="1469.09" y="591.42" width="7.54" height="8.58" fill="#0e5b50"/>
<rect x="1476.33" y="594.51" width="7.54" height="5.49" fill="#0a3a73"/>
<rect x="1483.57" y="597.25" width="7.54" height="2.75" fill="#0a3a73"/>
<rect x="1490.82" y="598.63" width="7.54" height="1.37" fill="#0a3a73"/>
<rect x="1498.07" y="594.51" width="7.54" height="5.49" fill="#23387d"/>
<rect x="1505.31" y="599.66" width="7.54" height="0.34" fill="#02406a"/>
<rect x="1512.55" y="596.57" width="7.54" height="3.43" fill="#47358c"/>
<rect x="1519.80" y="596.57" width="7.54" height="3.43" fill="#47358c"/>
<rect x="1527.05" y="597.60" width="7.54" height="2.40" fill="#293880"/>
<rect x="1534.29" y="599.31" width="7.54" height="0.69" fill="#143977"/>
<rect x="1541.53" y="599.66" width="7.54" height="0.34" fill="#143977"/>
<rect x="1548.78" y="599.66" width="7.54" height="0.34" fill="#143977"/>
<rect x="1563.27" y="599.66" width="7.54" height="0.34" fill="#143977"/>
<rect x="1577.76" y="598.28" width="7.54" height="1.72" fill="#143977"/>
<rect x="1585.01" y="599.66" width="7.54" height="0.34" fill="#143977"/>
<rect x="1599.49" y="599.66" width="7.54" height="0.34" fill="#143977"/>
<rect x="1628.47" y="599.66" width="7.54" height="0.34" fill="#143977"/>
</g>
<g clip-path="url(#cr)" shape-rendering="crispEdges">
<rect x="1920" y="891.41" width="5.00" height="7.10" fill="#187339"/>
<rect x="1920" y="898.22" width="2.70" height="7.10" fill="#187339"/>
<rect x="1920" y="905.02" width="2.70" height="7.10" fill="#187339"/>
<rect x="1920" y="918.62" width="11.90" height="7.10" fill="#166e3e"/>
<rect x="1920" y="925.42" width="5.80" height="7.10" fill="#116348"/>
<rect x="1920" y="932.22" width="9.80" height="7.10" fill="#084e5d"/>
<rect x="1920" y="939.03" width="7.80" height="7.10" fill="#084e5d"/>
<rect x="1920" y="945.83" width="11.90" height="7.10" fill="#0a3a73"/>
<rect x="1920" y="952.63" width="12.90" height="7.10" fill="#084e5d"/>
<rect x="1920" y="959.43" width="10.80" height="7.10" fill="#103a76"/>
<rect x="1920" y="966.23" width="9.80" height="7.10" fill="#0e5b50"/>
<rect x="1920" y="973.03" width="13.80" height="7.10" fill="#084e5d"/>
<rect x="1920" y="979.84" width="14.80" height="7.10" fill="#09505b"/>
<rect x="1920" y="986.64" width="10.80" height="7.10" fill="#003b6f"/>
<rect x="1920" y="993.44" width="17.80" height="7.10" fill="#0c5853"/>
<rect x="1920" y="1000.24" width="9.80" height="7.10" fill="#074b60"/>
<rect x="1920" y="1007.04" width="12.90" height="7.10" fill="#0a3a73"/>
<rect x="1920" y="1013.84" width="12.83" height="7.10" fill="#023f6c"/>
<rect x="1920" y="1020.64" width="28.97" height="7.10" fill="#074a60"/>
<rect x="1920" y="1027.45" width="23.68" height="7.10" fill="#013d6d"/>
<rect x="1920" y="1034.25" width="20.90" height="7.10" fill="#074c5f"/>
<rect x="1920" y="1041.05" width="16.73" height="7.10" fill="#023f6b"/>
<rect x="1920" y="1047.85" width="19.79" height="7.10" fill="#003b6f"/>
<rect x="1920" y="1054.65" width="37.88" height="7.10" fill="#054763"/>
<rect x="1920" y="1061.45" width="33.70" height="7.10" fill="#02406a"/>
<rect x="1920" y="1068.26" width="36.77" height="7.10" fill="#074b60"/>
<rect x="1920" y="1075.06" width="41.78" height="7.10" fill="#023b70"/>
<rect x="1920" y="1081.86" width="37.60" height="7.10" fill="#034169"/>
<rect x="1920" y="1088.66" width="41.78" height="7.10" fill="#074b60"/>
<rect x="1920" y="1095.46" width="44.84" height="7.10" fill="#034169"/>
<rect x="1920" y="1102.26" width="45.95" height="7.10" fill="#064862"/>
<rect x="1920" y="1109.07" width="56.80" height="7.10" fill="#013d6d"/>
<rect x="1920" y="1115.87" width="55.69" height="7.10" fill="#003b6f"/>
<rect x="1920" y="1122.67" width="60.70" height="7.10" fill="#094f5b"/>
<rect x="1920" y="1129.47" width="69.89" height="7.10" fill="#013e6c"/>
<rect x="1920" y="1136.27" width="80.74" height="7.10" fill="#084d5d"/>
<rect x="1920" y="1143.07" width="74.06" height="7.10" fill="#013d6d"/>
<rect x="1920" y="1149.88" width="93.82" height="7.10" fill="#023f6c"/>
<rect x="1920" y="1156.68" width="105.79" height="7.10" fill="#044565"/>
<rect x="1920" y="1163.48" width="103.84" height="7.10" fill="#013d6d"/>
<rect x="1920" y="1170.28" width="104.68" height="7.10" fill="#074c5f"/>
<rect x="1920" y="1177.08" width="101.61" height="7.10" fill="#003b6f"/>
<rect x="1920" y="1183.88" width="128.89" height="7.10" fill="#013e6d"/>
<rect x="1920" y="1190.68" width="119.98" height="7.10" fill="#003b6f"/>
<rect x="1920" y="1197.49" width="121.93" height="7.10" fill="#033b70"/>
<rect x="1920" y="1204.29" width="140.86" height="7.10" fill="#023b70"/>
<rect x="1920" y="1211.09" width="150.88" height="7.10" fill="#013d6d"/>
<rect x="1920" y="1217.89" width="158.11" height="7.10" fill="#003b6f"/>
<rect x="1920" y="1224.69" width="178.99" height="7.10" fill="#003b6f"/>
<rect x="1920" y="1231.49" width="216.84" height="7.10" fill="#003b6f"/>
<rect x="1920" y="1238.30" width="197.08" height="7.10" fill="#003b6f"/>
<rect x="1920" y="1245.10" width="223.80" height="7.10" fill="#013d6e"/>
<rect x="1920" y="1251.90" width="223.80" height="7.10" fill="#003c6e"/>
<rect x="1920" y="1258.70" width="222.96" height="7.10" fill="#003b6f"/>
<rect x="1920" y="1265.50" width="256.92" height="7.10" fill="#033b70"/>
<rect x="1920" y="1272.30" width="253.02" height="7.10" fill="#003c6e"/>
<rect x="1920" y="1279.11" width="282.80" height="7.10" fill="#023b70"/>
<rect x="1920" y="1285.91" width="275.84" height="7.10" fill="#013d6d"/>
<rect x="1920" y="1292.71" width="300.06" height="7.10" fill="#033b70"/>
<rect x="1920" y="1299.51" width="307.01" height="7.10" fill="#003b6f"/>
<rect x="1920" y="1306.31" width="373.81" height="7.10" fill="#003b6f"/>
<rect x="1920" y="1313.11" width="350.99" height="7.10" fill="#033b70"/>
<rect x="1920" y="1319.92" width="358.78" height="7.10" fill="#013e6c"/>
<rect x="1920" y="1326.72" width="417.78" height="7.10" fill="#013e6c"/>
<rect x="1920" y="1333.52" width="388.00" height="7.10" fill="#013b6f"/>
<rect x="1920" y="1340.32" width="431.70" height="7.10" fill="#013c6e"/>
<rect x="1920" y="1347.12" width="375.20" height="7.10" fill="#003c6e"/>
<rect x="1920" y="1353.92" width="443.67" height="7.10" fill="#063a72"/>
<rect x="1920" y="1360.72" width="433.09" height="7.10" fill="#003b6f"/>
<rect x="1920" y="1367.53" width="438.94" height="7.10" fill="#003b6f"/>
<rect x="1920" y="1374.33" width="471.78" height="7.10" fill="#003b6f"/>
<rect x="1920" y="1381.13" width="460.09" height="7.10" fill="#033b70"/>
<rect x="1920" y="1387.93" width="471.78" height="7.10" fill="#013b6f"/>
<rect x="1920" y="1394.73" width="466.77" height="7.10" fill="#003b6f"/>
<rect x="1920" y="1401.53" width="486.81" height="7.10" fill="#013d6d"/>
<rect x="1920" y="1408.34" width="509.63" height="7.10" fill="#003c6e"/>
<rect x="1920" y="1415.14" width="499.05" height="7.10" fill="#003b6f"/>
<rect x="1920" y="1421.94" width="517.70" height="7.10" fill="#013e6c"/>
<rect x="1920" y="1428.74" width="465.10" height="7.10" fill="#013b70"/>
<rect x="1920" y="1435.54" width="513.80" height="7.10" fill="#013b6f"/>
<rect x="1920" y="1442.34" width="490.98" height="7.10" fill="#043b71"/>
<rect x="1920" y="1449.15" width="487.92" height="7.10" fill="#013e6c"/>
<rect x="1920" y="1455.95" width="499.61" height="7.10" fill="#013d6d"/>
<rect x="1920" y="1462.75" width="514.64" height="7.10" fill="#013d6d"/>
<rect x="1920" y="1469.55" width="480.96" height="7.10" fill="#013c6e"/>
<rect x="1920" y="1476.35" width="488.76" height="7.10" fill="#003b6f"/>
<rect x="1920" y="1483.15" width="455.91" height="7.10" fill="#003b6f"/>
<rect x="1920" y="1489.96" width="455.91" height="7.10" fill="#013b6f"/>
<rect x="1920" y="1496.76" width="448.96" height="7.10" fill="#003b6f"/>
<rect x="1920" y="1503.56" width="437.82" height="7.10" fill="#003b6f"/>
<rect x="1920" y="1510.36" width="399.69" height="7.10" fill="#013e6c"/>
<rect x="1920" y="1517.16" width="401.64" height="7.10" fill="#003c6e"/>
<rect x="1920" y="1523.96" width="382.72" height="7.10" fill="#003b6f"/>
<rect x="1920" y="1530.76" width="410.83" height="7.10" fill="#013b70"/>
<rect x="1920" y="1537.57" width="345.42" height="7.10" fill="#023b70"/>
<rect x="1920" y="1544.37" width="343.75" height="7.10" fill="#013e6c"/>
<rect x="1920" y="1551.17" width="330.67" height="7.10" fill="#003c6e"/>
<rect x="1920" y="1557.97" width="311.75" height="7.10" fill="#003b6f"/>
<rect x="1920" y="1564.77" width="310.63" height="7.10" fill="#013b6f"/>
<rect x="1920" y="1571.57" width="322.88" height="7.10" fill="#033b70"/>
<rect x="1920" y="1578.38" width="291.71" height="7.10" fill="#003b6f"/>
<rect x="1920" y="1585.18" width="270.00" height="7.10" fill="#013d6d"/>
<rect x="1920" y="1591.98" width="280.85" height="7.10" fill="#013b6f"/>
<rect x="1920" y="1598.78" width="216.00" height="7.10" fill="#013b6f"/>
<rect x="1920" y="1605.58" width="240.77" height="7.10" fill="#013b6f"/>
<rect x="1920" y="1612.38" width="211.83" height="7.10" fill="#003b6f"/>
<rect x="1920" y="1619.19" width="220.73" height="7.10" fill="#043b71"/>
<rect x="1920" y="1625.99" width="233.82" height="7.10" fill="#013b6f"/>
<rect x="1920" y="1632.79" width="199.03" height="7.10" fill="#02406a"/>
<rect x="1920" y="1639.59" width="189.56" height="7.10" fill="#02406a"/>
<rect x="1920" y="1646.39" width="184.00" height="7.10" fill="#02406a"/>
<rect x="1920" y="1653.19" width="194.85" height="7.10" fill="#02406a"/>
<rect x="1920" y="1660.00" width="167.85" height="7.10" fill="#02406a"/>
<rect x="1920" y="1666.80" width="158.67" height="7.10" fill="#02406a"/>
<rect x="1920" y="1673.60" width="143.92" height="7.10" fill="#02406a"/>
<rect x="1920" y="1680.40" width="121.93" height="7.10" fill="#02406a"/>
<rect x="1920" y="1687.20" width="126.66" height="7.10" fill="#02406a"/>
<rect x="1920" y="1694.00" width="116.92" height="7.10" fill="#02406a"/>
<rect x="1920" y="1700.80" width="112.75" height="7.10" fill="#02406a"/>
<rect x="1920" y="1707.61" width="99.67" height="7.10" fill="#02406a"/>
<rect x="1920" y="1714.41" width="85.75" height="7.10" fill="#02406a"/>
<rect x="1920" y="1721.21" width="89.92" height="7.10" fill="#02406a"/>
<rect x="1920" y="1728.01" width="65.71" height="7.10" fill="#033b70"/>
<rect x="1920" y="1734.81" width="89.92" height="7.10" fill="#003c6e"/>
<rect x="1920" y="1741.61" width="66.82" height="7.10" fill="#033b70"/>
<rect x="1920" y="1748.42" width="65.71" height="7.10" fill="#033b70"/>
<rect x="1920" y="1755.22" width="64.60" height="7.10" fill="#013d6d"/>
<rect x="1920" y="1762.02" width="52.91" height="7.10" fill="#023b70"/>
<rect x="1920" y="1768.82" width="41.78" height="7.10" fill="#063b72"/>
<rect x="1920" y="1775.62" width="66.82" height="7.10" fill="#073a72"/>
<rect x="1920" y="1782.42" width="57.92" height="7.10" fill="#083a72"/>
<rect x="1920" y="1789.23" width="39.83" height="7.10" fill="#093a73"/>
<rect x="1920" y="1796.03" width="44.84" height="7.10" fill="#093a73"/>
<rect x="1920" y="1802.83" width="30.09" height="7.10" fill="#0a3a73"/>
<rect x="1920" y="1809.63" width="32.03" height="7.10" fill="#0b3a74"/>
<rect x="1920" y="1816.43" width="23.96" height="7.10" fill="#0c3a74"/>
<rect x="1920" y="1823.23" width="24.32" height="7.10" fill="#0d3a74"/>
<rect x="1920" y="1830.04" width="29.41" height="7.10" fill="#0e3a75"/>
<rect x="1920" y="1836.84" width="23.92" height="7.10" fill="#0e3a75"/>
<rect x="1920" y="1843.64" width="22.88" height="7.10" fill="#0f3a75"/>
<rect x="1920" y="1850.44" width="25.75" height="7.10" fill="#103a76"/>
<rect x="1920" y="1857.24" width="17.75" height="7.10" fill="#113a76"/>
<rect x="1920" y="1864.04" width="17.55" height="7.10" fill="#123a76"/>
<rect x="1920" y="1870.84" width="17.35" height="7.10" fill="#133a77"/>
<rect x="1920" y="1877.65" width="15.21" height="7.10" fill="#133977"/>
<rect x="1920" y="1884.45" width="14.73" height="7.10" fill="#143977"/>
<rect x="1920" y="1891.25" width="14.53" height="7.10" fill="#153978"/>
<rect x="1920" y="1898.05" width="10.43" height="7.10" fill="#163978"/>
<rect x="1920" y="1904.85" width="12.18" height="7.10" fill="#173978"/>
<rect x="1920" y="1911.65" width="11.98" height="7.10" fill="#183979"/>
<rect x="1920" y="1918.46" width="8.80" height="7.10" fill="#1c397b"/>
<rect x="1920" y="1925.26" width="14.80" height="7.10" fill="#21387c"/>
<rect x="1920" y="1932.06" width="10.90" height="7.10" fill="#293880"/>
<rect x="1920" y="1938.86" width="10.90" height="7.10" fill="#26387f"/>
<rect x="1920" y="1945.66" width="8.80" height="7.10" fill="#25387e"/>
<rect x="1920" y="1952.46" width="8.80" height="7.10" fill="#23387d"/>
<rect x="1920" y="1959.27" width="7.80" height="7.10" fill="#26387f"/>
<rect x="1920" y="1966.07" width="7.80" height="7.10" fill="#28387f"/>
<rect x="1920" y="1972.87" width="9.80" height="7.10" fill="#25387e"/>
<rect x="1920" y="1979.67" width="8.80" height="7.10" fill="#293880"/>
<rect x="1920" y="1986.47" width="10.90" height="7.10" fill="#2b3881"/>
<rect x="1920" y="1993.27" width="5.90" height="7.10" fill="#23387d"/>
<rect x="1920" y="2000.08" width="3.00" height="7.10" fill="#1d397b"/>
<rect x="1920" y="2006.88" width="2.70" height="7.10" fill="#2c3881"/>
<rect x="1920" y="2013.68" width="6.90" height="7.10" fill="#23387d"/>
<rect x="1920" y="2020.48" width="7.80" height="7.10" fill="#27387f"/>
<rect x="1920" y="2034.08" width="4.80" height="7.10" fill="#1d397b"/>
<rect x="1920" y="2040.88" width="3.00" height="7.10" fill="#26387f"/>
<rect x="1920" y="2047.69" width="3.00" height="7.10" fill="#1a397a"/>
<rect x="1920" y="2102.10" width="3.00" height="7.10" fill="#23387d"/>
</g>
<rect x="2610" y="720" width="150" height="1440" fill="url(#cbg)"/>
<path d="M360.00 600.00V566.70M360.00 120.00V153.30M673.04 600.00V566.70M673.04 120.00V153.30M986.09 600.00V566.70M986.09 120.00V153.30M1299.13 600.00V566.70M1299.13 120.00V153.30M1612.17 600.00V566.70M1612.17 120.00V153.30M360.00 2160.00V2126.70M360.00 720.00V753.30M673.04 2160.00V2126.70M673.04 720.00V753.30M986.09 2160.00V2126.70M986.09 720.00V753.30M1299.13 2160.00V2126.70M1299.13 720.00V753.30M1612.17 2160.00V2126.70M1612.17 720.00V753.30M360.00 600.00H393.30M1800.00 600.00H1766.70M360.00 243.50H393.30M1800.00 243.50H1766.70M360.00 1981.43H393.30M1800.00 1981.43H1766.70M360.00 1800.95H393.30M1800.00 1800.95H1766.70M360.00 1620.47H393.30M1800.00 1620.47H1766.70M360.00 1440.00H393.30M1800.00 1440.00H1766.70M360.00 1259.53H393.30M1800.00 1259.53H1766.70M360.00 1079.05H393.30M1800.00 1079.05H1766.70M360.00 898.57H393.30M1800.00 898.57H1766.70M1920.00 2160.00V2126.70M1920.00 720.00V753.30M2267.00 2160.00V2126.70M2267.00 720.00V753.30M1920.00 1981.43H1953.30M2490.00 1981.43H2456.70M1920.00 1800.95H1953.30M2490.00 1800.95H2456.70M1920.00 1620.47H1953.30M2490.00 1620.47H2456.70M1920.00 1440.00H1953.30M2490.00 1440.00H2456.70M1920.00 1259.53H1953.30M2490.00 1259.53H2456.70M1920.00 1079.05H1953.30M2490.00 1079.05H2456.70M1920.00 898.57H1953.30M2490.00 898.57H2456.70M2760.00 1872.00H2726.70M2760.00 1584.00H2726.70M2760.00 1296.00H2726.70M2760.00 1008.00H2726.70" stroke="#000" stroke-width="2.6" fill="none"/>
<path d="M422.61 600.00V583.30M422.61 120.00V136.70M485.22 600.00V583.30M485.22 120.00V136.70M547.83 600.00V583.30M547.83 120.00V136.70M610.43 600.00V583.30M610.43 120.00V136.70M735.65 600.00V583.30M735.65 120.00V136.70M798.26 600.00V583.30M798.26 120.00V136.70M860.87 600.00V583.30M860.87 120.00V136.70M923.48 600.00V583.30M923.48 120.00V136.70M1048.70 600.00V583.30M1048.70 120.00V136.70M1111.30 600.00V583.30M1111.30 120.00V136.70M1173.91 600.00V583.30M1173.91 120.00V136.70M1236.52 600.00V583.30M1236.52 120.00V136.70M1361.74 600.00V583.30M1361.74 120.00V136.70M1424.35 600.00V583.30M1424.35 120.00V136.70M1486.96 600.00V583.30M1486.96 120.00V136.70M1549.57 600.00V583.30M1549.57 120.00V136.70M1674.78 600.00V583.30M1674.78 120.00V136.70M1737.39 600.00V583.30M1737.39 120.00V136.70M1800.00 600.00V583.30M1800.00 120.00V136.70M422.61 2160.00V2143.30M422.61 720.00V736.70M485.22 2160.00V2143.30M485.22 720.00V736.70M547.83 2160.00V2143.30M547.83 720.00V736.70M610.43 2160.00V2143.30M610.43 720.00V736.70M735.65 2160.00V2143.30M735.65 720.00V736.70M798.26 2160.00V2143.30M798.26 720.00V736.70M860.87 2160.00V2143.30M860.87 720.00V736.70M923.48 2160.00V2143.30M923.48 720.00V736.70M1048.70 2160.00V2143.30M1048.70 720.00V736.70M1111.30 2160.00V2143.30M1111.30 720.00V736.70M1173.91 2160.00V2143.30M1173.91 720.00V736.70M1236.52 2160.00V2143.30M1236.52 720.00V736.70M1361.74 2160.00V2143.30M1361.74 720.00V736.70M1424.35 2160.00V2143.30M1424.35 720.00V736.70M1486.96 2160.00V2143.30M1486.96 720.00V736.70M1549.57 2160.00V2143.30M1549.57 720.00V736.70M1674.78 2160.00V2143.30M1674.78 720.00V736.70M1737.39 2160.00V2143.30M1737.39 720.00V736.70M1800.00 2160.00V2143.30M1800.00 720.00V736.70M360.00 528.70H376.70M1800.00 528.70H1783.30M360.00 457.40H376.70M1800.00 457.40H1783.30M360.00 386.10H376.70M1800.00 386.10H1783.30M360.00 314.80H376.70M1800.00 314.80H1783.30M360.00 172.20H376.70M1800.00 172.20H1783.30M360.00 2125.81H376.70M1800.00 2125.81H1783.30M360.00 2089.71H376.70M1800.00 2089.71H1783.30M360.00 2053.61H376.70M1800.00 2053.61H1783.30M360.00 2017.52H376.70M1800.00 2017.52H1783.30M360.00 1945.33H376.70M1800.00 1945.33H1783.30M360.00 1909.24H376.70M1800.00 1909.24H1783.30M360.00 1873.14H376.70M1800.00 1873.14H1783.30M360.00 1837.05H376.70M1800.00 1837.05H1783.30M360.00 1764.86H376.70M1800.00 1764.86H1783.30M360.00 1728.76H376.70M1800.00 1728.76H1783.30M360.00 1692.66H376.70M1800.00 1692.66H1783.30M360.00 1656.57H376.70M1800.00 1656.57H1783.30M360.00 1584.38H376.70M1800.00 1584.38H1783.30M360.00 1548.29H376.70M1800.00 1548.29H1783.30M360.00 1512.19H376.70M1800.00 1512.19H1783.30M360.00 1476.10H376.70M1800.00 1476.10H1783.30M360.00 1403.90H376.70M1800.00 1403.90H1783.30M360.00 1367.81H376.70M1800.00 1367.81H1783.30M360.00 1331.71H376.70M1800.00 1331.71H1783.30M360.00 1295.62H376.70M1800.00 1295.62H1783.30M360.00 1223.43H376.70M1800.00 1223.43H1783.30M360.00 1187.34H376.70M1800.00 1187.34H1783.30M360.00 1151.24H376.70M1800.00 1151.24H1783.30M360.00 1115.14H376.70M1800.00 1115.14H1783.30M360.00 1042.95H376.70M1800.00 1042.95H1783.30M360.00 1006.86H376.70M1800.00 1006.86H1783.30M360.00 970.76H376.70M1800.00 970.76H1783.30M360.00 934.67H376.70M1800.00 934.67H1783.30M360.00 862.48H376.70M1800.00 862.48H1783.30M360.00 826.38H376.70M1800.00 826.38H1783.30M360.00 790.29H376.70M1800.00 790.29H1783.30M360.00 754.19H376.70M1800.00 754.19H1783.30M1989.40 2160.00V2143.30M1989.40 720.00V736.70M2058.80 2160.00V2143.30M2058.80 720.00V736.70M2128.20 2160.00V2143.30M2128.20 720.00V736.70M2197.60 2160.00V2143.30M2197.60 720.00V736.70M2336.40 2160.00V2143.30M2336.40 720.00V736.70M2405.80 2160.00V2143.30M2405.80 720.00V736.70M2475.20 2160.00V2143.30M2475.20 720.00V736.70M1920.00 2125.81H1936.70M2490.00 2125.81H2473.30M1920.00 2089.71H1936.70M2490.00 2089.71H2473.30M1920.00 2053.61H1936.70M2490.00 2053.61H2473.30M1920.00 2017.52H1936.70M2490.00 2017.52H2473.30M1920.00 1945.33H1936.70M2490.00 1945.33H2473.30M1920.00 1909.24H1936.70M2490.00 1909.24H2473.30M1920.00 1873.14H1936.70M2490.00 1873.14H2473.30M1920.00 1837.05H1936.70M2490.00 1837.05H2473.30M1920.00 1764.86H1936.70M2490.00 1764.86H2473.30M1920.00 1728.76H1936.70M2490.00 1728.76H2473.30M1920.00 1692.66H1936.70M2490.00 1692.66H2473.30M1920.00 1656.57H1936.70M2490.00 1656.57H2473.30M1920.00 1584.38H1936.70M2490.00 1584.38H2473.30M1920.00 1548.29H1936.70M2490.00 1548.29H2473.30M1920.00 1512.19H1936.70M2490.00 1512.19H2473.30M1920.00 1476.10H1936.70M2490.00 1476.10H2473.30M1920.00 1403.90H1936.70M2490.00 1403.90H2473.30M1920.00 1367.81H1936.70M2490.00 1367.81H2473.30M1920.00 1331.71H1936.70M2490.00 1331.71H2473.30M1920.00 1295.62H1936.70M2490.00 1295.62H2473.30M1920.00 1223.43H1936.70M2490.00 1223.43H2473.30M1920.00 1187.34H1936.70M2490.00 1187.34H2473.30M1920.00 1151.24H1936.70M2490.00 1151.24H2473.30M1920.00 1115.14H1936.70M2490.00 1115.14H2473.30M1920.00 1042.95H1936.70M2490.00 1042.95H2473.30M1920.00 1006.86H1936.70M2490.00 1006.86H2473.30M1920.00 970.76H1936.70M2490.00 970.76H2473.30M1920.00 934.67H1936.70M2490.00 934.67H2473.30M1920.00 862.48H1936.70M2490.00 862.48H2473.30M1920.00 826.38H1936.70M2490.00 826.38H2473.30M1920.00 790.29H1936.70M2490.00 790.29H2473.30M1920.00 754.19H1936.70M2490.00 754.19H2473.30M2760.00 2088.00H2743.30M2760.00 2016.00H2743.30M2760.00 1944.00H2743.30M2760.00 1800.00H2743.30M2760.00 1728.00H2743.30M2760.00 1656.00H2743.30M2760.00 1512.00H2743.30M2760.00 1440.00H2743.30M2760.00 1368.00H2743.30M2760.00 1224.00H2743.30M2760.00 1152.00H2743.30M2760.00 1080.00H2743.30M2760.00 936.00H2743.30M2760.00 864.00H2743.30M2760.00 792.00H2743.30" stroke="#000" stroke-width="2.1" fill="none"/>
<rect x="360.4" y="120.4" width="1440" height="480" fill="none" stroke="#000" stroke-width="3.1"/>
<rect x="360.4" y="720.4" width="1440" height="1440" fill="none" stroke="#000" stroke-width="3.1"/>
<rect x="1920.4" y="720.4" width="570" height="1440" fill="none" stroke="#000" stroke-width="3.1"/>
<rect x="2610.4" y="720.4" width="150" height="1440" fill="none" stroke="#000" stroke-width="3.1"/>
<text transform="translate(1917.42,281.10) scale(0.5906,1)" font-size="129.60">PepDF</text>
<text transform="translate(1918.82,281.10) scale(0.5906,1)" font-size="129.60">PepDF</text>
<text transform="translate(1920.22,281.10) scale(0.5906,1)" font-size="129.60">PepDF</text>
<text transform="translate(1919.83,432.80) scale(0.6352,1)" font-size="106.00">Time window: 5 ns</text>
<text transform="translate(1920.63,432.80) scale(0.6352,1)" font-size="106.00">Time window: 5 ns</text>
<text transform="translate(1921.43,432.80) scale(0.6352,1)" font-size="106.00">Time window: 5 ns</text>
<text transform="translate(211.50,499.27) rotate(-90) scale(0.6065,1)" font-size="106.50"># Counts</text>
<text transform="translate(211.50,498.67) rotate(-90) scale(0.6065,1)" font-size="106.50"># Counts</text>
<text transform="translate(211.50,498.07) rotate(-90) scale(0.6065,1)" font-size="106.50"># Counts</text>
<text transform="translate(192.20,1784.89) rotate(-90) scale(0.6341,1)" font-size="106.50">Precession (degrees)</text>
<text transform="translate(192.20,1784.29) rotate(-90) scale(0.6341,1)" font-size="106.50">Precession (degrees)</text>
<text transform="translate(192.20,1783.69) rotate(-90) scale(0.6341,1)" font-size="106.50">Precession (degrees)</text>
<text transform="translate(656.56,2344.20) scale(0.6420,1)" font-size="106.50">Lateral displacement (nm)</text>
<text transform="translate(657.16,2344.20) scale(0.6420,1)" font-size="106.50">Lateral displacement (nm)</text>
<text transform="translate(657.76,2344.20) scale(0.6420,1)" font-size="106.50">Lateral displacement (nm)</text>
<text transform="translate(2065.12,2343.80) scale(0.6112,1)" font-size="106.50"># Counts</text>
<text transform="translate(2065.72,2343.80) scale(0.6112,1)" font-size="106.50"># Counts</text>
<text transform="translate(2066.32,2343.80) scale(0.6112,1)" font-size="106.50"># Counts</text>
<text transform="translate(2931.40,1734.02) rotate(-90) scale(0.6253,1)" font-size="86.50">Normalized Mean Time</text>
<text transform="translate(2931.40,1733.32) rotate(-90) scale(0.6253,1)" font-size="86.50">Normalized Mean Time</text>
<text transform="translate(2931.40,1732.62) rotate(-90) scale(0.6253,1)" font-size="86.50">Normalized Mean Time</text>
<text transform="translate(254.17,263.20) scale(0.6202,1)" font-size="85.00">500</text>
<text transform="translate(254.97,263.20) scale(0.6202,1)" font-size="85.00">500</text>
<text transform="translate(255.77,263.20) scale(0.6202,1)" font-size="85.00">500</text>
<text transform="translate(314.17,619.70) scale(0.5924,1)" font-size="85.00">0</text>
<text transform="translate(314.97,619.70) scale(0.5924,1)" font-size="85.00">0</text>
<text transform="translate(315.77,619.70) scale(0.5924,1)" font-size="85.00">0</text>
<text transform="translate(283.28,918.77) scale(0.6139,1)" font-size="85.00">75</text>
<text transform="translate(284.08,918.77) scale(0.6139,1)" font-size="85.00">75</text>
<text transform="translate(284.88,918.77) scale(0.6139,1)" font-size="85.00">75</text>
<text transform="translate(284.07,1099.25) scale(0.6139,1)" font-size="85.00">50</text>
<text transform="translate(284.87,1099.25) scale(0.6139,1)" font-size="85.00">50</text>
<text transform="translate(285.67,1099.25) scale(0.6139,1)" font-size="85.00">50</text>
<text transform="translate(283.27,1279.73) scale(0.6141,1)" font-size="85.00">25</text>
<text transform="translate(284.07,1279.73) scale(0.6141,1)" font-size="85.00">25</text>
<text transform="translate(284.87,1279.73) scale(0.6141,1)" font-size="85.00">25</text>
<text transform="translate(313.97,1460.20) scale(0.5924,1)" font-size="85.00">0</text>
<text transform="translate(314.77,1460.20) scale(0.5924,1)" font-size="85.00">0</text>
<text transform="translate(315.57,1460.20) scale(0.5924,1)" font-size="85.00">0</text>
<text transform="translate(283.27,1640.67) scale(0.6141,1)" font-size="85.00">25</text>
<text transform="translate(284.07,1640.67) scale(0.6141,1)" font-size="85.00">25</text>
<text transform="translate(284.87,1640.67) scale(0.6141,1)" font-size="85.00">25</text>
<rect x="238.1" y="1612.7" width="44" height="5.2"/>
<text transform="translate(284.07,1821.15) scale(0.6139,1)" font-size="85.00">50</text>
<text transform="translate(284.87,1821.15) scale(0.6139,1)" font-size="85.00">50</text>
<text transform="translate(285.67,1821.15) scale(0.6139,1)" font-size="85.00">50</text>
<rect x="238.6" y="1793.2" width="44" height="5.2"/>
<text transform="translate(283.28,2001.63) scale(0.6139,1)" font-size="85.00">75</text>
<text transform="translate(284.08,2001.63) scale(0.6139,1)" font-size="85.00">75</text>
<text transform="translate(284.88,2001.63) scale(0.6139,1)" font-size="85.00">75</text>
<rect x="238.6" y="1973.6" width="44" height="5.2"/>
<text transform="translate(322.71,2235.20) scale(0.6176,1)" font-size="85.00">0.0</text>
<text transform="translate(323.51,2235.20) scale(0.6176,1)" font-size="85.00">0.0</text>
<text transform="translate(324.31,2235.20) scale(0.6176,1)" font-size="85.00">0.0</text>
<text transform="translate(635.49,2235.20) scale(0.6177,1)" font-size="85.00">0.5</text>
<text transform="translate(636.29,2235.20) scale(0.6177,1)" font-size="85.00">0.5</text>
<text transform="translate(637.09,2235.20) scale(0.6177,1)" font-size="85.00">0.5</text>
<text transform="translate(948.16,2235.20) scale(0.6174,1)" font-size="85.00">1.0</text>
<text transform="translate(948.96,2235.20) scale(0.6174,1)" font-size="85.00">1.0</text>
<text transform="translate(949.76,2235.20) scale(0.6174,1)" font-size="85.00">1.0</text>
<text transform="translate(1260.94,2235.20) scale(0.6175,1)" font-size="85.00">1.5</text>
<text transform="translate(1261.74,2235.20) scale(0.6175,1)" font-size="85.00">1.5</text>
<text transform="translate(1262.54,2235.20) scale(0.6175,1)" font-size="85.00">1.5</text>
<text transform="translate(1575.02,2235.20) scale(0.6177,1)" font-size="85.00">2.0</text>
<text transform="translate(1575.82,2235.20) scale(0.6177,1)" font-size="85.00">2.0</text>
<text transform="translate(1576.62,2235.20) scale(0.6177,1)" font-size="85.00">2.0</text>
<text transform="translate(1906.23,2235.20) scale(0.5924,1)" font-size="85.00">0</text>
<text transform="translate(1907.03,2235.20) scale(0.5924,1)" font-size="85.00">0</text>
<text transform="translate(1907.83,2235.20) scale(0.5924,1)" font-size="85.00">0</text>
<text transform="translate(2223.64,2235.20) scale(0.6202,1)" font-size="85.00">500</text>
<text transform="translate(2224.44,2235.20) scale(0.6202,1)" font-size="85.00">500</text>
<text transform="translate(2225.24,2235.20) scale(0.6202,1)" font-size="85.00">500</text>
<text transform="translate(2778.30,2181.50) scale(0.6176,1)" font-size="85.00">0.0</text>
<text transform="translate(2779.10,2181.50) scale(0.6176,1)" font-size="85.00">0.0</text>
<text transform="translate(2779.90,2181.50) scale(0.6176,1)" font-size="85.00">0.0</text>
<text transform="translate(2778.30,1893.50) scale(0.6176,1)" font-size="85.00">0.2</text>
<text transform="translate(2779.10,1893.50) scale(0.6176,1)" font-size="85.00">0.2</text>
<text transform="translate(2779.90,1893.50) scale(0.6176,1)" font-size="85.00">0.2</text>
<text transform="translate(2778.30,1605.50) scale(0.6180,1)" font-size="85.00">0.4</text>
<text transform="translate(2779.10,1605.50) scale(0.6180,1)" font-size="85.00">0.4</text>
<text transform="translate(2779.90,1605.50) scale(0.6180,1)" font-size="85.00">0.4</text>
<text transform="translate(2778.30,1317.50) scale(0.6177,1)" font-size="85.00">0.6</text>
<text transform="translate(2779.10,1317.50) scale(0.6177,1)" font-size="85.00">0.6</text>
<text transform="translate(2779.90,1317.50) scale(0.6177,1)" font-size="85.00">0.6</text>
<text transform="translate(2778.30,1029.50) scale(0.6177,1)" font-size="85.00">0.8</text>
<text transform="translate(2779.10,1029.50) scale(0.6177,1)" font-size="85.00">0.8</text>
<text transform="translate(2779.90,1029.50) scale(0.6177,1)" font-size="85.00">0.8</text>
<text transform="translate(2776.99,741.50) scale(0.6174,1)" font-size="85.00">1.0</text>
<text transform="translate(2777.79,741.50) scale(0.6174,1)" font-size="85.00">1.0</text>
<text transform="translate(2778.59,741.50) scale(0.6174,1)" font-size="85.00">1.0</text>
</svg></body></html>
